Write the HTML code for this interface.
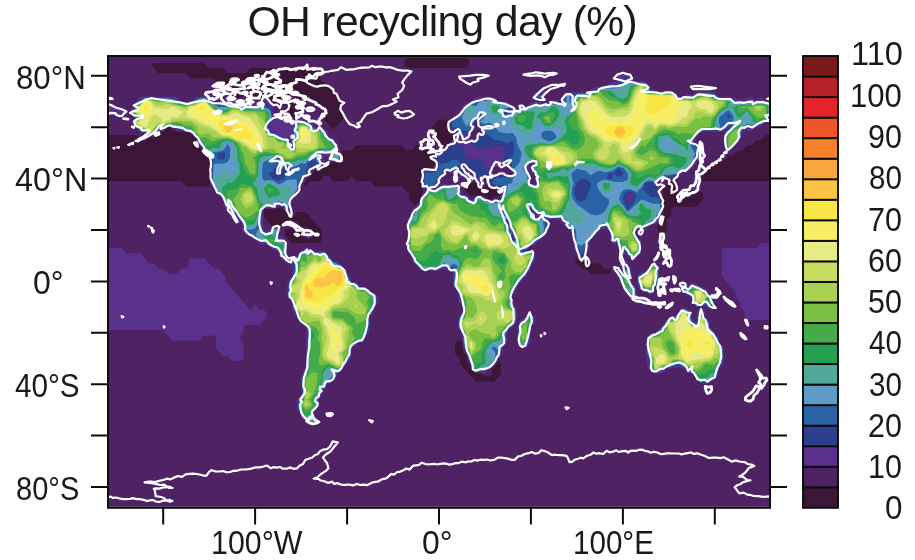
<!DOCTYPE html>
<html lang="en"><head><meta charset="utf-8"><title>OH recycling day (%)</title>
<style>
html,body{margin:0;padding:0;background:#fff;}
body{width:915px;height:560px;position:relative;overflow:hidden;font-family:"Liberation Sans",sans-serif;color:#1a1a1a;}
.title{position:absolute;font-size:42.7px;letter-spacing:-0.68px;line-height:48px;white-space:nowrap;text-align:center;}
.lab{position:absolute;font-size:32.4px;line-height:36px;white-space:nowrap;transform-origin:0 0;}
</style></head><body>
<svg width="915" height="560" viewBox="0 0 915 560" style="position:absolute;left:0;top:0">
<defs><clipPath id="fc"><rect x="109.0" y="57.0" width="660.0" height="449.8"/></clipPath></defs>
<rect x="109.0" y="57.0" width="660.0" height="449.8" fill="#4f2263"/>
<g clip-path="url(#fc)">
<path d="M475.8 381.7L480.4 381.7L485.0 381.7L489.6 381.7L494.2 381.7L496.5 379.1L498.8 376.5L501.1 374.0L501.1 368.8L501.1 363.7L498.8 361.1L497.1 363.7L494.2 366.9L491.9 368.8L491.9 374.0L489.6 376.5L485.0 376.5L482.7 374.0L480.4 373.5L475.8 373.6L471.5 368.8L471.2 367.4L467.8 363.7L466.9 358.5L466.6 356.0L464.3 353.4L462.3 348.3L462.2 343.1L462.0 340.6L457.4 340.6L455.1 343.1L455.1 348.3L455.1 353.4L457.4 356.0L459.7 358.5L459.7 363.7L462.0 366.3L464.3 368.8L466.6 371.4L468.9 374.0L471.2 376.5L473.5 379.1L475.8 381.7ZM590.7 273.7L595.3 273.7L599.9 273.7L604.5 273.7L609.1 273.7L611.4 271.2L609.1 268.6L604.5 268.6L602.2 266.0L599.9 263.5L595.3 263.5L590.7 263.5L586.1 264.8L582.6 260.9L581.5 260.1L576.9 258.3L574.6 260.9L576.9 263.5L579.2 266.0L581.5 268.6L586.1 268.6L588.4 271.2L590.7 273.7ZM291.9 242.9L296.5 242.9L301.1 242.9L305.7 242.9L310.3 242.9L314.9 242.9L319.5 242.9L321.8 240.3L321.8 235.2L321.8 230.0L319.5 227.5L317.2 224.9L314.9 222.3L312.6 219.8L310.3 217.2L308.0 214.6L305.7 212.1L301.1 212.1L296.5 212.1L295.3 214.6L291.9 218.5L288.4 214.6L287.3 214.0L283.2 209.5L282.7 208.8L278.1 208.1L273.5 209.0L268.9 209.0L264.3 209.1L264.0 209.5L263.9 214.6L264.3 217.2L266.6 219.8L268.9 222.3L271.2 224.9L273.5 225.4L278.1 225.5L282.7 227.5L284.1 224.9L287.3 221.3L291.9 220.6L296.5 221.8L299.2 224.9L299.9 230.0L296.5 233.4L293.5 230.0L291.9 229.2L287.3 228.5L285.0 230.0L285.0 235.2L287.3 237.8L289.6 240.3L291.9 242.9ZM302.2 235.2L301.9 230.0L305.7 226.3L309.5 230.0L310.3 230.8L313.8 235.2L310.3 239.2L305.7 239.1L302.2 235.2ZM659.7 232.6L664.3 232.6L666.6 230.0L666.6 224.9L666.6 219.8L668.9 217.2L671.2 214.6L671.2 209.5L673.5 206.9L678.1 206.9L682.7 206.9L687.3 206.9L691.8 206.9L696.4 206.9L698.7 204.3L701.0 201.8L703.3 199.2L703.3 194.1L701.0 191.5L696.4 192.9L694.2 194.1L691.8 196.7L687.3 196.9L682.7 195.8L681.1 194.1L678.1 191.5L675.4 188.9L675.4 183.8L673.5 182.0L668.9 182.2L666.6 183.8L664.3 186.4L663.2 188.9L663.1 194.1L663.7 199.2L663.8 204.3L663.8 209.5L663.3 214.6L663.0 219.8L659.7 223.5L657.4 224.9L657.4 230.0L659.7 232.6ZM416.0 205.1L416.5 204.3L420.6 199.8L420.9 199.2L421.7 194.1L422.9 188.9L421.2 183.8L421.2 178.6L421.2 173.5L425.2 168.5L429.8 169.0L431.8 168.4L434.4 165.6L435.1 163.2L434.4 162.3L430.6 158.1L434.4 153.5L435.4 153.0L434.4 151.1L432.0 147.8L433.0 142.7L429.8 138.5L426.5 142.7L425.2 146.9L420.6 145.5L416.0 145.2L413.7 147.8L411.4 150.4L406.8 150.4L404.5 147.8L402.2 145.2L397.6 145.2L393.0 145.2L388.4 145.2L383.8 145.2L379.2 145.2L374.6 145.2L370.0 145.2L365.4 145.2L360.8 145.2L356.2 145.2L354.0 147.8L351.7 150.4L347.1 150.4L342.5 150.4L341.8 152.9L342.3 158.1L337.9 162.8L333.3 162.8L328.7 160.7L327.6 163.2L324.1 167.2L322.6 168.4L319.5 171.9L314.9 170.9L312.6 173.5L310.3 176.1L308.0 178.6L305.7 181.2L304.3 183.8L305.7 186.4L308.0 183.8L310.3 181.2L314.9 181.2L319.5 181.2L321.8 178.6L324.1 176.1L328.7 176.1L331.0 178.6L333.3 181.2L337.9 181.2L342.5 181.2L347.1 181.2L349.4 178.6L351.7 176.1L354.0 178.6L356.2 181.2L360.8 181.2L365.4 181.2L370.0 181.2L372.3 183.8L374.6 186.4L379.2 186.4L383.8 186.4L388.4 186.4L393.0 186.4L397.6 186.4L402.2 186.4L404.5 188.9L406.8 191.5L409.1 194.1L409.1 199.2L411.4 201.8L413.7 204.3L416.0 205.1ZM489.6 199.6L491.9 199.2L494.2 196.6L498.8 196.6L500.0 194.1L498.8 193.0L494.6 188.9L494.2 188.7L489.6 188.1L485.0 186.4L480.4 187.9L476.7 183.8L475.8 182.6L471.2 182.2L469.8 183.8L466.6 187.4L464.3 188.9L466.6 191.5L468.9 194.1L471.2 196.6L475.8 194.9L480.4 194.4L485.0 195.4L488.4 199.2L489.6 199.6ZM301.1 191.5L303.4 188.9L301.1 187.4L300.6 188.9L301.1 191.5ZM186.2 186.4L190.7 186.4L195.3 186.4L199.9 186.4L204.5 186.4L209.1 186.4L209.6 183.8L209.6 178.6L209.6 173.5L209.6 168.4L209.7 163.2L209.1 159.4L208.0 158.1L204.5 154.5L203.2 152.9L200.3 147.8L199.9 146.7L196.4 142.7L195.6 137.5L195.3 137.2L190.7 134.8L188.6 132.4L186.2 132.1L181.6 132.0L177.0 131.8L172.4 130.3L169.6 127.2L167.8 127.0L167.5 127.2L163.2 132.1L158.6 131.9L158.2 132.4L154.0 137.1L149.4 137.3L148.8 137.5L144.8 142.0L140.2 139.9L138.1 137.5L135.6 135.0L131.0 135.0L126.4 135.0L121.8 135.0L117.2 135.0L112.6 135.0L108.0 135.0L108.0 137.5L108.0 142.7L108.0 147.8L108.0 152.9L108.0 158.1L108.0 163.2L108.0 168.4L108.0 173.5L108.0 178.6L108.0 181.2L112.6 181.2L117.2 181.2L121.8 181.2L126.4 181.2L131.0 181.2L135.6 181.2L140.2 181.2L144.8 181.2L149.4 181.2L154.0 181.2L158.6 181.2L163.2 181.2L167.8 181.2L172.4 181.2L177.0 181.2L181.6 181.2L183.9 183.8L186.2 186.4ZM701.0 181.2L705.6 181.2L710.2 181.2L714.8 181.2L719.4 181.2L724.0 181.2L728.6 181.2L733.2 181.2L737.8 181.2L742.4 181.2L747.0 181.2L751.6 181.2L756.2 181.2L760.8 181.2L765.4 181.2L770.0 181.2L770.0 178.6L770.0 173.5L770.0 168.4L770.0 163.2L770.0 158.1L770.0 152.9L770.0 147.8L770.0 142.7L770.0 137.5L770.0 135.0L765.4 135.0L763.1 137.5L760.8 140.1L756.2 140.1L753.9 142.7L751.6 145.2L747.0 145.2L744.7 147.8L742.4 150.4L737.8 150.4L735.5 152.9L733.2 155.5L728.6 155.5L726.3 158.1L724.0 160.7L719.4 160.7L717.1 163.2L714.8 165.8L710.2 165.8L707.9 168.4L705.6 170.9L704.9 173.5L701.0 177.8L700.2 178.6L701.0 181.2ZM443.6 148.6L444.4 147.8L448.2 143.5L450.0 142.7L452.8 139.5L453.9 137.5L452.8 134.9L450.6 132.4L448.2 129.7L446.0 127.2L448.2 123.8L448.5 122.1L448.2 120.5L443.6 119.5L439.0 119.5L436.7 122.1L434.4 124.7L432.1 127.2L431.3 132.4L434.4 136.8L435.0 137.5L437.1 142.7L439.0 143.3L442.3 147.8L443.6 148.6ZM333.3 129.8L335.6 127.2L337.9 124.7L340.2 122.1L342.5 119.5L344.0 117.0L342.5 114.7L339.9 111.8L340.2 106.7L340.5 101.6L337.9 97.4L337.0 96.4L334.6 91.3L333.3 89.7L328.7 86.1L328.7 86.1L324.1 82.0L321.1 81.0L320.1 75.8L319.5 74.1L319.3 75.8L314.9 79.6L312.5 75.8L314.9 72.6L318.9 70.7L314.9 69.2L310.3 69.1L305.7 69.0L301.1 69.0L296.5 68.9L291.9 68.9L287.3 68.8L282.7 68.8L278.1 69.7L273.5 68.2L268.9 68.1L264.3 68.1L259.7 68.1L255.1 68.1L250.5 68.1L248.2 70.7L245.9 73.3L241.3 73.3L236.7 73.3L232.1 73.3L227.5 73.3L225.2 70.7L222.9 68.1L218.3 68.1L213.7 68.1L209.1 68.1L206.8 65.6L204.5 63.0L199.9 63.0L195.3 63.0L190.7 63.0L186.2 63.0L181.6 63.0L177.0 63.0L172.4 63.0L167.8 63.0L163.2 63.0L158.6 63.0L154.0 63.0L151.7 65.6L154.0 68.1L156.3 70.7L158.6 73.3L163.2 73.3L167.8 73.3L172.4 73.3L177.0 73.3L181.6 73.3L186.2 73.3L188.4 75.8L190.7 78.4L195.3 78.4L199.9 78.4L204.5 78.4L209.1 78.4L213.7 78.4L216.0 81.0L218.3 84.6L222.9 83.8L227.5 85.3L229.0 86.1L232.1 87.7L236.7 88.7L238.0 91.3L236.7 94.3L235.9 96.4L236.7 99.6L240.6 96.4L241.3 96.2L241.9 96.4L245.9 96.7L246.7 96.4L250.5 93.3L254.3 96.4L255.1 97.6L259.7 98.1L264.3 96.9L268.9 98.3L271.3 101.6L273.5 103.3L278.1 105.9L282.7 105.7L287.3 102.2L288.6 106.7L287.3 108.2L284.7 111.8L287.3 114.4L289.6 117.0L291.9 118.2L296.5 117.6L298.1 117.0L301.1 112.3L301.9 111.8L302.7 106.7L301.1 103.3L299.6 101.6L301.1 97.8L305.7 99.1L310.3 99.7L312.1 101.6L314.9 104.5L319.5 104.8L321.2 106.7L324.1 109.6L326.1 111.8L324.1 114.1L322.8 117.0L324.1 119.5L326.4 122.1L328.7 124.7L331.0 127.2L333.3 129.8ZM286.1 96.4L287.3 95.6L291.9 94.7L296.5 95.4L299.9 96.4L296.5 98.1L291.9 98.4L287.3 100.0L286.1 96.4ZM218.3 94.0L219.9 91.3L218.3 89.1L215.7 91.3L218.3 94.0ZM406.8 68.1L411.4 68.1L416.0 68.1L420.6 68.1L425.2 68.1L429.8 68.1L434.4 68.1L439.0 68.1L443.6 68.1L448.2 68.1L452.8 68.1L457.4 68.1L462.0 68.1L466.6 68.1L468.9 65.6L468.9 60.4L466.6 57.9L462.0 57.9L457.4 57.9L452.8 57.9L448.2 57.9L443.6 57.9L439.0 57.9L434.4 57.9L429.8 57.9L425.2 57.9L420.6 57.9L416.0 57.9L411.4 57.9L406.8 57.9L404.5 60.4L404.5 65.6L406.8 68.1Z" fill="#3b1637" fill-rule="evenodd"/>
<path d="M324.1 453.7L328.7 452.8L330.2 451.1L328.7 449.2L324.1 449.0L321.8 451.1L324.1 453.7ZM333.3 448.2L335.3 445.9L333.3 443.6L331.0 445.9L333.3 448.2ZM310.3 424.8L314.9 424.8L318.9 420.2L314.9 415.7L314.4 415.1L314.5 409.9L314.9 409.5L319.1 404.8L319.0 399.7L319.5 398.6L323.1 394.5L323.7 389.4L324.1 388.8L328.1 384.2L328.7 383.6L333.3 381.5L335.4 379.1L337.3 374.0L337.9 373.6L342.1 368.8L342.5 368.6L346.8 363.7L347.1 363.0L351.1 358.5L351.4 353.4L351.4 348.3L351.7 347.9L356.2 345.3L358.2 343.1L360.8 342.8L365.1 338.0L365.4 337.2L369.4 332.8L369.7 327.7L369.7 322.6L369.8 317.4L370.0 316.7L374.0 312.3L374.3 307.1L374.6 306.5L378.7 302.0L378.4 296.9L374.6 292.7L371.4 291.7L370.0 290.3L365.4 286.9L360.8 286.9L360.5 286.6L356.2 281.9L351.7 281.7L351.4 281.4L349.7 276.3L347.1 273.4L346.9 271.2L342.5 266.2L342.0 266.0L337.9 261.4L333.3 261.1L333.0 260.9L328.7 256.0L328.4 255.8L324.1 250.9L319.5 250.9L314.9 250.9L310.3 250.8L309.6 250.6L305.7 246.9L302.3 250.6L301.1 251.0L296.8 255.8L296.5 256.2L291.9 257.2L287.7 255.8L287.3 255.3L286.9 250.6L286.9 245.5L286.0 240.3L282.7 236.6L278.1 235.3L278.0 235.2L278.1 235.1L282.0 230.0L278.1 226.7L273.5 226.2L269.4 230.0L268.9 230.5L264.3 230.5L263.7 230.0L263.1 224.9L263.3 219.8L263.0 214.6L263.5 209.5L264.3 208.2L268.9 208.1L273.5 208.0L278.1 205.4L282.7 207.5L284.3 209.5L287.3 212.8L290.7 214.6L291.9 215.9L293.1 214.6L291.9 210.1L291.8 209.5L291.4 204.3L291.7 199.2L291.9 199.0L296.5 197.0L299.1 194.1L299.7 188.9L301.1 184.4L301.6 183.8L304.9 178.6L305.7 177.7L309.4 173.5L310.3 172.3L313.8 168.4L314.9 167.1L318.8 168.4L319.5 168.7L319.7 168.4L324.1 164.9L325.6 163.2L324.1 160.2L322.9 158.1L324.1 156.8L328.7 156.7L329.1 158.1L333.3 162.0L337.9 162.0L341.5 158.1L340.6 152.9L337.9 148.8L337.5 147.8L337.4 142.7L333.3 138.0L328.7 137.6L328.6 137.5L327.9 132.4L324.1 128.1L319.5 127.4L314.9 127.5L314.5 127.2L314.9 124.8L319.5 124.9L321.2 122.1L320.2 117.0L319.5 115.3L317.7 117.0L314.9 119.3L312.4 122.1L310.3 122.5L305.7 122.2L305.4 122.1L301.1 117.8L296.5 120.2L291.9 120.6L287.3 119.3L282.7 119.3L278.1 119.4L275.5 117.0L273.5 114.7L273.0 111.8L273.3 106.7L268.9 103.0L267.8 101.6L264.3 98.7L260.8 101.6L259.7 102.4L255.1 103.2L250.5 101.6L250.5 101.5L245.9 98.8L241.3 101.0L240.8 101.6L236.7 102.3L234.5 101.6L232.1 97.9L227.5 98.1L222.9 100.5L221.6 101.6L218.3 102.4L213.7 102.0L213.1 101.6L212.1 96.4L209.1 92.2L205.6 96.4L204.5 96.6L199.9 96.7L195.3 97.1L191.3 101.6L190.7 101.8L186.2 101.9L181.6 101.7L181.2 101.6L177.0 97.1L172.4 96.8L167.8 96.7L163.2 96.7L158.6 96.7L154.0 96.7L149.4 96.6L144.8 96.6L140.2 97.6L136.7 101.6L135.6 102.6L131.9 106.7L131.2 111.8L135.6 116.8L135.9 117.0L135.6 117.2L131.2 122.1L135.6 127.0L135.8 127.2L140.2 132.1L144.8 132.2L145.0 132.4L144.8 133.2L141.0 137.5L144.8 140.8L147.7 137.5L149.4 136.8L154.0 136.3L157.5 132.4L158.6 130.8L163.2 131.4L166.9 127.2L167.8 126.6L172.4 127.1L172.7 127.2L177.0 130.7L181.6 131.3L186.2 131.5L190.7 132.0L191.1 132.4L195.3 136.7L196.1 137.5L198.4 142.7L199.9 144.4L201.1 147.8L204.5 152.1L205.4 152.9L209.1 157.1L210.3 158.1L210.7 163.2L210.6 168.4L210.4 173.5L210.4 178.6L210.6 183.8L213.7 188.2L214.2 188.9L218.3 193.7L218.6 194.1L222.9 198.8L223.3 199.2L223.5 204.3L225.3 209.5L227.5 212.0L228.2 214.6L232.1 219.0L233.8 219.8L236.7 223.0L241.3 222.2L241.7 224.9L242.0 230.0L245.9 234.4L247.6 235.2L250.5 238.4L255.1 239.6L256.0 240.3L259.7 244.5L264.3 244.8L268.9 245.1L269.3 245.5L273.5 250.2L278.1 250.2L278.5 250.6L278.7 255.8L282.7 260.2L284.1 260.9L287.3 264.5L291.9 264.6L292.5 266.0L292.4 271.2L292.1 276.3L291.9 276.7L287.6 281.4L287.5 286.6L287.5 291.7L287.5 296.9L291.9 301.7L292.1 302.0L292.1 307.1L292.8 312.3L296.5 316.5L296.7 317.4L301.1 322.3L301.3 322.6L305.7 327.4L306.0 327.7L306.1 332.8L306.1 338.0L306.0 343.1L306.0 348.3L306.0 353.4L306.0 358.5L306.0 363.7L305.7 368.8L305.7 368.9L301.5 374.0L301.4 379.1L301.4 384.2L301.4 389.4L301.3 394.5L301.1 395.1L297.0 399.7L296.8 404.8L296.9 409.9L301.1 414.6L301.4 415.1L305.7 419.8L306.2 420.2L310.3 424.8ZM236.0 214.6L236.7 214.3L237.0 214.6L236.7 216.5L236.0 214.6ZM277.5 158.1L278.1 157.8L278.4 158.1L278.1 158.9L277.5 158.1ZM268.6 127.2L268.9 126.2L271.0 127.2L268.9 127.9L268.6 127.2ZM328.7 418.0L331.2 415.1L328.7 412.2L326.1 415.1L328.7 418.0ZM747.0 399.8L747.8 399.7L747.0 399.5L746.9 399.7L747.0 399.8ZM751.6 396.6L752.1 394.5L751.6 394.1L751.2 394.5L751.6 396.6ZM705.6 392.4L710.2 393.5L713.9 389.4L710.2 385.3L705.6 386.4L702.9 389.4L705.6 392.4ZM756.2 389.4L756.2 389.4L756.2 389.4L756.2 389.4L756.2 389.4ZM701.0 383.8L705.6 383.8L710.2 383.6L714.3 379.1L714.8 378.6L719.0 374.0L719.1 368.8L719.4 368.2L723.5 363.7L723.8 358.5L723.8 353.4L723.8 348.3L719.4 343.4L719.2 343.1L719.1 338.0L714.8 333.2L714.6 332.8L710.2 327.9L710.0 327.7L710.0 322.6L705.6 317.7L705.4 317.4L704.9 312.3L701.0 308.0L697.2 312.3L696.7 317.4L696.7 322.6L696.4 322.8L695.6 322.6L691.8 318.4L691.6 317.4L691.4 312.3L687.3 307.7L682.7 307.4L678.3 312.3L678.1 312.6L673.6 317.4L673.5 317.5L668.9 317.7L664.5 322.6L664.3 323.1L660.1 327.7L659.7 328.1L655.4 332.8L655.1 333.1L650.5 333.1L646.1 338.0L646.1 343.1L646.1 348.3L646.1 353.4L646.5 358.5L647.0 363.7L648.2 368.8L650.5 371.4L655.1 373.7L659.7 373.6L664.3 372.1L667.2 368.8L668.9 368.5L673.5 368.3L678.1 366.9L682.7 368.4L683.4 368.8L687.3 373.2L691.8 373.6L692.2 374.0L696.4 378.7L696.8 379.1L701.0 383.8ZM475.8 372.9L480.4 372.6L485.0 373.1L488.8 368.8L489.6 368.3L494.0 363.7L494.2 363.5L498.2 358.5L498.8 357.4L502.3 353.4L502.8 348.3L503.4 347.4L507.2 343.1L507.5 338.0L507.6 332.8L508.0 332.1L511.9 327.7L512.6 327.2L516.7 322.6L516.9 317.4L516.9 312.3L516.5 307.1L512.6 302.6L512.3 302.0L512.3 296.9L512.6 295.8L516.2 291.7L516.8 286.6L517.2 286.2L521.4 281.4L521.8 281.0L526.0 276.3L526.3 275.6L530.3 271.2L530.7 266.0L530.9 265.5L535.1 260.9L535.3 255.8L530.9 250.7L526.3 250.9L521.8 250.9L521.5 250.6L521.8 250.3L526.3 250.3L530.7 245.5L530.9 245.2L535.5 244.5L539.3 240.3L540.1 239.9L544.4 235.2L544.7 234.4L548.6 230.0L549.1 224.9L548.4 219.8L549.3 219.3L553.9 219.4L558.5 219.4L559.8 219.8L563.1 223.4L563.9 224.9L567.7 229.2L569.3 230.0L572.3 233.8L572.8 235.2L572.9 240.3L573.0 245.5L574.3 250.6L576.9 253.6L577.8 255.8L581.5 258.7L584.8 260.9L586.1 262.3L588.6 260.9L586.1 257.6L585.4 255.8L586.1 254.3L589.0 250.6L589.8 245.5L590.1 240.3L590.7 239.7L594.7 235.2L595.3 234.6L599.3 230.0L599.9 229.4L604.5 229.1L609.1 229.7L609.4 230.0L609.4 235.2L610.1 240.3L613.7 244.4L618.3 245.2L618.5 245.5L619.4 250.6L622.9 254.5L627.5 255.0L627.9 255.8L632.1 260.4L636.7 256.9L637.8 255.8L641.0 250.6L641.1 245.5L640.9 240.3L636.7 235.6L636.4 235.2L636.4 230.0L636.7 229.7L637.8 230.0L641.3 233.9L644.7 230.0L645.9 229.5L650.0 224.9L650.5 224.4L655.1 224.1L659.7 220.6L660.4 219.8L661.3 214.6L663.0 209.5L662.8 204.3L662.5 199.2L660.8 194.1L661.0 188.9L659.7 185.5L659.0 183.8L659.7 183.2L664.3 180.6L668.9 179.1L670.3 178.6L673.5 178.2L678.1 177.8L681.9 173.5L682.7 173.0L687.3 172.9L691.3 168.4L691.8 167.7L695.8 163.2L696.4 160.3L701.0 161.8L704.4 158.1L704.8 152.9L704.6 147.8L701.0 143.8L696.4 143.7L695.4 142.7L696.1 137.5L696.4 137.2L700.7 132.4L701.0 132.1L705.6 132.1L710.2 132.0L714.8 131.9L719.4 131.7L724.0 131.1L724.5 132.4L724.3 137.5L724.3 142.7L724.3 147.8L728.6 152.6L732.9 147.8L733.2 147.5L737.5 142.7L737.8 142.3L742.1 137.5L742.1 132.4L742.4 131.9L747.0 130.6L751.6 131.3L755.2 127.2L756.2 126.9L760.8 126.7L765.4 122.1L765.4 122.1L769.7 117.0L770.0 116.4L770.0 111.8L770.0 106.7L770.0 102.1L765.9 101.6L765.4 101.0L760.8 97.3L756.2 99.8L751.6 97.8L747.0 97.6L742.4 100.1L737.8 99.2L733.2 97.2L728.6 96.8L724.0 96.7L719.4 96.7L718.7 96.4L714.8 92.1L710.2 91.6L705.6 91.6L701.0 91.6L696.4 91.7L691.8 95.6L687.3 93.3L684.5 96.4L682.7 96.6L678.1 96.6L677.9 96.4L673.5 91.5L670.0 91.3L668.9 89.9L667.7 91.3L664.3 91.5L659.7 91.5L656.6 91.3L655.1 89.5L650.5 87.2L650.2 86.1L645.9 81.3L641.3 81.2L636.7 81.3L633.8 81.0L632.1 79.1L630.7 75.8L627.5 72.3L622.9 73.3L618.3 73.6L616.3 75.8L618.3 78.1L619.8 81.0L618.3 81.8L613.7 82.1L609.1 82.7L606.0 86.1L604.5 86.5L599.9 86.5L595.3 87.0L590.7 89.2L588.9 91.3L586.1 91.7L581.5 91.6L576.9 92.1L572.3 92.4L567.7 91.9L563.3 96.4L563.1 96.9L559.5 101.6L558.5 102.0L555.4 101.6L553.9 99.9L552.5 101.6L549.3 102.1L544.7 102.2L540.1 102.1L535.5 102.1L530.9 102.4L527.1 106.7L526.3 107.1L525.5 106.7L521.8 102.5L518.0 106.7L517.2 107.4L514.0 106.7L512.6 105.0L508.0 102.2L503.4 102.1L498.8 102.0L498.3 101.6L494.2 96.9L489.6 96.9L485.0 97.1L480.4 97.1L475.8 97.5L472.2 101.6L471.2 102.0L466.6 102.4L462.7 106.7L462.0 107.8L458.4 111.8L457.4 112.9L453.8 117.0L452.8 117.9L449.8 122.1L449.1 127.2L452.8 131.4L457.4 131.5L458.4 132.4L457.4 134.7L456.1 137.5L453.6 142.7L452.8 143.4L448.2 145.2L445.9 147.8L443.6 150.2L439.7 147.8L439.0 146.8L437.4 147.8L438.8 152.9L434.4 155.6L432.3 158.1L434.4 160.4L436.4 163.2L435.1 168.4L434.4 169.1L429.8 170.3L425.2 169.9L422.3 173.5L422.3 178.6L422.3 183.8L425.2 188.1L426.1 188.9L425.2 191.2L423.8 194.1L421.4 199.2L420.6 200.9L417.5 204.3L416.0 206.5L412.3 209.5L411.4 214.3L411.1 214.6L407.3 219.8L407.1 224.9L407.1 230.0L407.1 235.2L407.1 240.3L406.8 244.1L405.6 245.5L406.8 246.8L407.1 250.6L411.4 255.4L411.7 255.8L411.9 260.9L416.0 265.5L416.5 266.0L420.6 270.7L425.2 270.8L429.8 270.8L434.4 270.7L439.0 270.7L443.6 269.2L448.2 270.5L452.8 271.0L452.9 271.2L453.1 276.3L453.0 281.4L453.0 286.6L457.4 291.4L457.6 291.7L457.8 296.9L458.9 302.0L462.0 305.4L462.3 307.1L462.3 312.3L462.0 312.8L457.9 317.4L457.6 322.6L457.7 327.7L462.0 332.5L462.2 332.8L462.2 338.0L462.7 343.1L463.1 348.3L466.6 352.9L466.8 353.4L467.5 358.5L470.4 363.7L471.2 364.6L472.1 368.8L475.8 372.9ZM512.3 240.3L512.3 235.2L512.6 234.4L512.8 235.2L513.1 240.3L512.6 240.6L512.3 240.3ZM507.7 224.9L507.6 219.8L508.0 219.4L508.3 219.8L508.3 224.9L508.0 225.8L507.7 224.9ZM535.0 214.6L535.5 214.2L540.1 214.5L540.4 214.6L540.1 214.8L535.5 215.2L535.0 214.6ZM530.6 209.5L530.9 208.9L531.4 209.5L530.9 210.1L530.6 209.5ZM470.7 199.2L466.6 194.7L462.0 194.5L461.6 194.1L461.5 188.9L457.4 184.3L452.8 184.3L448.2 184.3L443.6 184.2L439.0 184.6L438.1 183.8L439.0 182.6L442.6 178.6L443.6 177.5L447.1 173.5L448.2 172.6L452.8 172.4L457.4 172.4L458.7 173.5L457.4 178.2L457.0 178.6L457.4 179.1L457.8 178.6L462.0 177.2L466.6 178.3L468.1 178.6L471.2 179.1L475.8 180.2L478.5 183.8L480.4 185.9L483.5 183.8L483.5 178.6L485.0 176.9L486.4 178.6L486.1 183.8L489.6 186.4L494.2 187.2L496.8 188.9L498.8 190.8L502.5 194.1L499.2 199.2L498.8 199.8L494.2 199.8L489.6 200.5L486.1 199.2L485.0 198.0L480.4 195.1L475.8 196.6L472.3 199.2L471.2 199.6L470.7 199.2ZM433.5 188.9L434.4 187.9L435.2 188.9L434.4 189.3L433.5 188.9ZM530.6 183.8L530.4 178.6L530.4 173.5L528.3 168.4L530.5 163.2L530.9 162.8L532.0 163.2L531.3 168.4L531.7 173.5L535.5 177.8L535.9 178.6L535.8 183.8L535.5 184.1L530.9 184.2L530.6 183.8ZM469.6 173.5L471.2 172.3L472.4 173.5L471.2 177.5L469.6 173.5ZM492.7 173.5L492.5 168.4L494.2 166.0L498.8 165.3L503.4 166.9L508.0 164.3L508.7 168.4L512.6 172.7L513.2 173.5L512.6 174.2L508.0 174.3L505.8 173.5L503.4 170.7L498.8 171.8L497.2 173.5L494.2 174.6L492.7 173.5ZM465.7 168.4L466.6 167.2L467.6 168.4L466.6 170.0L465.7 168.4ZM460.9 137.5L462.0 137.1L462.9 137.5L462.0 138.4L460.9 137.5ZM469.3 137.5L470.3 132.4L471.2 131.7L475.1 127.2L475.1 122.1L475.8 121.5L476.4 122.1L478.0 127.2L480.4 129.9L481.3 132.4L480.4 133.7L477.0 137.5L475.8 138.9L471.2 139.1L469.3 137.5ZM727.5 127.2L728.6 126.4L729.4 127.2L728.6 127.7L727.5 127.2ZM232.1 361.1L236.7 361.1L241.3 361.1L243.6 358.5L243.6 353.4L243.6 348.3L243.6 343.1L241.3 340.6L239.0 338.0L241.3 335.4L243.6 332.8L243.6 327.7L245.9 325.1L250.5 325.1L255.1 325.1L259.7 325.1L262.0 322.6L264.3 320.0L266.6 317.4L266.6 312.3L264.3 309.7L259.7 309.7L257.4 307.1L255.1 304.6L252.8 307.1L250.5 309.7L248.2 307.1L245.9 304.6L243.6 302.0L241.3 299.4L239.0 296.9L236.7 294.3L234.4 291.7L232.1 289.2L229.8 286.6L227.5 284.0L225.2 281.4L225.2 276.3L222.9 273.7L220.6 271.2L218.3 268.6L213.7 268.6L211.4 266.0L209.1 263.5L206.8 260.9L204.5 258.3L199.9 258.3L195.3 258.3L190.7 258.3L188.4 260.9L188.4 266.0L186.2 268.6L181.6 268.6L179.3 271.2L177.0 273.7L172.4 273.7L167.8 273.7L165.5 271.2L163.2 268.6L158.6 268.6L156.3 266.0L154.0 263.5L149.4 263.5L147.1 260.9L144.8 258.3L142.5 255.8L140.2 253.2L135.6 253.2L131.0 253.2L126.4 253.2L124.1 250.6L121.8 248.0L117.2 248.0L112.6 248.0L108.0 248.0L108.0 250.6L108.0 255.8L108.0 260.9L108.0 266.0L108.0 271.2L108.0 276.3L108.0 281.4L108.0 286.6L108.0 291.7L108.0 296.9L108.0 302.0L108.0 307.1L108.0 312.3L108.0 317.4L108.0 322.6L108.0 327.7L108.0 330.3L112.6 330.3L117.2 330.3L121.8 330.3L126.4 330.3L131.0 330.3L135.6 330.3L140.2 330.3L144.8 330.3L149.4 330.3L154.0 330.3L158.6 330.3L163.2 330.3L165.5 332.8L167.8 335.4L170.1 338.0L172.4 340.6L177.0 340.6L181.6 340.6L186.2 340.6L190.7 340.6L195.3 340.6L199.9 340.6L202.2 338.0L204.5 335.4L209.1 335.4L213.7 335.4L216.0 338.0L216.0 343.1L216.0 348.3L218.3 350.8L220.6 353.4L222.9 356.0L227.5 356.0L229.8 358.5L232.1 361.1ZM521.8 347.9L526.3 347.4L530.2 343.1L530.7 338.0L530.7 332.8L530.9 327.7L530.9 327.6L535.1 322.6L535.1 317.4L530.9 312.8L526.3 316.2L525.3 317.4L521.8 319.3L518.8 322.6L517.4 327.7L517.4 332.8L517.4 338.0L517.5 343.1L521.8 347.9ZM747.0 320.0L751.6 320.0L756.2 320.0L760.8 320.0L765.4 320.0L770.0 320.0L770.0 317.4L770.0 312.3L770.0 307.1L770.0 302.0L770.0 296.9L770.0 291.7L770.0 286.6L770.0 281.4L770.0 276.3L770.0 271.2L770.0 266.0L770.0 260.9L770.0 255.8L770.0 250.6L770.0 245.5L770.0 242.9L765.4 242.9L760.8 242.9L758.5 245.5L756.2 248.0L751.6 248.0L747.0 248.0L742.4 248.0L737.8 248.0L733.2 248.0L728.6 248.0L724.0 248.0L721.7 250.6L721.7 255.8L721.7 260.9L721.7 266.0L721.7 271.2L721.7 276.3L724.0 278.9L726.3 281.4L728.6 284.0L730.9 286.6L733.2 289.2L735.5 291.7L735.5 296.9L737.8 299.4L740.1 302.0L740.1 307.1L742.4 309.7L744.7 312.3L744.7 317.4L747.0 320.0ZM710.2 310.1L713.3 307.1L714.5 302.0L714.8 300.9L718.5 296.9L714.8 292.8L710.2 293.4L708.9 291.7L705.6 288.1L701.0 286.8L699.7 286.6L696.4 282.9L691.8 282.1L687.8 286.6L687.3 287.1L686.9 286.6L682.7 281.9L678.4 286.6L682.7 291.3L683.1 291.7L687.3 296.4L690.7 296.9L691.8 298.2L692.1 302.0L696.4 306.9L701.0 306.9L705.6 306.6L707.6 307.1L710.2 310.1ZM641.3 303.5L645.9 305.2L648.9 302.0L645.9 298.8L641.3 300.5L639.3 302.0L641.3 303.5ZM728.6 305.2L731.5 302.0L728.6 298.8L725.8 302.0L728.6 305.2ZM632.1 300.4L636.7 300.3L639.1 296.9L636.7 294.2L636.3 291.7L635.8 286.6L632.1 282.4L631.8 281.4L631.6 276.3L631.7 271.2L629.7 266.0L627.5 263.6L626.7 260.9L622.9 256.6L619.1 260.9L619.3 266.0L618.3 266.5L614.1 271.2L618.3 275.8L618.7 276.3L618.6 281.4L622.9 286.3L623.1 286.6L623.5 291.7L627.5 296.2L628.9 296.9L632.1 300.4ZM622.5 271.2L622.9 270.1L623.3 271.2L622.9 271.6L622.5 271.2ZM650.5 296.1L654.3 291.7L654.8 286.6L655.1 286.1L656.3 286.6L656.4 291.7L659.7 295.4L664.3 293.1L665.5 291.7L664.3 289.4L663.6 286.6L661.9 281.4L659.7 279.4L659.4 276.3L659.4 271.2L659.3 266.0L655.1 261.3L650.5 265.8L650.2 266.0L646.1 271.2L645.9 271.4L641.3 271.9L637.3 276.3L636.9 281.4L637.4 286.6L641.3 291.0L645.9 291.5L646.6 291.7L650.5 296.1ZM305.7 236.5L310.3 236.9L311.8 235.2L310.3 233.3L306.7 230.0L305.7 229.1L304.7 230.0L304.5 235.2L305.7 236.5ZM287.3 225.4L291.9 227.6L295.9 224.9L291.9 222.2L287.3 224.4L286.9 224.9L287.3 225.4ZM691.8 191.1L696.4 190.6L699.1 188.9L699.9 183.8L698.4 178.6L701.0 176.2L703.4 173.5L704.8 168.4L701.0 164.2L697.3 168.4L696.4 171.2L694.4 173.5L693.3 178.6L693.0 183.8L691.8 186.9L689.8 188.9L691.8 191.1ZM466.6 184.3L467.0 183.8L466.6 180.3L465.5 183.8L466.6 184.3ZM351.7 123.8L354.2 122.1L351.7 120.1L349.9 122.1L351.7 123.8ZM112.6 115.3L117.2 115.3L121.8 115.5L125.0 111.8L121.8 108.2L117.2 108.3L115.6 106.7L112.6 103.4L108.0 104.3L108.0 106.7L108.0 111.8L108.0 114.2L112.6 115.3ZM535.5 100.2L540.1 100.8L544.1 96.4L544.7 93.9L547.2 91.3L544.7 88.7L540.1 90.1L539.1 91.3L535.5 92.6L532.2 96.4L535.5 100.2ZM553.9 87.0L555.2 86.1L553.9 85.2L552.9 86.1L553.9 87.0Z" fill="#59308c" fill-rule="evenodd"/>
<path d="M310.3 423.7L314.9 423.6L317.9 420.2L314.9 416.9L313.6 415.1L313.8 409.9L314.9 408.7L318.4 404.8L318.2 399.7L319.5 396.4L321.1 394.5L323.0 389.4L324.1 387.6L327.0 384.2L328.7 382.4L332.5 379.1L333.3 378.2L336.2 374.0L337.9 372.9L341.5 368.8L342.5 368.1L346.4 363.7L347.1 361.7L349.8 358.5L350.8 353.4L350.8 348.3L351.7 347.3L355.8 343.1L356.2 342.6L360.8 342.1L364.5 338.0L365.4 335.8L368.0 332.8L369.1 327.7L369.1 322.6L369.2 317.4L370.0 315.4L372.8 312.3L373.7 307.1L374.6 305.3L377.6 302.0L376.6 296.9L374.6 294.6L370.0 292.3L369.5 291.7L365.4 287.6L360.8 287.6L359.7 286.6L356.2 282.7L351.7 282.3L351.0 281.4L347.1 276.5L346.9 276.3L346.5 271.2L342.5 266.6L341.0 266.0L337.9 262.5L333.3 261.6L332.5 260.9L328.7 256.6L327.9 255.8L324.1 251.5L319.5 251.6L314.9 251.5L310.3 251.4L306.7 250.6L305.7 249.7L304.8 250.6L301.1 251.7L297.5 255.8L296.5 257.2L291.9 260.1L287.3 260.1L286.8 260.9L287.3 261.4L291.9 261.7L293.7 266.0L293.5 271.2L292.6 276.3L291.9 277.5L288.3 281.4L288.0 286.6L288.0 291.7L288.0 296.9L291.9 301.2L292.6 302.0L292.5 307.1L294.5 312.3L296.5 314.5L297.2 317.4L301.1 321.7L301.9 322.6L305.7 326.8L306.7 327.7L307.1 332.8L306.9 338.0L306.7 343.1L306.7 348.3L306.7 353.4L306.7 358.5L306.7 363.7L306.4 368.8L305.7 369.9L302.3 374.0L302.0 379.1L302.0 384.2L301.9 389.4L301.8 394.5L301.1 396.2L298.0 399.7L297.5 404.8L297.8 409.9L301.1 413.6L302.2 415.1L305.7 419.0L307.2 420.2L310.3 423.7ZM710.2 391.5L712.1 389.4L710.2 387.3L706.6 389.4L710.2 391.5ZM701.0 383.0L705.6 382.9L710.2 382.4L713.2 379.1L714.8 377.6L718.0 374.0L718.4 368.8L719.4 366.9L722.3 363.7L723.2 358.5L723.3 353.4L723.3 348.3L719.4 343.9L718.8 343.1L718.5 338.0L714.8 333.9L714.2 332.8L710.2 328.4L709.6 327.7L709.5 322.6L705.6 318.3L705.0 317.4L703.3 312.3L701.0 309.7L698.7 312.3L697.1 317.4L697.1 322.6L696.4 323.3L693.9 322.6L691.8 320.3L691.2 317.4L690.4 312.3L687.3 308.7L682.7 307.9L678.7 312.3L678.1 313.2L674.1 317.4L673.5 318.0L668.9 318.2L665.0 322.6L664.3 324.1L661.1 327.7L659.7 329.0L656.2 332.8L655.1 333.7L650.5 333.7L646.6 338.0L646.6 343.1L646.6 348.3L646.7 353.4L647.9 358.5L649.3 363.7L650.5 366.3L650.7 368.8L655.1 373.2L659.7 372.9L664.2 368.8L664.3 368.8L668.9 368.0L673.5 367.3L677.9 363.7L678.1 363.6L678.2 363.7L682.7 367.5L684.8 368.8L687.3 371.5L691.8 372.9L692.9 374.0L696.4 378.0L697.6 379.1L701.0 383.0ZM475.8 372.2L480.4 371.7L485.0 371.4L487.2 368.8L489.6 367.4L493.1 363.7L494.2 362.2L497.1 358.5L498.8 355.1L500.3 353.4L501.7 348.3L503.4 345.7L505.6 343.1L506.6 338.0L506.8 332.8L508.0 330.6L510.6 327.7L512.6 326.2L515.8 322.6L516.5 317.4L516.4 312.3L515.1 307.1L512.6 304.3L511.5 302.0L511.7 296.9L512.6 293.5L514.2 291.7L516.2 286.6L517.2 285.3L520.6 281.4L521.8 280.2L525.2 276.3L526.3 274.3L529.1 271.2L530.2 266.0L530.9 264.5L534.2 260.9L534.8 255.8L530.9 251.3L526.3 251.5L521.8 251.4L521.0 250.6L521.8 249.8L526.3 249.8L530.2 245.5L530.9 244.7L535.5 242.6L537.6 240.3L540.1 239.1L543.6 235.2L544.7 232.8L547.2 230.0L547.5 224.9L546.6 219.8L549.3 218.5L553.9 218.6L558.5 218.6L562.5 219.8L563.1 220.5L565.3 224.9L567.7 227.6L572.3 230.0L572.4 230.0L574.0 235.2L574.1 240.3L574.3 245.5L576.9 249.9L577.5 250.6L579.7 255.8L581.5 257.2L583.4 255.8L585.8 250.6L586.1 250.0L587.9 245.5L588.9 240.3L590.7 238.4L593.5 235.2L595.3 233.3L598.2 230.0L599.9 228.2L604.5 227.3L609.1 229.1L609.9 230.0L609.9 235.2L612.1 240.3L613.7 242.1L618.3 244.2L619.2 245.5L621.6 250.6L622.9 252.1L627.5 253.4L628.7 255.8L632.1 259.5L635.9 255.8L636.7 255.3L640.6 250.6L640.6 245.5L640.3 240.3L636.7 236.3L635.9 235.2L635.8 230.0L636.7 229.1L640.1 230.0L641.3 231.4L642.5 230.0L645.9 228.3L648.9 224.9L650.5 223.5L655.1 222.4L658.3 219.8L659.5 214.6L659.7 214.4L662.1 209.5L661.8 204.3L661.3 199.2L659.7 195.4L657.2 194.1L656.9 188.9L656.8 183.8L659.7 181.4L662.8 178.6L664.3 177.7L668.9 177.5L673.5 176.9L678.1 176.1L680.3 173.5L682.7 172.0L687.3 171.8L690.3 168.4L691.8 166.3L694.6 163.2L695.7 158.1L696.4 156.6L699.5 158.1L701.0 159.0L701.8 158.1L703.0 152.9L702.6 147.8L701.0 146.1L696.4 145.7L693.2 142.7L695.4 137.5L696.4 136.5L700.1 132.4L701.0 131.4L705.6 131.4L710.2 131.4L714.8 131.0L719.4 130.4L724.0 128.5L725.3 132.4L724.9 137.5L724.9 142.7L724.9 147.8L728.6 151.9L732.3 147.8L733.2 146.8L736.9 142.7L737.8 141.6L741.5 137.5L741.6 132.4L742.4 130.8L747.0 127.2L747.0 127.2L747.3 127.2L751.6 129.1L753.2 127.2L756.2 126.1L760.8 125.7L764.3 122.1L765.4 121.4L769.1 117.0L770.0 115.2L770.0 111.8L770.0 106.7L770.0 103.3L765.4 102.2L763.6 101.6L760.8 99.0L757.7 101.6L756.2 102.0L753.1 101.6L751.6 100.6L747.0 100.0L744.9 101.6L742.4 102.1L737.8 102.1L736.7 101.6L733.2 98.7L728.6 97.7L724.0 97.3L719.4 97.3L717.2 96.4L714.8 93.7L710.2 92.4L705.6 92.2L701.0 92.3L696.4 92.5L692.6 96.4L691.8 96.9L687.3 96.5L682.7 97.1L678.1 97.1L677.5 96.4L673.5 91.9L668.9 91.6L664.3 91.9L659.7 91.9L655.1 91.6L653.1 91.3L650.5 89.2L649.5 86.1L645.9 82.0L641.3 81.7L636.7 81.9L632.1 81.7L630.4 81.0L627.9 75.8L627.5 75.3L626.3 75.8L622.9 80.7L622.8 81.0L618.3 83.6L613.7 84.4L609.1 86.1L609.1 86.1L604.5 87.3L599.9 87.2L595.3 88.8L592.2 91.3L590.7 91.7L586.1 92.5L581.5 92.4L576.9 93.7L572.3 94.5L567.7 93.0L564.5 96.4L563.1 99.5L561.6 101.6L558.5 103.0L553.9 102.3L549.3 103.1L544.7 103.4L540.1 103.2L535.5 103.1L530.9 104.0L528.6 106.7L526.3 108.0L523.8 106.7L521.8 104.4L519.7 106.7L517.2 108.9L512.6 109.4L511.5 106.7L508.0 103.5L503.4 103.2L498.8 102.9L497.4 101.6L494.2 98.0L489.6 98.0L485.0 98.4L480.4 98.5L475.8 99.7L474.1 101.6L471.2 103.0L466.6 104.1L464.2 106.7L462.0 110.1L460.5 111.8L457.4 115.1L455.7 117.0L452.8 119.6L451.0 122.1L450.9 127.2L452.8 129.4L457.4 129.8L460.4 132.4L462.0 134.5L466.6 136.2L468.1 132.4L471.2 130.2L473.8 127.2L473.7 122.1L475.8 120.4L477.6 122.1L480.4 126.4L481.5 127.2L483.1 132.4L480.4 136.4L479.4 137.5L475.8 141.6L471.2 142.3L470.2 142.7L471.2 143.8L475.8 147.5L476.7 147.8L480.4 149.3L482.1 147.8L485.0 146.3L488.7 147.8L489.6 148.2L490.1 147.8L494.2 146.1L498.8 145.6L503.4 146.3L505.5 147.8L505.1 152.9L503.4 156.4L502.2 158.1L501.9 163.2L503.4 164.1L504.5 163.2L508.0 160.3L509.8 163.2L510.0 168.4L512.6 171.2L514.3 173.5L512.6 175.7L508.0 175.9L503.4 174.7L498.8 175.2L494.2 176.7L489.6 173.5L489.6 173.0L486.3 168.4L485.0 166.7L483.0 163.2L480.4 158.2L475.8 159.0L471.2 159.3L466.6 158.7L465.9 158.1L462.8 152.9L466.6 148.2L466.8 147.8L466.6 147.6L462.0 147.1L458.3 142.7L457.4 142.3L457.3 142.7L452.8 146.9L448.2 146.9L447.4 147.8L443.6 151.9L441.7 152.9L439.0 155.7L434.4 157.6L434.0 158.1L434.4 158.5L437.7 163.2L436.9 168.4L434.4 170.9L429.8 171.6L425.2 171.4L423.5 173.5L423.4 178.6L423.4 183.8L425.2 186.5L427.9 188.9L425.5 194.1L425.2 194.4L422.0 199.2L420.6 202.0L418.5 204.3L416.0 207.9L414.1 209.5L412.5 214.6L411.4 215.8L408.3 219.8L407.8 224.9L407.5 230.0L407.5 235.2L407.6 240.3L407.3 245.5L407.7 250.6L411.4 254.7L412.4 255.8L412.7 260.9L416.0 264.5L417.4 266.0L420.6 269.7L425.2 270.0L429.8 270.0L434.4 269.9L439.0 269.8L443.4 266.0L443.6 265.8L443.9 266.0L448.2 269.2L452.8 269.0L453.7 271.2L453.7 276.3L453.5 281.4L453.6 286.6L457.4 290.9L458.1 291.7L458.5 296.9L462.0 302.0L462.0 302.0L462.9 307.1L462.8 312.3L462.0 313.9L458.8 317.4L458.1 322.6L458.2 327.7L462.0 331.9L462.8 332.8L462.7 338.0L463.1 343.1L463.8 348.3L466.6 352.0L467.4 353.4L468.1 358.5L471.2 363.1L471.7 363.7L472.7 368.8L475.8 372.2ZM511.9 240.3L511.8 235.2L512.6 232.7L513.3 235.2L514.1 240.3L512.6 241.1L511.9 240.3ZM507.1 224.9L506.9 219.8L508.0 218.7L508.9 219.8L508.8 224.9L508.0 227.7L507.1 224.9ZM502.4 214.6L503.4 212.9L504.0 214.6L503.4 215.4L502.4 214.6ZM533.8 214.6L535.5 213.2L540.1 213.6L542.4 214.6L540.1 216.0L535.5 216.4L533.8 214.6ZM529.9 209.5L530.9 207.8L532.2 209.5L530.9 211.4L529.9 209.5ZM469.6 199.2L466.6 195.8L462.0 195.3L460.8 194.1L460.6 188.9L457.4 185.4L452.8 185.4L448.2 185.4L443.6 185.1L439.0 186.4L436.7 188.9L434.4 190.0L431.7 188.9L434.4 185.8L436.2 183.8L439.0 180.4L440.5 178.6L443.6 175.1L445.1 173.5L448.2 170.6L452.8 170.3L457.4 170.3L461.2 173.5L462.0 174.4L465.9 173.5L463.5 168.4L466.6 164.6L469.9 168.4L471.2 169.7L475.0 173.5L475.8 175.9L479.7 178.6L480.3 183.8L480.4 183.9L480.5 183.8L480.6 178.6L485.0 173.5L489.2 178.6L488.4 183.8L489.6 184.7L494.2 185.8L498.8 188.6L503.4 187.5L504.3 188.9L504.1 194.1L503.4 194.8L500.0 199.2L498.8 200.8L494.2 200.9L489.6 201.3L485.0 199.7L484.5 199.2L480.4 195.8L475.8 198.3L474.6 199.2L471.2 200.3L469.6 199.2ZM626.1 199.2L626.6 194.1L627.5 193.4L632.1 193.5L633.0 194.1L633.0 199.2L632.1 200.7L627.5 202.4L626.1 199.2ZM578.8 188.9L581.5 187.7L583.5 188.9L581.5 190.5L578.8 188.9ZM529.8 183.8L529.5 178.6L529.3 173.5L526.3 169.3L525.4 168.4L526.3 167.5L529.5 163.2L530.9 161.9L534.1 163.2L532.1 168.4L533.3 173.5L535.5 176.0L536.5 178.6L536.4 183.8L535.5 184.8L530.9 185.0L529.8 183.8ZM725.2 127.2L728.6 124.7L730.9 127.2L728.6 128.7L725.2 127.2ZM479.4 117.0L480.4 115.7L481.5 117.0L480.4 118.3L479.4 117.0ZM502.9 111.8L503.4 111.2L508.0 111.7L508.3 111.8L508.0 111.9L503.4 112.5L502.9 111.8ZM521.8 347.1L526.3 345.7L528.6 343.1L530.1 338.0L530.1 332.8L530.2 327.7L530.9 326.6L534.3 322.6L534.3 317.4L530.9 313.7L527.1 317.4L526.3 318.0L521.9 322.6L521.8 322.7L518.0 327.7L518.0 332.8L518.0 338.0L518.2 343.1L521.8 347.1ZM696.4 306.4L701.0 306.4L705.6 305.4L710.2 306.9L714.0 302.0L714.8 298.7L716.5 296.9L714.8 295.0L710.2 296.7L706.1 291.7L705.6 291.2L701.0 287.3L697.1 286.6L696.4 285.9L691.8 283.3L688.9 286.6L687.3 288.1L686.2 286.6L682.7 282.7L679.1 286.6L682.7 290.5L684.0 291.7L687.3 295.4L691.8 296.2L692.2 296.9L692.5 302.0L696.4 306.4ZM632.1 297.2L633.0 296.9L635.4 291.7L634.0 286.6L632.1 284.4L631.2 281.4L630.7 276.3L630.9 271.2L627.5 266.6L625.6 266.0L625.2 260.9L622.9 258.3L620.6 260.9L621.3 266.0L618.3 267.4L614.9 271.2L618.3 274.9L619.5 276.3L619.3 281.4L622.9 285.6L623.8 286.6L624.6 291.7L627.5 294.9L631.8 296.9L632.1 297.2ZM621.6 271.2L622.9 267.8L624.1 271.2L622.9 272.5L621.6 271.2ZM650.5 294.4L652.9 291.7L654.3 286.6L655.1 285.1L658.9 286.6L659.0 291.7L659.7 292.5L660.8 291.7L660.6 286.6L659.7 284.9L658.9 281.4L658.8 276.3L658.9 271.2L658.6 266.0L655.1 262.1L651.2 266.0L650.5 266.6L646.6 271.2L645.9 271.9L641.3 273.4L638.7 276.3L637.4 281.4L638.7 286.6L641.3 289.4L645.9 290.9L648.1 291.7L650.5 294.4ZM282.7 258.8L285.9 255.8L286.1 250.6L286.2 245.5L283.5 240.3L282.7 239.4L278.1 236.9L277.1 235.2L278.1 233.3L280.6 230.0L278.1 227.9L273.5 227.1L270.4 230.0L268.9 231.3L264.3 231.3L262.5 230.0L260.8 224.9L261.4 219.8L262.1 214.6L262.9 209.5L264.3 207.4L268.9 207.2L273.5 207.0L277.3 204.3L278.1 203.5L279.5 204.3L282.7 206.2L285.4 209.5L287.3 211.6L290.1 209.5L290.4 204.3L290.6 199.2L291.9 197.8L296.0 194.1L296.5 193.5L298.9 188.9L299.9 183.8L301.1 182.1L303.5 178.6L305.7 175.8L307.7 173.5L310.3 170.0L311.7 168.4L314.9 164.5L319.5 166.5L323.4 163.2L320.6 158.1L319.5 154.2L319.3 152.9L319.5 152.8L320.5 152.9L324.1 154.3L328.7 154.1L330.0 158.1L333.3 161.1L337.9 161.1L340.7 158.1L339.4 152.9L337.9 150.6L336.8 147.8L336.6 142.7L333.3 138.9L328.7 138.4L327.9 137.5L326.3 132.4L324.1 129.8L319.5 128.1L314.9 128.1L313.8 127.2L310.3 123.3L305.7 122.7L303.7 122.1L301.1 119.4L297.1 122.1L296.5 122.4L292.3 127.2L292.3 132.4L292.6 137.5L292.1 142.7L291.9 145.2L291.5 142.7L287.3 137.9L282.7 137.8L282.1 137.5L278.1 133.0L273.5 132.7L272.8 132.4L268.9 129.3L268.1 127.2L268.9 124.1L272.1 122.1L273.0 117.0L272.1 111.8L269.6 106.7L268.9 106.1L265.5 101.6L264.3 100.6L263.1 101.6L259.7 104.0L255.1 106.5L250.5 103.7L247.2 101.6L245.9 100.8L244.5 101.6L243.1 106.7L241.3 107.3L240.6 106.7L236.7 103.0L232.1 101.6L232.0 101.6L227.5 100.4L225.8 101.6L222.9 103.2L218.3 104.0L213.7 102.9L211.7 101.6L210.2 96.4L209.1 94.9L207.8 96.4L204.5 97.1L199.9 97.3L195.3 98.4L192.5 101.6L190.7 102.2L186.2 102.5L181.6 102.3L179.8 101.6L177.0 98.6L172.4 97.6L167.8 97.3L163.2 97.3L158.6 97.4L154.0 97.3L149.4 97.1L144.8 97.0L140.2 100.1L138.9 101.6L135.6 104.7L133.8 106.7L131.6 111.8L135.6 116.3L136.7 117.0L135.6 117.7L131.7 122.1L135.6 126.5L136.3 127.2L140.2 131.5L144.8 131.7L145.5 132.4L144.8 134.9L142.5 137.5L144.8 139.5L146.5 137.5L149.4 136.4L154.0 135.5L156.8 132.4L158.6 129.8L163.2 130.8L166.4 127.2L167.8 126.1L172.4 126.5L174.1 127.2L177.0 129.5L181.6 130.5L186.2 130.8L190.7 131.3L191.7 132.4L195.3 136.1L196.6 137.5L199.9 142.5L200.1 142.7L201.9 147.8L204.5 151.1L206.5 152.9L209.1 155.8L211.6 158.1L211.7 163.2L211.6 168.4L211.3 173.5L211.2 178.6L211.6 183.8L213.7 186.8L215.1 188.9L218.3 192.6L219.4 194.1L222.9 197.9L223.9 199.2L224.5 204.3L227.5 208.7L229.1 209.5L229.6 214.6L232.1 217.4L234.6 214.6L236.7 213.7L237.6 214.6L241.3 219.4L241.7 219.8L242.5 224.9L243.5 230.0L245.9 232.8L250.5 234.8L250.8 235.2L255.1 238.0L257.8 240.3L259.7 242.5L264.3 243.5L268.9 244.3L270.0 245.5L273.5 249.3L278.1 249.4L279.3 250.6L280.0 255.8L282.7 258.8ZM276.8 168.4L278.1 167.4L279.3 168.4L278.1 170.9L276.8 168.4ZM286.7 168.4L287.3 168.0L287.9 168.4L287.3 169.1L286.7 168.4ZM276.2 158.1L278.1 157.2L279.0 158.1L278.1 160.4L276.2 158.1ZM291.9 226.0L293.6 224.9L291.9 223.8L289.8 224.9L291.9 226.0ZM696.4 186.8L697.5 183.8L696.7 178.6L696.4 177.8L696.1 178.6L695.4 183.8L696.4 186.8ZM701.0 174.5L701.9 173.5L703.1 168.4L701.0 166.1L699.0 168.4L698.7 173.5L701.0 174.5ZM112.6 112.0L117.2 111.8L121.8 112.4L122.3 111.8L121.8 111.2L117.2 111.8L112.6 110.3L112.2 111.8L112.6 112.0ZM535.5 97.5L540.1 99.4L542.8 96.4L540.1 92.8L535.5 95.4L534.6 96.4L535.5 97.5Z" fill="#2b3f8e" fill-rule="evenodd"/>
<path d="M310.3 422.6L314.9 422.4L316.8 420.2L314.9 418.1L312.7 415.1L313.2 409.9L314.9 407.9L317.6 404.8L317.4 399.7L319.3 394.5L319.5 394.3L322.3 389.4L324.1 386.3L325.9 384.2L328.7 381.2L331.0 379.1L333.3 376.6L335.1 374.0L337.9 372.2L340.9 368.8L342.5 367.6L345.9 363.7L347.1 360.3L348.6 358.5L350.2 353.4L350.3 348.3L351.7 346.6L355.2 343.1L356.2 341.8L360.8 341.3L363.8 338.0L365.4 334.3L366.7 332.8L368.4 327.7L368.4 322.6L368.6 317.4L370.0 314.0L371.6 312.3L373.0 307.1L374.6 304.1L376.5 302.0L374.9 296.9L374.6 296.6L370.0 293.1L368.9 291.7L365.4 288.2L360.8 288.2L359.0 286.6L356.2 283.5L351.7 282.8L350.6 281.4L347.1 277.0L346.6 276.3L346.2 271.2L342.5 267.0L340.1 266.0L337.9 263.5L333.3 262.0L332.0 260.9L328.7 257.1L327.4 255.8L324.1 252.0L319.5 252.2L314.9 252.2L310.3 252.1L305.7 251.2L301.1 252.4L298.1 255.8L296.5 258.1L292.8 260.9L295.0 266.0L294.5 271.2L293.1 276.3L291.9 278.3L289.1 281.4L288.5 286.6L288.5 291.7L288.5 296.9L291.9 300.6L293.0 302.0L292.9 307.1L296.2 312.3L296.5 312.6L297.7 317.4L301.1 321.2L302.4 322.6L305.7 326.3L307.3 327.7L308.0 332.8L307.7 338.0L307.3 343.1L307.3 348.3L307.3 353.4L307.4 358.5L307.4 363.7L307.2 368.8L305.7 370.8L303.1 374.0L302.6 379.1L302.5 384.2L302.5 389.4L302.4 394.5L301.1 397.4L299.0 399.7L298.1 404.8L298.6 409.9L301.1 412.7L302.9 415.1L305.7 418.2L308.2 420.2L310.3 422.6ZM710.2 389.4L710.3 389.4L710.2 389.3L710.2 389.4L710.2 389.4ZM701.0 382.2L705.6 382.0L710.2 381.1L712.0 379.1L714.8 376.5L717.1 374.0L717.7 368.8L719.4 365.6L721.2 363.7L722.7 358.5L722.8 353.4L722.8 348.3L719.4 344.5L718.4 343.1L717.9 338.0L714.8 334.5L713.8 332.8L710.2 328.9L709.1 327.7L708.9 322.6L705.6 318.9L704.5 317.4L701.8 312.3L701.0 311.4L700.3 312.3L697.6 317.4L697.5 322.6L696.4 323.7L692.2 322.6L691.8 322.2L690.8 317.4L689.5 312.3L687.3 309.8L682.7 308.3L679.1 312.3L678.1 313.8L674.7 317.4L673.5 318.6L668.9 318.8L665.5 322.6L664.3 325.2L662.0 327.7L659.7 329.8L657.0 332.8L655.1 334.3L650.5 334.3L647.2 338.0L647.1 343.1L647.1 348.3L647.2 353.4L649.2 358.6L650.5 362.0L650.7 363.7L651.3 368.8L655.1 372.7L659.7 372.2L663.4 368.8L664.3 368.2L668.9 367.4L673.5 366.3L676.6 363.7L678.1 363.0L679.2 363.7L682.7 366.7L686.3 368.8L687.3 369.9L691.8 372.2L693.5 374.0L696.4 377.2L698.3 379.1L701.0 382.2ZM475.8 371.6L480.4 370.8L485.0 369.6L485.7 368.8L489.6 366.4L492.2 363.7L494.2 360.8L496.0 358.6L498.1 353.4L498.8 352.7L500.6 348.3L503.4 343.9L504.1 343.1L505.7 338.0L506.0 332.8L508.0 329.1L509.2 327.7L512.6 325.3L515.0 322.6L516.0 317.4L516.0 312.3L513.7 307.1L512.6 305.9L510.7 302.0L511.1 296.9L512.4 291.7L512.6 291.5L515.6 286.6L517.2 284.4L519.8 281.4L521.8 279.3L524.5 276.3L526.3 272.9L527.9 271.2L529.7 266.0L530.9 263.5L533.3 260.9L534.3 255.8L530.9 251.9L526.3 252.0L521.8 252.0L520.5 250.6L521.8 249.2L526.3 249.2L529.7 245.5L530.9 244.3L535.5 240.7L535.9 240.3L540.1 238.3L542.9 235.2L544.7 231.2L545.8 230.0L545.8 224.9L544.7 219.8L549.3 217.6L553.9 217.9L558.5 217.8L563.1 218.6L564.3 219.8L566.8 224.9L567.7 225.9L572.3 228.1L574.2 230.0L575.2 235.2L575.3 240.3L575.7 245.5L576.9 247.6L579.6 250.6L581.5 255.6L583.6 250.6L586.0 245.5L586.1 245.4L587.7 240.3L590.7 237.0L592.4 235.2L595.3 232.0L597.1 230.0L599.9 227.0L604.5 225.5L609.1 228.4L610.4 230.0L610.4 235.2L613.7 240.2L614.0 240.3L618.3 243.2L619.8 245.5L622.9 250.2L624.4 250.6L627.5 251.9L629.6 255.8L632.1 258.6L635.0 255.8L636.7 254.7L640.1 250.6L640.1 245.5L639.6 240.3L636.7 237.0L635.3 235.2L635.2 230.0L636.7 228.4L641.3 229.5L645.9 227.2L647.9 224.9L650.5 222.5L655.1 220.8L656.3 219.8L658.1 214.6L659.7 212.7L661.3 209.5L660.8 204.3L660.1 199.2L659.7 198.2L655.1 197.1L650.5 197.2L647.5 194.1L645.9 192.3L642.8 188.9L644.8 183.8L645.9 182.8L650.5 182.1L655.1 183.4L659.7 179.5L660.6 178.6L664.3 176.3L668.9 176.2L673.5 175.6L678.1 174.3L678.8 173.5L682.7 171.1L687.3 170.6L689.3 168.4L691.8 165.0L693.4 163.2L694.6 158.1L696.4 154.2L701.0 153.7L701.3 152.9L701.0 151.3L697.2 147.8L696.4 147.7L691.8 144.3L691.5 142.7L691.8 142.3L694.8 137.5L696.4 135.8L699.5 132.4L701.0 130.8L705.6 130.8L710.2 130.7L714.8 130.1L719.4 129.0L722.8 127.2L724.0 124.5L728.6 123.1L732.4 127.2L728.6 129.6L726.1 132.4L725.5 137.5L725.5 142.7L725.5 147.8L728.6 151.3L731.7 147.8L733.2 146.2L736.4 142.7L737.8 141.0L740.9 137.5L741.0 132.4L742.4 129.7L745.6 127.2L747.0 125.3L751.6 126.9L756.2 125.3L760.8 124.6L763.3 122.1L765.4 120.7L768.5 117.0L770.0 114.0L770.0 111.8L770.0 106.7L770.0 104.5L765.4 102.9L761.8 101.6L760.8 100.7L759.8 101.6L756.2 102.6L751.6 102.1L747.0 101.9L742.4 102.9L737.8 103.0L734.8 101.6L733.2 100.3L728.6 98.5L724.0 97.9L719.4 97.8L715.8 96.4L714.8 95.4L710.2 93.1L705.6 92.8L701.0 92.9L696.4 93.3L693.4 96.4L691.8 97.5L687.3 97.1L682.7 97.5L678.1 97.5L677.1 96.4L673.5 92.3L668.9 92.1L664.3 92.3L659.7 92.3L655.1 92.0L650.5 91.3L650.4 91.3L648.9 86.1L645.9 82.7L641.3 82.2L636.7 82.6L632.1 82.7L628.1 81.0L627.5 79.7L626.5 81.0L622.9 82.6L618.3 85.3L615.2 86.1L613.7 86.6L609.1 87.4L604.5 88.0L599.9 87.9L595.3 90.6L594.5 91.3L590.7 92.2L586.1 93.4L581.5 93.1L576.9 95.3L573.1 96.4L572.3 97.7L572.0 96.4L567.7 94.2L565.6 96.4L563.9 101.6L563.1 102.5L558.5 104.0L553.9 103.3L549.3 104.2L544.7 104.6L540.1 104.3L535.5 104.1L530.9 105.7L530.1 106.7L526.3 108.8L522.0 106.7L521.8 106.4L521.5 106.7L517.2 110.4L513.8 111.8L512.6 112.5L508.0 114.1L503.4 114.0L501.9 111.8L503.4 109.8L508.0 109.7L510.1 106.7L508.0 104.7L503.4 104.3L498.8 103.8L496.5 101.6L494.2 99.0L489.6 99.0L485.0 99.6L480.4 100.0L476.3 101.6L475.8 102.2L471.2 104.0L466.6 105.8L465.8 106.7L462.5 111.8L462.0 112.8L458.0 117.0L457.4 118.4L452.8 121.4L452.3 122.1L452.6 127.3L452.8 127.4L457.4 128.0L462.0 131.1L466.6 131.2L471.2 128.7L472.4 127.2L472.3 122.1L475.8 119.2L478.2 117.0L480.4 114.0L482.9 117.0L480.4 120.0L478.9 122.1L480.4 124.5L483.8 127.2L484.9 132.4L485.0 132.8L489.6 136.4L491.1 137.5L494.2 139.9L498.8 140.4L503.4 141.8L505.6 142.7L508.0 143.4L508.9 142.7L512.6 140.2L513.6 142.7L514.2 147.8L513.9 152.9L512.6 155.4L510.3 158.1L511.9 163.2L511.4 168.4L512.6 169.6L515.5 173.5L512.6 177.2L508.0 177.4L503.4 177.5L498.8 177.6L494.9 178.6L494.2 179.5L491.9 183.8L494.2 184.4L498.8 185.9L503.4 185.2L505.7 188.9L505.2 194.1L503.4 195.9L500.9 199.2L498.8 201.9L494.2 202.1L489.6 202.1L485.0 200.7L483.6 199.2L480.4 196.5L476.3 199.2L475.8 199.7L471.2 201.1L468.5 199.2L466.6 197.0L462.0 196.0L459.9 194.1L459.6 188.9L457.4 186.4L452.8 186.5L448.2 186.5L443.6 185.9L439.0 188.1L438.2 188.9L434.4 190.8L429.9 188.9L434.4 183.8L434.4 183.8L436.9 178.6L439.0 176.1L441.1 173.5L443.6 169.0L448.2 168.7L451.2 168.4L452.8 167.3L457.4 167.0L460.7 163.2L457.4 159.7L452.8 159.8L448.2 162.3L444.5 163.2L443.6 163.8L439.0 163.4L438.7 168.4L434.4 172.8L429.8 173.0L425.2 172.8L424.7 173.5L424.5 178.6L424.5 183.8L425.2 184.8L429.7 188.9L426.2 194.1L425.2 195.2L422.5 199.2L420.6 203.1L419.5 204.3L416.0 209.4L415.8 209.5L413.5 214.6L411.4 217.0L409.2 219.8L408.5 224.9L408.0 230.0L408.0 235.2L408.1 240.3L407.9 245.5L408.4 250.6L411.4 254.0L413.1 255.8L413.6 260.9L416.0 263.6L418.3 266.0L420.6 268.7L425.2 269.2L429.8 269.1L434.4 269.0L439.0 268.9L442.4 266.0L443.6 264.3L445.7 266.0L448.2 267.9L452.8 267.0L454.6 271.2L454.3 276.3L454.0 281.4L454.1 286.6L457.4 290.3L458.6 291.7L459.3 296.9L462.0 300.9L462.7 302.0L463.4 307.1L463.4 312.3L462.0 314.9L459.7 317.4L458.6 322.6L458.8 327.7L462.0 331.3L463.3 332.8L463.2 338.0L463.6 343.1L464.5 348.3L466.6 351.1L467.9 353.4L468.8 358.5L471.2 362.1L472.5 363.7L473.3 368.8L475.8 371.6ZM511.4 240.3L511.3 235.2L512.6 231.0L513.8 235.2L515.1 240.3L512.6 241.7L511.4 240.3ZM506.5 224.9L506.2 219.8L508.0 218.0L509.6 219.8L509.4 224.9L508.0 229.5L506.5 224.9ZM501.2 214.6L503.4 210.9L504.7 214.6L503.4 216.3L501.2 214.6ZM532.7 214.6L530.9 212.7L529.2 209.5L530.9 206.7L533.1 209.5L535.5 212.3L540.1 212.7L544.4 214.6L540.1 217.2L535.5 217.6L532.7 214.6ZM627.0 209.5L624.8 204.3L622.9 199.8L622.6 199.2L622.9 198.4L624.0 194.1L627.5 191.2L632.1 191.7L636.0 194.1L635.6 199.2L632.8 204.3L632.1 204.9L628.4 209.5L627.5 210.1L627.0 209.5ZM576.2 199.2L574.8 194.1L574.3 188.9L576.3 183.8L576.9 181.7L581.5 178.7L586.1 178.9L590.7 182.9L591.2 183.8L590.7 185.2L589.7 188.9L587.5 194.1L586.3 199.2L586.1 199.3L581.5 201.8L576.9 200.3L576.2 199.2ZM529.0 183.8L528.5 178.6L528.2 173.5L526.3 170.9L524.0 168.4L526.3 166.3L528.6 163.2L530.9 161.0L535.5 162.9L535.8 163.2L535.5 163.6L532.8 168.4L534.9 173.5L535.5 174.2L537.2 178.6L537.0 183.8L535.5 185.5L530.9 185.8L529.0 183.8ZM607.2 178.6L608.3 173.5L609.1 173.3L613.7 173.3L617.9 168.4L618.3 168.1L619.7 168.4L622.9 171.9L623.6 173.5L622.9 175.1L618.3 176.8L613.7 174.5L611.9 178.6L609.1 179.2L607.2 178.6ZM488.2 127.2L489.6 126.4L490.4 127.2L489.6 128.5L488.2 127.2ZM726.9 117.0L728.6 114.0L729.9 117.0L728.6 118.5L726.9 117.0ZM521.8 346.3L526.3 343.9L527.1 343.1L529.6 338.0L529.6 332.8L529.6 327.7L530.9 325.6L533.5 322.6L533.5 317.4L530.9 314.6L528.1 317.4L526.3 318.8L522.6 322.6L521.8 323.5L518.6 327.7L518.5 332.8L518.6 338.0L518.9 343.1L521.8 346.3ZM696.4 305.9L701.0 305.9L705.6 304.3L710.2 306.1L713.4 302.0L710.2 297.6L709.7 296.9L705.6 292.2L705.2 291.7L701.0 287.8L696.4 287.0L695.0 286.6L691.8 284.5L690.0 286.6L687.3 289.0L685.5 286.6L682.7 283.5L679.9 286.6L682.7 289.7L684.8 291.7L687.3 294.4L691.8 295.5L692.6 296.9L693.0 302.0L696.4 305.9ZM627.5 293.6L632.1 295.7L634.6 291.7L632.3 286.6L632.1 286.4L630.6 281.4L629.8 276.3L630.1 271.2L627.5 267.7L624.9 271.2L622.9 273.4L620.8 271.2L618.3 268.4L615.8 271.2L618.3 274.0L620.3 276.3L619.9 281.4L622.9 284.9L624.5 286.6L625.8 291.7L627.5 293.6ZM650.5 292.8L651.4 291.7L653.8 286.6L655.1 284.0L657.8 281.4L658.3 276.3L658.4 271.2L657.9 266.0L655.1 262.9L652.0 266.0L650.5 267.2L647.1 271.2L645.9 272.4L641.3 274.9L640.0 276.3L637.8 281.4L640.1 286.6L641.3 287.9L645.9 290.4L649.5 291.7L650.5 292.8ZM622.9 264.5L623.6 260.9L622.9 260.0L622.1 260.9L622.9 264.5ZM282.7 257.4L284.5 255.8L285.3 250.6L285.5 245.5L282.7 241.1L281.0 240.3L278.1 238.5L276.1 235.2L278.1 231.5L279.2 230.0L278.1 229.1L273.5 228.0L271.3 230.0L268.9 232.2L264.3 232.2L261.3 230.0L259.7 226.3L258.8 224.9L259.5 219.8L259.7 219.4L261.3 214.6L262.4 209.5L264.3 206.5L268.9 206.3L273.5 206.0L275.9 204.3L278.1 202.2L281.7 204.3L282.7 204.9L286.5 209.5L287.3 210.4L288.5 209.5L289.3 204.3L289.5 199.2L291.9 196.6L294.7 194.1L296.5 191.8L298.0 188.9L298.4 183.8L301.1 180.0L302.0 178.6L305.7 173.9L306.0 173.5L307.2 168.4L308.8 163.2L310.3 160.5L314.9 160.6L317.1 163.2L319.5 164.4L320.9 163.2L319.5 160.6L317.2 158.1L318.3 152.9L319.5 152.0L324.1 152.5L328.7 152.4L329.5 152.9L330.9 158.1L333.3 160.3L337.9 160.3L340.0 158.1L338.1 152.9L337.9 152.5L336.2 147.8L335.7 142.7L333.3 139.9L328.7 139.1L327.2 137.5L324.8 132.4L324.1 131.6L319.5 128.7L314.9 128.7L313.0 127.2L310.3 124.1L305.7 123.2L302.1 122.1L301.1 121.1L299.6 122.1L296.5 123.5L293.3 127.2L293.2 132.4L294.5 137.5L292.6 142.7L292.3 147.8L291.9 148.2L291.5 147.8L290.6 142.7L287.3 139.0L282.7 138.4L280.7 137.5L278.1 134.6L273.5 133.3L271.0 132.4L268.9 130.7L267.6 127.2L268.8 122.1L268.9 122.0L272.2 117.0L271.2 111.8L268.9 107.9L264.3 106.8L263.4 106.7L259.7 105.7L257.9 106.7L255.1 107.4L251.8 106.7L250.5 105.9L245.9 104.2L244.9 106.7L241.3 107.9L239.7 106.7L236.7 103.8L232.1 102.6L227.5 103.4L222.9 105.3L218.3 105.7L213.7 103.8L210.4 101.6L209.1 98.0L204.5 97.6L199.9 97.8L195.3 99.8L193.7 101.6L190.7 102.7L186.2 103.1L181.6 102.9L178.4 101.6L177.0 100.0L172.4 98.5L167.8 97.9L163.2 98.0L158.6 98.0L154.0 97.9L149.4 97.5L144.8 97.5L140.4 101.6L140.2 101.8L135.6 106.7L135.6 106.7L132.0 111.8L135.6 115.8L137.4 117.0L135.6 118.3L132.1 122.1L135.6 126.0L136.9 127.2L140.2 131.0L144.8 131.2L145.9 132.4L144.8 136.6L144.0 137.5L144.8 138.2L145.4 137.5L149.4 135.9L154.0 134.7L156.1 132.4L158.6 128.7L163.2 130.2L165.8 127.2L167.8 125.7L172.4 125.9L175.6 127.2L177.0 128.4L181.6 129.8L186.2 130.2L190.7 130.5L192.3 132.4L195.3 135.5L197.1 137.5L199.9 141.7L200.9 142.7L202.7 147.8L204.5 150.1L207.6 152.9L209.1 154.6L213.0 158.1L212.8 163.2L212.5 168.4L212.2 173.5L212.1 178.6L212.6 183.8L213.7 185.4L216.0 188.9L218.3 191.6L220.2 194.1L222.9 197.1L224.6 199.2L225.6 204.3L227.5 207.1L232.0 209.5L231.0 214.6L232.1 215.9L233.3 214.6L236.7 213.0L238.2 214.6L241.3 218.6L242.5 219.8L243.3 224.9L244.9 230.0L245.9 231.2L250.5 232.2L253.1 235.2L255.1 236.5L259.6 240.3L259.7 240.5L264.3 242.1L268.9 243.6L270.8 245.5L273.5 248.5L278.1 248.6L280.1 250.6L281.2 255.8L282.7 257.4ZM272.3 178.6L268.9 173.5L273.5 170.2L273.7 168.4L278.1 165.2L282.2 168.4L282.7 170.2L283.3 168.4L287.3 165.4L291.4 168.4L291.9 169.8L294.7 173.5L291.9 175.2L287.3 173.6L283.8 178.6L282.7 179.5L278.1 181.0L273.5 178.8L272.3 178.6ZM217.3 158.1L217.5 152.9L218.3 152.8L222.9 152.8L224.9 152.9L225.2 158.1L222.9 159.5L218.3 158.8L217.3 158.1ZM274.9 158.1L278.1 156.6L279.5 158.1L278.1 161.9L274.9 158.1ZM701.0 170.1L701.4 168.4L701.0 168.0L700.7 168.4L701.0 170.1ZM540.1 97.9L541.5 96.4L540.1 94.6L537.3 96.4L540.1 97.9Z" fill="#2a63a5" fill-rule="evenodd"/>
<path d="M310.3 421.5L314.9 421.2L315.7 420.2L314.9 419.3L311.8 415.1L312.5 409.9L314.9 407.1L316.9 404.8L316.5 399.7L318.2 394.5L319.5 393.1L321.7 389.4L324.1 385.1L324.8 384.2L328.7 379.9L329.6 379.1L333.3 375.0L334.0 374.0L337.9 371.5L340.2 368.8L342.5 367.1L345.5 363.7L347.1 359.0L347.4 358.5L349.6 353.4L349.7 348.3L351.7 346.0L354.5 343.1L356.2 341.0L360.8 340.6L363.2 338.0L365.4 332.8L365.4 332.8L367.8 327.7L367.8 322.6L368.0 317.4L370.0 312.7L370.4 312.3L372.4 307.1L374.6 302.8L375.4 302.0L374.6 299.7L373.8 296.9L370.0 293.9L368.2 291.7L365.4 288.9L360.8 288.9L358.2 286.6L356.2 284.4L351.7 283.3L350.2 281.4L347.1 277.5L346.2 276.3L345.9 271.2L342.5 267.4L339.2 266.0L337.9 264.6L333.3 262.5L331.6 260.9L328.7 257.7L326.9 255.8L324.1 252.6L319.5 252.9L314.9 252.8L310.3 252.8L305.7 252.1L301.1 253.1L298.8 255.8L296.5 259.1L294.1 260.9L296.2 266.0L295.6 271.2L293.5 276.3L291.9 279.1L289.8 281.4L289.0 286.6L289.0 291.7L289.0 296.9L291.9 300.1L293.5 302.0L293.3 307.1L296.5 311.8L297.0 312.3L298.2 317.4L301.1 320.7L302.9 322.6L305.7 325.7L308.0 327.7L308.9 332.8L308.5 338.0L308.0 343.1L308.0 348.3L308.0 353.4L308.1 358.5L308.1 363.7L307.9 368.8L305.7 371.8L303.9 374.0L303.2 379.1L303.1 384.2L303.0 389.4L302.9 394.5L301.1 398.5L300.0 399.7L298.8 404.8L299.5 409.9L301.1 411.7L303.6 415.1L305.7 417.4L309.1 420.2L310.3 421.5ZM701.0 381.3L705.6 381.1L710.2 379.9L710.9 379.1L714.8 375.5L716.2 374.0L717.0 368.8L719.4 364.3L720.0 363.7L722.2 358.5L722.3 353.4L722.3 348.3L719.4 345.0L718.0 343.1L717.3 338.0L714.8 335.2L713.4 332.8L710.2 329.3L708.7 327.7L708.4 322.6L705.6 319.5L704.1 317.4L701.0 312.6L698.0 317.4L698.0 322.6L696.4 324.2L691.8 323.0L691.4 322.6L690.4 317.4L688.5 312.3L687.3 310.9L682.7 308.8L679.6 312.3L678.1 314.4L675.3 317.4L673.5 319.1L668.9 319.3L665.9 322.6L664.3 326.2L662.9 327.7L659.7 330.7L657.7 332.8L655.1 334.8L650.5 334.9L647.7 338.0L647.6 343.1L647.6 348.3L647.7 353.4L650.5 358.5L650.5 358.5L651.3 363.7L651.8 368.8L655.1 372.2L659.7 371.4L662.6 368.8L664.3 367.6L668.9 366.9L673.5 365.3L675.4 363.7L678.1 362.4L680.2 363.7L682.7 365.8L687.3 368.6L687.6 368.8L691.8 371.5L694.2 374.0L696.4 376.5L699.1 379.1L701.0 381.3ZM475.8 370.9L480.4 369.9L483.5 368.8L485.0 367.8L489.6 365.5L491.3 363.7L494.2 359.5L495.0 358.5L495.5 353.4L494.2 351.0L491.5 348.3L494.2 346.2L496.4 348.3L498.8 349.9L499.4 348.3L501.7 343.1L503.4 341.8L504.8 338.0L505.2 332.8L507.9 327.7L508.0 327.7L512.6 324.3L514.1 322.6L515.6 317.4L515.5 312.3L512.6 307.3L512.3 307.1L510.0 302.0L510.5 296.9L511.6 291.7L512.6 290.5L514.9 286.6L517.2 283.5L519.0 281.4L521.8 278.5L523.7 276.3L526.3 271.5L526.7 271.2L529.2 266.0L530.9 262.5L532.3 260.9L533.8 255.8L530.9 252.4L526.3 252.6L521.8 252.5L520.1 250.6L521.8 248.7L526.3 248.7L529.2 245.5L530.9 243.8L535.1 240.3L535.5 239.7L540.1 237.5L542.2 235.2L544.0 230.0L543.5 224.9L542.5 219.8L540.1 218.5L535.5 218.8L531.5 214.6L530.9 214.0L528.4 209.5L530.9 205.6L533.9 209.5L535.5 211.3L540.1 211.8L544.7 213.7L545.9 214.6L549.3 216.8L553.9 217.1L558.5 217.0L563.1 217.0L565.9 219.8L567.7 223.6L569.4 224.9L572.3 226.2L575.9 230.0L576.4 235.2L576.6 240.3L576.9 244.3L581.1 245.5L581.5 246.3L581.5 245.5L586.1 241.6L586.5 240.3L590.7 235.7L591.2 235.2L595.3 230.7L595.9 230.0L599.9 225.7L602.2 224.9L604.5 222.6L605.1 224.9L609.1 227.7L610.9 230.0L610.9 235.2L613.7 239.4L615.4 240.3L618.3 242.3L620.5 245.5L622.9 249.2L627.5 250.4L627.6 250.6L630.4 255.8L632.1 257.7L634.0 255.8L636.7 254.2L639.6 250.6L639.7 245.5L639.0 240.3L636.7 237.8L634.8 235.2L634.7 230.0L636.7 227.7L641.3 228.5L645.9 226.0L646.9 224.9L650.5 221.5L654.3 219.8L655.1 218.6L656.7 214.6L659.7 210.9L660.4 209.5L659.8 204.3L659.7 203.5L655.1 204.0L650.5 203.0L645.9 200.8L641.3 199.4L636.7 203.8L636.4 204.3L632.1 207.9L630.8 209.5L627.5 211.6L625.9 209.5L622.9 205.1L622.1 204.3L618.9 199.2L620.4 194.1L622.9 190.5L627.5 189.0L632.1 189.9L636.7 191.9L639.6 188.9L641.3 187.4L643.4 183.8L645.9 181.4L650.5 180.3L655.1 181.9L658.7 178.6L659.7 177.9L664.3 175.0L668.9 174.8L673.5 174.3L676.0 173.5L678.1 172.5L682.7 170.1L687.3 169.5L688.2 168.4L691.8 163.6L692.2 163.2L693.5 158.1L695.1 152.9L691.8 148.8L691.4 147.8L690.4 142.7L691.8 141.2L694.1 137.5L696.4 135.1L698.9 132.4L701.0 130.1L705.6 130.1L710.2 130.0L714.8 129.2L719.4 127.7L720.3 127.2L719.4 124.4L718.9 122.1L719.3 117.0L719.4 116.8L724.0 113.8L725.5 111.8L728.6 110.2L730.4 111.8L733.2 116.0L733.8 117.0L733.2 121.3L732.6 122.1L733.2 122.7L733.7 127.2L733.2 127.7L728.6 130.6L727.0 132.4L726.1 137.5L726.1 142.7L726.1 147.8L728.6 150.6L731.1 147.8L733.2 145.5L735.8 142.7L737.8 140.3L740.3 137.5L740.5 132.4L742.4 128.7L744.2 127.2L747.0 123.5L751.6 125.0L756.2 124.5L760.8 123.5L762.2 122.1L765.4 120.0L768.0 117.0L770.0 112.8L770.0 111.8L770.0 106.7L770.0 105.7L765.4 103.5L760.8 101.9L756.2 103.2L751.6 103.0L747.0 102.8L742.4 103.6L737.8 103.9L733.2 102.0L732.9 101.6L728.6 99.3L724.0 98.5L719.4 98.4L714.8 96.7L714.4 96.4L710.2 93.8L705.6 93.4L701.0 93.6L696.4 94.2L694.2 96.4L691.8 98.0L687.3 97.6L682.7 98.0L678.1 98.0L676.7 96.4L673.5 92.7L668.9 92.5L664.3 92.7L659.7 92.7L655.1 92.4L650.5 91.8L649.4 91.3L648.3 86.1L645.9 83.4L641.3 82.7L636.7 83.2L632.1 83.7L627.5 82.8L622.9 84.3L619.7 86.1L618.3 87.7L613.7 88.4L609.1 88.6L604.5 88.8L599.9 88.6L595.9 91.3L595.3 91.8L590.7 92.8L586.1 94.2L581.5 93.8L577.3 96.4L576.9 96.8L572.9 101.6L572.3 104.0L569.4 101.6L569.7 96.4L567.7 95.4L566.8 96.4L566.8 101.6L563.1 106.1L558.5 105.0L553.9 104.3L549.3 105.3L544.7 105.9L540.1 105.4L535.5 105.2L531.9 106.7L530.9 107.5L526.3 109.7L521.8 108.0L517.3 111.8L517.2 112.0L512.6 114.5L508.0 116.3L503.4 115.5L500.9 111.8L503.4 108.4L508.0 107.7L508.7 106.7L508.0 106.0L503.4 105.3L498.8 104.6L495.5 101.6L494.2 100.0L489.6 100.1L485.0 100.9L480.4 101.4L479.9 101.6L475.8 106.2L471.2 104.9L467.5 106.7L466.6 108.0L464.3 111.8L462.0 116.7L461.8 117.0L462.0 117.7L464.0 122.1L466.6 126.5L469.8 122.1L471.2 121.1L475.8 118.0L476.9 117.0L480.4 112.3L484.4 117.0L480.4 121.7L480.1 122.1L480.4 122.5L485.0 123.7L489.6 122.4L494.2 125.8L495.2 127.2L498.8 131.4L500.5 132.4L503.4 132.7L508.0 133.5L512.6 133.1L516.3 137.5L516.9 142.7L517.2 143.6L518.9 147.8L521.7 153.0L520.6 158.1L519.1 163.2L517.2 165.2L513.9 168.4L516.7 173.5L512.9 178.6L512.6 181.8L511.0 183.8L508.0 183.9L507.2 188.9L506.3 194.1L503.4 197.0L501.7 199.2L498.8 203.0L494.2 203.3L489.6 202.9L485.0 201.7L482.8 199.2L480.4 197.2L477.4 199.2L475.8 200.8L471.2 201.8L467.5 199.2L466.6 198.2L462.0 196.8L459.1 194.1L458.7 188.9L457.4 187.5L452.8 187.6L448.2 187.6L443.6 186.8L439.8 188.9L439.0 189.6L434.4 191.5L429.8 189.9L426.9 194.1L425.2 196.0L423.1 199.2L420.6 204.2L420.5 204.3L417.0 209.5L416.0 211.6L414.6 214.6L411.4 218.2L410.2 219.8L409.1 224.9L408.5 230.0L408.4 235.2L408.6 240.3L408.5 245.5L409.0 250.6L411.4 253.4L413.7 255.8L414.5 260.9L416.0 262.6L419.2 266.0L420.6 267.6L425.2 268.4L429.8 268.3L434.4 268.2L439.0 268.0L441.3 266.0L443.6 262.8L447.4 266.0L448.2 266.6L450.4 266.0L452.8 263.4L457.4 265.2L457.6 266.0L457.4 266.5L455.5 271.2L454.9 276.3L454.5 281.4L454.6 286.6L457.4 289.7L459.1 291.7L460.0 296.9L462.0 299.8L463.4 302.0L464.0 307.1L464.0 312.3L462.0 316.0L460.7 317.4L459.1 322.6L459.4 327.7L462.0 330.6L463.8 332.8L463.7 338.0L464.0 343.1L465.2 348.3L466.6 350.1L468.4 353.4L469.4 358.5L471.2 361.2L473.4 363.7L474.0 368.8L475.8 370.9ZM511.0 240.3L510.8 235.2L508.0 230.6L507.4 230.0L505.9 224.9L505.5 219.8L508.0 217.3L510.2 219.8L510.0 224.9L512.6 229.6L512.9 230.0L514.3 235.2L516.1 240.3L512.6 242.2L511.0 240.3ZM500.1 214.6L502.0 209.5L503.4 209.0L503.7 209.5L505.4 214.6L503.4 217.1L500.1 214.6ZM592.0 214.6L590.7 214.4L586.1 211.1L584.2 209.5L581.5 207.4L576.9 204.5L576.8 204.3L573.3 199.2L572.3 197.1L571.7 194.1L571.9 188.9L572.3 187.1L573.9 183.8L572.3 179.3L572.2 178.6L571.5 173.5L572.3 172.6L576.9 168.7L581.5 169.7L586.1 170.8L588.8 173.5L590.7 175.4L593.2 173.5L595.3 172.2L599.9 170.5L604.5 172.3L609.1 171.5L613.7 170.1L615.2 168.4L618.3 166.7L622.9 167.8L624.0 168.4L627.5 173.3L627.7 173.5L628.1 178.6L627.5 180.0L622.9 182.0L618.3 182.1L613.7 181.8L609.1 180.6L604.5 179.4L599.9 181.2L596.6 183.8L598.2 188.9L599.9 191.4L601.8 194.1L604.5 196.7L608.9 199.2L608.9 204.3L605.9 209.5L604.5 211.8L599.9 214.6L599.6 214.6L595.3 215.4L592.0 214.6ZM528.3 183.8L527.5 178.6L527.2 173.5L526.3 172.4L522.6 168.4L526.3 165.0L527.7 163.2L530.9 160.1L535.5 162.0L536.6 163.2L535.5 164.9L533.6 168.4L535.5 172.6L536.3 173.5L537.8 178.6L537.6 183.8L535.5 186.2L530.9 186.6L528.3 183.8ZM541.5 137.5L541.5 132.4L544.7 131.1L549.3 130.5L553.9 132.1L554.3 132.4L556.5 137.5L553.9 139.4L549.3 141.6L544.7 139.8L541.5 137.5ZM521.8 345.5L525.7 343.1L526.3 342.6L529.0 338.0L529.0 332.8L529.0 327.7L530.9 324.6L532.7 322.6L532.6 317.4L530.9 315.5L529.0 317.4L526.3 319.5L523.3 322.6L521.8 324.2L519.2 327.7L519.1 332.8L519.1 338.0L519.6 343.1L521.8 345.5ZM696.4 305.4L701.0 305.3L705.6 303.1L710.2 305.4L712.8 302.0L710.2 298.5L709.2 296.9L705.6 292.9L704.7 291.7L701.0 288.3L696.4 287.5L693.1 286.6L691.8 285.8L691.1 286.6L687.3 290.0L685.7 291.7L687.3 293.5L691.8 294.7L693.1 296.9L693.4 302.0L696.4 305.4ZM627.5 292.3L632.1 294.4L633.8 291.7L632.1 288.2L631.1 286.6L630.0 281.4L628.9 276.3L629.3 271.2L627.5 268.8L625.7 271.2L622.9 274.3L621.1 276.3L620.5 281.4L622.9 284.1L625.2 286.6L627.0 291.7L627.5 292.3ZM645.9 289.8L650.5 291.4L653.3 286.6L655.1 283.0L656.8 281.4L657.8 276.3L657.8 271.2L657.2 266.0L655.1 263.7L652.8 266.0L650.5 267.8L647.6 271.2L645.9 272.9L641.3 276.3L641.3 276.3L638.3 281.4L641.3 286.5L641.4 286.6L645.9 289.8ZM682.7 288.9L684.7 286.6L682.7 284.3L680.6 286.6L682.7 288.9ZM618.3 273.1L620.0 271.2L618.3 269.3L616.6 271.2L618.3 273.1ZM282.7 256.1L283.0 255.8L284.5 250.6L284.8 245.5L282.7 242.2L278.4 240.3L278.1 240.1L275.1 235.2L277.5 230.0L273.5 228.9L272.3 230.0L268.9 233.0L264.3 233.0L260.1 230.0L259.7 229.0L257.9 230.0L255.5 235.2L259.7 238.4L263.0 240.3L264.3 240.8L268.9 242.8L271.6 245.5L273.5 247.6L278.1 247.8L280.9 250.6L282.4 255.8L282.7 256.1ZM245.9 229.5L250.5 229.7L255.1 228.4L257.1 224.9L258.4 219.8L259.7 216.8L260.4 214.6L261.8 209.5L264.3 205.7L268.9 205.4L273.5 205.0L274.5 204.3L278.1 200.8L282.7 202.7L284.4 204.3L287.3 208.4L288.3 204.3L288.4 199.2L291.9 195.4L293.4 194.1L296.5 190.1L297.1 188.9L296.9 183.8L296.5 179.6L291.9 179.6L287.3 179.9L282.7 183.0L280.6 183.8L278.1 184.4L277.2 183.8L273.5 181.0L268.9 180.1L264.3 180.7L262.4 178.6L262.1 173.5L262.4 168.4L262.7 163.2L264.3 161.8L268.9 159.4L273.5 158.7L273.6 158.1L278.1 156.0L280.1 158.1L278.5 163.2L282.7 166.5L286.8 163.2L287.3 163.0L287.8 163.2L291.9 166.4L296.5 165.8L301.1 163.3L305.7 163.7L305.9 163.2L309.5 158.1L310.3 157.4L314.9 157.2L317.2 152.9L319.5 151.2L324.1 151.6L328.7 151.4L330.9 152.9L331.8 158.1L333.3 159.4L337.9 159.5L339.2 158.1L337.9 154.6L336.4 152.9L335.5 147.8L334.9 142.7L333.3 140.8L328.7 139.9L326.4 137.5L324.1 133.1L323.6 132.4L319.5 129.4L314.9 129.2L312.3 127.2L310.3 125.0L305.7 123.7L301.1 122.3L296.5 124.7L294.2 127.2L294.1 132.4L296.4 137.5L293.1 142.7L292.9 147.8L291.9 148.9L290.8 147.8L289.7 142.7L287.3 140.0L282.7 139.1L279.3 137.5L278.1 136.1L273.5 134.0L269.3 132.4L268.9 132.1L267.1 127.2L268.1 122.1L268.9 120.7L271.3 117.0L270.3 111.8L268.9 109.4L264.3 107.8L259.7 107.2L255.1 108.1L250.5 107.3L245.9 107.1L241.3 108.5L238.9 106.7L236.7 104.6L232.1 103.7L227.6 106.7L227.5 106.7L222.9 107.2L218.3 107.1L217.6 106.7L213.7 104.8L209.1 101.6L209.1 101.6L204.5 98.0L199.9 98.4L195.3 101.1L194.9 101.6L190.7 103.2L186.2 103.7L181.6 103.4L177.1 101.6L177.0 101.4L172.4 99.3L167.8 98.5L163.2 98.6L158.6 98.7L154.0 98.4L149.4 98.0L144.8 97.9L140.8 101.6L140.2 102.3L136.1 106.7L135.6 107.3L132.4 111.8L135.6 115.4L138.2 117.0L135.6 118.8L132.6 122.1L135.6 125.4L137.4 127.2L140.2 130.4L144.8 130.7L146.4 132.4L149.4 135.4L154.0 133.9L155.4 132.4L158.6 127.7L163.2 129.6L165.2 127.2L167.8 125.2L172.4 125.2L177.0 127.2L177.0 127.2L181.6 129.0L186.2 129.6L190.7 129.8L192.8 132.4L195.3 134.9L197.6 137.5L199.9 141.0L201.7 142.7L203.5 147.8L204.5 149.1L208.7 152.9L209.1 153.4L211.0 152.9L213.7 151.9L218.3 151.4L222.9 150.2L225.4 147.8L227.5 143.8L230.2 147.8L229.9 152.9L230.0 158.1L227.5 162.1L224.7 163.2L222.9 163.7L218.3 163.4L213.7 164.2L213.5 168.4L213.0 173.5L212.9 178.6L213.5 183.8L213.7 184.1L217.0 188.9L218.3 190.5L220.9 194.1L222.9 196.3L225.2 199.2L226.7 204.3L227.5 205.6L232.1 208.0L232.9 209.5L236.7 212.4L238.7 214.6L241.3 217.9L243.2 219.8L244.1 224.9L245.9 229.5ZM540.1 96.4L540.2 96.4L540.1 96.4L540.1 96.4L540.1 96.4Z" fill="#5e9bc8" fill-rule="evenodd"/>
<path d="M310.3 420.4L312.3 420.2L311.0 415.1L311.8 409.9L314.9 406.3L316.2 404.8L315.7 399.7L317.1 394.5L319.5 392.0L321.0 389.4L323.6 384.2L324.1 381.1L325.8 379.1L326.1 374.0L328.7 370.2L333.3 371.8L337.9 370.8L339.6 368.8L342.5 366.5L345.0 363.7L346.5 358.5L347.1 357.7L349.1 353.4L349.1 348.3L351.7 345.3L353.9 343.1L356.2 340.2L360.8 339.9L362.6 338.0L364.1 332.8L365.4 331.3L367.1 327.7L367.1 322.6L367.4 317.4L369.4 312.3L370.0 311.2L371.7 307.1L374.1 302.0L372.9 296.9L370.0 294.6L367.6 291.7L365.4 289.5L360.8 289.5L357.5 286.6L356.2 285.2L351.7 283.9L349.8 281.4L347.1 278.0L345.8 276.3L345.5 271.2L342.5 267.8L338.2 266.0L337.9 265.6L333.3 263.0L331.1 260.9L328.7 258.2L326.4 255.8L324.1 253.1L319.5 253.5L314.9 253.4L310.3 253.5L305.7 253.1L301.1 253.9L299.4 255.8L296.5 260.0L295.3 260.9L296.5 263.7L297.3 266.0L296.6 271.2L296.5 271.3L294.0 276.3L291.9 279.9L290.5 281.4L289.5 286.6L289.5 291.7L289.5 296.9L291.9 299.5L293.9 302.0L293.8 307.1L296.5 311.2L297.6 312.3L298.7 317.4L301.1 320.1L303.4 322.6L305.7 325.1L308.6 327.7L309.8 332.8L309.4 338.0L308.7 343.1L308.6 348.3L308.6 353.4L308.8 358.5L308.8 363.7L308.6 368.8L305.7 372.8L304.7 374.0L303.8 379.1L303.7 384.2L303.6 389.4L303.4 394.5L301.1 399.6L301.0 399.7L299.5 404.8L300.4 409.9L301.1 410.7L304.3 415.1L305.7 416.6L310.1 420.2L310.3 420.4ZM701.0 380.5L705.6 380.2L709.1 379.1L710.2 377.7L714.8 374.5L715.3 374.0L716.3 368.8L718.8 363.7L719.4 363.1L721.6 358.5L721.8 353.4L721.8 348.3L719.4 345.6L717.6 343.1L716.7 338.0L714.8 335.9L713.0 332.8L710.2 329.8L708.3 327.7L707.9 322.6L705.6 320.0L703.6 317.4L701.0 313.3L698.5 317.4L698.4 322.6L696.4 324.6L691.8 323.6L690.9 322.6L690.0 317.4L687.6 312.3L687.3 311.9L682.7 309.3L680.0 312.3L678.1 315.0L675.8 317.4L673.5 319.6L668.9 319.8L666.4 322.6L664.3 327.2L663.8 327.7L659.7 331.5L658.5 332.8L655.1 335.4L650.5 335.4L648.2 338.0L648.1 343.1L648.0 348.3L648.2 353.4L650.5 357.6L651.2 358.5L651.8 363.7L652.3 368.8L655.1 371.6L659.7 370.7L661.8 368.8L664.3 367.0L668.9 366.3L673.5 364.3L674.2 363.7L678.1 361.7L681.2 363.7L682.7 364.9L687.3 367.9L688.8 368.8L691.8 370.8L694.9 374.0L696.4 375.7L699.8 379.1L701.0 380.5ZM475.8 370.2L480.4 369.0L480.9 368.8L485.0 365.8L489.6 364.5L490.3 363.7L492.4 358.5L489.6 355.7L488.5 353.4L488.5 348.3L489.6 347.0L493.8 343.1L494.2 342.9L498.4 343.1L498.8 343.3L498.8 343.1L503.4 339.3L503.9 338.0L504.4 332.8L506.9 327.7L508.0 326.9L512.6 323.3L513.2 322.6L515.1 317.4L515.0 312.3L512.6 308.1L511.1 307.1L509.2 302.0L510.0 296.9L510.9 291.7L512.6 289.4L514.3 286.6L517.2 282.6L518.2 281.4L521.8 277.6L522.9 276.3L525.7 271.2L526.3 270.5L528.7 266.0L530.9 261.4L531.4 260.9L533.3 255.8L530.9 253.0L526.3 253.1L521.8 253.0L519.6 250.6L521.8 248.1L526.3 248.1L528.7 245.5L530.9 243.3L534.5 240.3L535.5 238.9L540.1 236.6L541.4 235.2L541.2 230.0L540.1 224.9L540.2 219.8L540.1 219.7L539.3 219.8L535.5 220.0L535.1 219.8L530.9 215.9L529.9 214.6L527.7 209.5L530.9 204.5L534.8 209.5L535.5 210.4L540.1 210.9L544.7 212.6L547.3 214.6L549.3 215.9L553.9 216.4L558.5 216.2L563.1 215.5L567.4 219.8L567.7 220.4L572.3 222.8L576.9 223.2L581.5 221.7L586.0 219.8L583.4 214.6L581.5 213.4L577.5 209.5L576.9 209.2L572.5 204.4L572.3 204.0L571.2 199.2L570.5 194.1L570.7 188.9L571.6 183.8L570.4 178.6L569.0 173.5L572.3 169.7L573.8 168.4L576.9 166.7L581.5 166.6L586.1 166.7L590.7 168.2L595.3 168.2L599.9 167.8L602.0 168.4L604.5 169.7L609.1 169.6L611.9 168.4L613.7 167.9L618.3 165.4L622.9 166.8L625.9 168.4L627.5 170.6L629.7 173.5L629.5 178.6L627.5 183.2L626.5 183.8L627.5 184.6L632.1 187.8L636.0 188.9L636.7 189.1L636.9 188.9L641.3 185.0L642.0 183.8L645.9 180.1L650.1 178.6L650.5 178.4L650.9 178.6L655.1 180.4L657.0 178.6L659.7 176.5L664.3 173.6L667.0 173.5L668.9 172.8L673.5 171.0L678.1 170.5L682.7 169.1L686.9 168.4L687.3 168.0L689.6 163.2L691.8 160.2L692.4 158.1L692.0 152.9L691.8 152.7L689.8 147.8L689.4 142.7L691.8 140.1L693.4 137.5L696.4 134.4L698.3 132.4L701.0 129.5L705.6 129.4L710.2 129.3L714.8 128.3L717.7 127.2L717.0 122.1L718.0 117.0L719.4 115.1L722.9 111.8L724.0 111.0L728.6 108.2L732.5 111.8L733.2 112.9L735.6 117.0L736.3 122.1L734.8 127.2L733.2 128.6L728.6 131.5L727.8 132.4L726.6 137.5L726.7 142.7L726.7 147.8L728.6 149.9L730.5 147.8L733.2 144.9L735.2 142.7L737.8 139.6L739.7 137.5L739.9 132.4L742.4 127.6L742.9 127.2L745.6 122.1L744.0 117.0L747.0 113.9L749.6 117.0L748.4 122.1L751.6 123.2L756.2 123.7L760.8 122.5L761.2 122.1L765.4 119.3L767.4 117.0L769.8 111.8L769.9 106.7L765.4 104.2L760.8 102.7L756.2 103.8L751.6 103.8L747.0 103.8L742.4 104.3L737.8 104.8L733.2 104.3L731.3 101.6L728.6 100.1L724.0 99.1L719.4 98.9L714.8 97.5L713.2 96.4L710.2 94.6L705.6 94.0L701.0 94.3L696.4 95.0L695.0 96.4L691.8 98.6L687.3 98.1L682.7 98.4L678.1 98.4L676.4 96.4L673.5 93.2L668.9 92.9L664.3 93.1L659.7 93.1L655.1 92.9L650.5 92.3L648.3 91.3L647.7 86.1L645.9 84.1L641.3 83.2L636.7 83.9L632.1 84.7L627.5 85.4L622.9 86.0L622.7 86.1L618.3 91.0L613.7 90.2L609.1 89.8L604.5 89.6L599.9 89.3L597.0 91.3L595.3 92.5L590.7 93.4L586.1 95.1L581.5 94.5L578.5 96.4L576.9 98.0L573.9 101.6L572.8 106.7L572.3 109.4L571.0 111.8L567.7 113.9L563.1 115.1L561.7 111.8L560.5 106.7L558.5 106.0L553.9 105.3L549.3 106.3L547.1 106.7L544.7 108.7L541.3 106.7L540.1 106.6L535.5 106.2L534.4 106.7L530.9 109.3L526.3 110.5L521.8 109.6L519.1 111.8L517.2 113.6L512.6 116.5L511.4 117.0L510.9 122.1L512.6 124.1L515.2 127.2L517.2 130.0L521.3 132.4L521.8 132.6L526.3 136.3L530.9 134.2L532.4 132.4L535.4 127.2L535.5 126.0L536.7 122.1L540.1 121.3L540.6 122.1L542.1 127.2L544.7 128.4L549.3 128.1L553.9 127.3L558.5 127.2L558.5 127.2L558.5 127.2L561.4 132.4L559.5 137.5L558.5 138.1L553.9 141.7L552.3 142.7L549.3 143.2L544.7 142.7L543.9 142.7L540.1 140.9L537.5 142.7L535.5 143.1L534.0 142.7L530.9 139.6L526.3 140.5L525.8 142.7L522.7 147.8L523.9 152.9L525.2 158.1L524.6 163.2L526.3 163.7L526.7 163.2L530.9 159.2L535.5 161.0L537.4 163.2L535.5 166.2L534.3 168.4L535.5 171.0L537.6 173.5L538.4 178.6L538.2 183.8L535.5 186.9L530.9 187.4L527.5 183.8L526.5 178.7L526.3 177.0L525.2 178.6L521.8 180.9L520.2 183.8L517.2 187.7L515.9 188.9L512.6 190.2L508.0 191.5L507.4 194.1L503.4 198.1L502.5 199.2L498.8 204.1L495.3 204.3L498.8 206.5L503.4 207.5L504.7 209.5L506.1 214.6L508.0 216.6L510.9 219.8L510.6 224.9L512.6 228.5L513.6 230.0L514.8 235.2L517.1 240.3L512.6 242.8L510.5 240.3L510.3 235.2L508.0 231.4L506.5 230.0L505.3 224.9L504.8 219.8L503.4 218.0L499.0 214.6L498.8 212.6L494.2 212.2L492.7 209.5L493.8 204.3L489.6 203.8L485.0 202.6L481.9 199.2L480.4 197.9L478.4 199.2L475.8 201.9L471.2 202.5L466.6 199.5L466.3 199.2L462.0 197.6L458.3 194.1L457.7 188.9L457.4 188.5L452.8 188.7L448.2 188.7L443.6 187.6L441.3 188.9L439.0 190.9L434.4 192.2L429.8 191.0L427.6 194.1L425.2 196.9L423.6 199.2L421.8 204.3L420.6 205.7L418.0 209.5L416.0 213.9L415.7 214.6L411.4 219.4L411.1 219.8L409.8 224.9L408.9 230.0L408.9 235.2L409.1 240.3L409.1 245.5L409.6 250.6L411.4 252.7L414.4 255.8L415.4 260.9L416.0 261.6L420.1 266.0L420.6 266.6L425.2 267.6L429.8 267.5L434.4 267.3L439.0 267.1L440.2 266.0L443.6 261.3L448.2 260.9L448.2 260.9L452.8 259.7L455.8 260.9L457.4 261.8L458.7 266.0L457.4 268.7L456.4 271.2L455.5 276.3L454.9 281.4L455.1 286.6L457.4 289.2L459.6 291.7L460.7 296.9L462.0 298.7L464.2 302.0L464.6 307.1L464.6 312.3L462.0 317.0L461.6 317.4L459.6 322.6L460.0 327.7L462.0 330.0L464.3 332.8L464.2 338.0L464.5 343.1L465.9 348.3L466.6 349.2L468.9 353.4L470.0 358.5L471.2 360.3L474.2 363.7L474.6 368.8L475.8 370.2ZM517.1 245.5L517.2 240.7L517.2 245.5L517.2 245.5L517.1 245.5ZM447.6 194.1L448.2 190.7L452.8 191.9L453.3 194.1L452.8 194.5L448.2 195.7L447.6 194.1ZM661.7 147.8L661.8 142.7L664.3 137.7L665.0 137.5L668.9 137.4L669.0 137.5L673.4 142.7L673.5 142.8L678.1 147.1L681.7 147.8L678.1 149.7L673.5 149.2L668.9 150.0L664.3 149.9L661.7 147.8ZM521.8 344.7L524.4 343.1L526.3 341.7L528.5 338.0L528.5 332.8L528.4 327.7L530.9 323.6L531.8 322.6L531.8 317.4L530.9 316.5L530.0 317.4L526.3 320.2L524.0 322.6L521.8 325.0L519.8 327.7L519.6 332.8L519.7 338.0L520.3 343.1L521.8 344.7ZM696.4 304.9L701.0 304.8L705.6 302.0L705.6 302.0L705.7 302.0L710.2 304.6L712.2 302.0L710.2 299.3L708.6 296.9L705.6 293.5L704.2 291.7L701.0 288.8L696.4 288.1L691.8 287.2L687.3 291.0L686.6 291.7L687.3 292.5L691.8 293.9L693.5 296.9L693.9 302.0L696.4 304.9ZM632.1 293.1L632.9 291.7L632.1 289.9L630.0 286.6L629.4 281.4L628.0 276.3L628.4 271.2L627.5 269.9L626.5 271.2L622.9 275.2L621.9 276.3L621.2 281.4L622.9 283.4L625.9 286.6L627.5 290.7L629.2 291.7L632.1 293.1ZM645.9 289.3L650.5 290.6L652.8 286.6L655.1 282.0L655.7 281.4L657.2 276.3L657.3 271.2L656.5 266.0L655.1 264.5L653.6 266.0L650.5 268.3L648.1 271.2L645.9 273.4L641.9 276.3L641.3 277.1L638.8 281.4L641.3 285.7L642.1 286.6L645.9 289.3ZM682.7 288.1L684.0 286.6L682.7 285.1L681.3 286.6L682.7 288.1ZM618.3 272.1L619.2 271.2L618.3 270.2L617.4 271.2L618.3 272.1ZM632.1 256.7L633.1 255.8L636.7 253.6L639.2 250.6L639.2 245.5L638.3 240.3L636.7 238.5L634.2 235.2L634.1 230.0L636.7 227.1L641.3 227.4L645.9 224.9L645.9 224.9L650.5 220.6L652.2 219.8L655.1 215.3L655.3 214.6L655.1 209.5L655.1 209.5L650.5 206.4L645.9 206.0L644.7 204.3L641.3 201.2L638.3 204.3L636.7 208.1L634.7 209.5L632.1 213.5L627.5 213.2L624.7 209.5L622.9 206.9L620.2 204.3L618.3 201.5L613.7 203.6L613.0 204.3L609.1 208.4L608.4 209.5L605.4 214.6L604.9 219.8L606.1 224.9L609.1 227.1L611.4 230.0L611.4 235.2L613.7 238.7L616.8 240.3L618.3 241.3L621.2 245.5L622.9 248.1L627.5 249.1L628.4 250.6L631.2 255.8L632.1 256.7ZM282.7 253.8L283.7 250.6L284.1 245.5L282.7 243.3L278.1 241.9L276.9 240.3L274.1 235.2L274.3 230.0L273.5 229.8L273.3 230.0L268.9 233.8L264.3 233.8L259.7 232.8L258.2 235.2L259.7 236.3L264.3 238.9L265.3 240.3L268.9 242.0L272.3 245.5L273.5 246.8L278.1 247.0L281.7 250.6L282.7 253.8ZM245.9 227.5L250.5 227.3L255.1 225.5L255.5 224.9L257.3 219.8L259.4 214.6L259.7 214.3L261.3 209.5L264.3 204.8L268.9 204.5L270.2 204.3L272.3 199.2L273.5 198.7L275.9 199.2L278.1 199.5L282.7 199.8L287.3 204.4L287.3 204.4L287.3 204.3L287.3 199.2L291.9 194.2L292.0 194.1L291.9 190.9L290.8 188.9L287.3 186.2L282.7 187.2L278.1 186.6L274.2 183.8L273.5 183.2L268.9 181.8L265.7 183.8L264.3 185.3L259.7 187.2L256.8 183.8L258.5 178.6L259.7 173.5L259.5 168.4L259.7 164.2L259.8 163.2L264.3 159.1L265.8 158.1L268.9 156.9L273.5 156.9L278.1 155.4L280.7 158.1L281.5 163.2L282.7 164.2L283.9 163.2L287.3 162.0L290.8 163.2L291.9 164.1L294.4 163.2L296.5 162.6L301.1 161.5L305.7 161.3L308.0 158.1L310.3 156.1L314.9 155.3L316.2 152.9L319.5 150.4L324.1 150.7L328.7 150.5L332.3 152.9L332.7 158.1L333.3 158.6L337.9 158.6L338.4 158.1L337.9 156.7L334.6 152.9L334.8 147.8L334.1 142.7L333.3 141.8L328.7 140.7L325.7 137.5L324.1 134.5L322.7 132.4L319.5 130.0L314.9 129.8L311.6 127.2L310.3 125.8L305.7 124.1L301.1 123.0L296.5 125.8L295.2 127.2L295.0 132.4L296.5 135.6L297.0 137.5L296.5 138.3L293.6 142.7L293.5 147.8L291.9 149.6L290.1 147.8L288.7 142.7L287.3 141.1L282.7 139.8L278.1 137.7L278.0 137.5L273.5 134.7L268.9 133.1L268.3 132.4L266.6 127.2L267.4 122.1L268.9 119.4L270.5 117.0L269.4 111.8L268.9 110.9L264.3 108.8L259.7 108.3L255.1 108.9L250.5 108.3L245.9 108.1L241.3 109.1L238.1 106.7L236.7 105.3L232.1 104.8L229.2 106.7L227.5 108.1L222.9 108.9L218.3 108.2L215.8 106.7L213.7 105.7L209.1 102.3L208.5 101.6L204.5 98.5L199.9 99.0L195.9 101.6L195.3 102.0L190.7 103.6L186.2 104.4L181.6 104.0L177.0 102.3L175.4 101.6L172.4 100.1L167.8 99.0L163.2 99.2L158.6 99.3L154.0 99.0L149.4 98.4L144.8 98.3L141.3 101.6L140.2 102.8L136.6 106.7L135.6 107.9L132.8 111.8L135.6 114.9L138.9 117.0L135.6 119.3L133.1 122.1L135.6 124.9L137.9 127.2L140.2 129.8L144.8 130.2L146.9 132.4L149.4 135.0L154.0 133.1L154.6 132.4L158.1 127.2L158.6 126.8L159.4 127.2L163.2 128.9L164.7 127.2L167.8 124.7L172.4 124.6L177.0 126.1L178.9 127.2L181.6 128.3L186.2 129.0L190.7 129.1L193.4 132.4L195.3 134.3L198.2 137.5L199.9 140.2L202.5 142.7L204.3 147.8L204.5 148.1L209.1 151.6L213.7 149.8L218.3 150.0L222.8 147.8L222.9 147.2L224.6 142.7L227.5 141.8L232.1 142.7L232.1 142.7L233.5 147.8L233.2 152.9L233.7 158.1L236.7 162.1L237.3 163.2L236.8 168.4L236.7 169.0L235.2 173.5L232.1 175.4L228.5 173.5L227.5 171.9L222.9 171.5L221.7 173.5L218.3 175.2L214.0 178.6L217.8 183.8L217.9 188.9L218.3 189.5L221.7 194.1L222.9 195.4L225.9 199.2L227.5 204.0L228.1 204.3L232.1 206.6L233.8 209.5L236.7 211.7L239.3 214.6L241.3 217.2L244.0 219.8L244.9 224.9L245.9 227.5ZM604.5 192.6L609.1 192.0L612.5 188.9L612.3 183.8L609.1 182.0L604.5 181.0L600.6 183.8L601.4 188.9L604.5 192.6ZM498.8 117.3L502.9 117.0L499.9 111.8L503.4 107.0L505.0 106.7L503.4 106.4L498.8 105.5L494.6 101.6L494.2 101.0L489.6 101.1L487.6 101.6L486.9 106.7L487.8 111.8L489.6 113.0L494.2 115.0L498.6 117.0L498.8 117.3ZM466.6 113.8L471.2 116.1L475.7 111.8L473.4 106.7L471.2 105.9L469.5 106.7L466.6 111.1L466.1 111.8L466.6 113.8Z" fill="#4fa898" fill-rule="evenodd"/>
<path d="M305.7 415.8L309.4 415.1L310.3 414.3L311.1 409.9L314.9 405.5L315.4 404.8L314.9 400.1L314.7 399.7L314.9 399.3L316.0 394.5L319.5 390.8L320.3 389.4L322.0 384.2L322.6 379.1L322.7 374.0L324.1 371.5L326.3 368.8L328.7 367.1L333.3 368.2L334.3 368.8L337.9 370.1L339.0 368.8L342.5 366.0L344.6 363.7L345.7 358.5L347.1 356.5L348.5 353.4L348.6 348.3L351.7 344.7L353.2 343.1L356.2 339.4L360.8 339.2L361.9 338.0L362.9 332.8L365.4 329.9L366.5 327.7L366.5 322.6L366.9 317.4L368.5 312.3L370.0 309.6L371.1 307.1L372.5 302.0L371.9 296.9L370.0 295.4L366.9 291.7L365.4 290.2L360.8 290.2L356.8 286.6L356.2 286.0L351.7 284.4L349.4 281.4L347.1 278.5L345.5 276.3L345.2 271.2L342.5 268.1L337.9 266.4L337.4 266.0L333.3 263.4L330.6 260.9L328.7 258.8L325.9 255.8L324.1 253.7L319.5 254.2L314.9 254.0L310.3 254.2L305.7 254.0L301.1 254.6L300.0 255.8L296.6 260.9L298.3 266.0L297.6 271.2L296.5 272.3L294.5 276.3L291.9 280.6L291.2 281.4L290.0 286.6L290.0 291.7L290.0 296.9L291.9 299.0L294.4 302.0L294.2 307.1L296.5 310.5L298.3 312.3L299.2 317.4L301.1 319.6L303.9 322.6L305.7 324.5L309.3 327.7L310.3 331.6L311.8 332.8L310.3 336.9L310.2 338.0L309.3 343.1L309.3 348.3L309.3 353.4L309.5 358.5L309.5 363.7L309.3 368.8L305.7 373.7L305.5 374.0L304.4 379.1L304.3 384.2L304.1 389.4L303.9 394.5L302.1 399.7L301.1 401.7L300.1 404.8L301.1 409.4L301.5 409.9L305.1 415.1L305.7 415.8ZM701.0 379.6L705.6 379.3L706.1 379.1L710.2 374.1L710.5 374.0L714.8 372.4L715.6 368.8L717.6 363.7L719.4 362.0L721.1 358.5L721.3 353.4L721.3 348.3L719.4 346.1L717.2 343.1L716.1 338.0L714.8 336.6L712.6 332.8L710.2 330.2L707.8 327.7L707.4 322.6L705.6 320.6L703.2 317.4L701.0 314.1L698.9 317.4L698.8 322.6L696.4 325.1L691.8 324.2L690.4 322.6L689.6 317.4L687.3 312.8L686.7 312.3L682.7 309.8L680.4 312.3L678.1 315.6L676.4 317.4L673.5 320.1L668.9 320.4L666.9 322.6L664.8 327.7L664.3 328.6L659.7 332.4L659.2 332.8L655.1 336.0L650.5 336.0L648.7 338.0L648.6 343.1L648.5 348.3L648.8 353.4L650.5 356.6L651.8 358.5L652.4 363.7L652.8 368.8L655.1 371.1L659.7 370.0L660.9 368.8L664.3 366.5L668.9 365.7L673.0 363.7L673.5 363.2L678.1 361.1L682.2 363.7L682.7 364.1L687.3 367.1L689.9 368.8L691.8 370.1L695.6 374.0L696.4 374.9L700.6 379.1L701.0 379.6ZM475.8 369.5L478.3 368.8L480.4 366.3L485.0 363.8L486.1 363.7L485.3 358.5L485.4 353.4L486.8 348.3L489.6 344.8L491.4 343.1L494.2 341.7L498.8 340.7L502.0 338.0L503.4 335.0L503.6 332.8L505.9 327.7L508.0 326.0L512.3 322.6L512.6 322.3L514.7 317.4L514.6 312.3L512.6 308.9L509.9 307.1L508.5 302.0L509.4 296.9L510.1 291.7L512.6 288.4L513.7 286.6L517.2 281.8L517.4 281.4L521.8 276.8L522.2 276.3L524.9 271.2L526.3 269.5L528.2 266.0L530.5 260.9L530.9 260.3L532.8 255.8L530.9 253.6L526.3 253.7L521.8 253.6L519.1 250.6L521.8 247.6L526.3 247.6L528.2 245.5L530.9 242.8L533.9 240.3L535.5 238.1L540.1 235.8L540.7 235.2L540.1 232.4L539.4 230.0L539.1 224.9L535.5 221.1L532.6 219.8L530.9 218.2L528.0 214.6L527.0 209.5L528.9 204.3L530.9 199.6L533.7 204.3L535.5 208.9L536.1 209.5L540.1 209.9L544.7 211.5L548.7 214.6L549.3 215.0L553.9 215.6L558.5 215.4L561.7 214.6L563.1 212.3L565.1 209.5L566.3 204.3L567.7 201.8L569.4 199.2L569.4 194.1L569.6 188.9L569.7 183.8L568.6 178.6L567.7 176.0L563.1 176.4L558.5 175.7L553.9 176.3L551.5 178.6L549.3 179.1L548.0 178.6L545.9 173.5L549.3 172.2L553.9 172.7L558.5 171.3L562.4 168.4L563.1 168.2L564.1 168.4L567.7 171.3L570.3 168.4L572.3 167.7L576.9 164.9L581.5 164.1L586.1 163.5L590.7 163.5L595.3 163.4L599.9 166.2L604.5 167.6L609.1 167.9L613.7 166.8L618.3 164.0L622.9 165.8L627.5 168.2L627.7 168.4L631.8 173.5L630.9 178.6L630.2 183.8L632.1 185.3L636.7 186.4L639.8 183.8L641.3 181.9L645.9 178.7L646.2 178.6L650.5 176.2L654.7 178.6L655.1 178.8L655.3 178.6L659.7 175.1L662.1 173.5L664.3 169.6L665.5 168.4L668.9 166.9L673.5 166.3L677.5 168.4L678.1 168.5L679.3 168.4L682.7 166.5L685.5 163.2L687.2 158.1L682.7 156.7L678.1 155.0L673.5 154.1L668.9 153.3L664.8 152.9L664.3 152.9L659.7 149.2L658.3 147.8L657.9 142.7L657.7 137.5L659.7 136.0L664.3 135.4L668.9 134.7L671.1 137.5L673.5 140.2L677.1 142.7L678.1 143.6L682.7 145.7L685.6 147.8L687.3 152.0L688.1 147.8L688.3 142.7L691.8 139.0L692.7 137.5L696.4 133.8L697.7 132.4L701.0 128.8L705.6 128.8L710.2 128.6L714.8 127.4L715.1 127.2L715.0 122.1L716.7 117.0L719.4 113.5L721.2 111.8L724.0 109.7L728.2 106.7L728.6 105.5L729.7 101.6L728.6 101.0L724.0 99.7L719.4 99.5L714.8 98.3L712.0 96.4L710.2 95.3L705.6 94.6L701.0 94.9L696.4 95.8L695.8 96.4L691.8 99.2L687.3 98.6L682.7 98.9L678.1 98.9L676.0 96.4L673.5 93.6L668.9 93.4L664.3 93.5L659.7 93.5L655.1 93.3L650.5 92.8L647.2 91.3L647.0 86.1L645.9 84.8L641.3 83.7L636.7 84.5L632.1 85.7L630.4 86.1L628.6 91.3L627.7 96.4L627.5 96.8L622.9 99.1L618.3 97.8L616.1 96.4L613.7 93.0L610.6 91.3L609.1 91.0L604.5 90.3L599.9 89.9L598.0 91.3L595.3 93.3L590.7 94.0L586.1 95.9L581.5 95.3L579.7 96.4L576.9 99.2L574.9 101.6L573.9 106.7L573.2 111.8L572.3 113.5L567.7 116.3L566.4 117.0L565.0 122.1L566.4 127.2L566.6 132.4L563.1 136.1L562.2 137.5L558.5 139.7L555.0 142.7L553.9 143.2L549.3 143.9L544.7 143.7L540.1 143.3L535.5 144.5L530.9 144.4L526.3 145.5L524.8 147.8L526.0 152.9L526.3 153.9L529.6 158.1L530.9 158.3L535.5 160.0L538.2 163.2L535.5 167.6L535.1 168.4L535.5 169.4L538.8 173.5L539.1 178.6L538.8 183.8L535.5 187.5L530.9 188.2L526.7 183.8L526.3 181.9L524.0 183.8L521.8 185.7L519.3 188.9L517.2 190.3L512.6 192.1L509.4 194.1L508.0 195.2L503.4 199.2L503.4 199.2L500.7 204.3L503.4 206.0L505.7 209.5L506.8 214.6L508.0 215.9L511.5 219.8L511.2 224.9L512.6 227.4L514.3 230.0L515.3 235.2L517.2 239.3L518.1 240.3L518.1 245.5L517.2 246.5L516.2 245.5L512.6 243.3L510.0 240.3L509.8 235.2L508.0 232.2L505.6 230.0L504.7 224.9L504.1 219.8L503.4 218.8L498.8 216.5L494.2 216.2L491.9 214.6L489.6 210.7L488.7 209.5L488.3 204.3L485.0 203.6L481.1 199.2L480.4 198.6L479.5 199.2L475.8 202.9L471.2 203.3L466.6 201.8L464.2 199.2L462.0 198.4L457.5 194.1L457.4 193.4L457.0 194.1L452.8 198.4L450.3 199.2L448.2 199.5L447.7 199.2L445.9 194.1L445.5 188.9L443.6 188.5L442.8 188.9L439.0 192.2L434.4 193.0L429.8 192.0L428.4 194.1L425.2 197.7L424.2 199.2L423.1 204.3L420.6 207.2L419.0 209.5L417.3 214.6L417.0 219.8L416.0 221.2L411.4 221.5L410.4 224.9L409.4 230.0L409.4 235.2L409.6 240.3L409.7 245.5L410.2 250.6L411.4 252.0L415.0 255.8L416.0 260.0L416.9 260.9L420.6 264.8L421.9 266.0L425.2 266.8L429.8 266.7L434.4 266.5L439.0 266.2L439.2 266.0L440.9 260.9L443.0 255.8L443.6 255.5L448.2 254.5L450.3 255.8L452.8 257.4L457.4 258.7L458.9 260.9L459.8 266.0L457.4 270.9L457.3 271.2L456.1 276.3L455.4 281.4L455.6 286.6L457.4 288.6L460.1 291.7L461.5 296.9L462.0 297.6L464.9 302.0L465.2 307.1L465.1 312.3L462.7 317.4L462.0 318.1L460.1 322.6L460.5 327.7L462.0 329.3L464.9 332.8L464.7 338.0L464.9 343.1L466.6 348.2L466.6 348.3L469.4 353.4L470.7 358.5L471.2 359.3L475.0 363.7L475.2 368.8L475.8 369.5ZM521.8 344.0L523.1 343.1L526.3 340.7L527.9 338.0L527.9 332.8L527.8 327.7L530.9 322.6L531.0 322.6L531.0 317.4L530.9 317.4L530.9 317.4L526.3 320.9L524.7 322.6L521.8 325.8L520.3 327.7L520.2 332.8L520.3 338.0L521.0 343.1L521.8 344.0ZM696.4 304.4L701.0 304.3L704.8 302.0L705.6 301.0L707.1 302.0L710.2 303.8L711.6 302.0L710.2 300.1L708.1 296.9L705.6 294.1L703.7 291.7L701.0 289.3L696.4 288.6L691.8 288.8L687.8 291.7L691.8 293.2L694.0 296.9L694.3 302.0L696.4 304.4ZM632.1 291.7L632.1 291.7L632.1 291.7L632.1 291.7L632.1 291.7ZM627.5 288.9L628.9 286.6L628.9 281.4L627.5 277.2L624.2 276.3L622.9 276.1L622.7 276.3L621.8 281.4L622.9 282.7L626.6 286.6L627.5 288.9ZM645.9 288.7L650.5 289.7L652.3 286.6L654.7 281.4L655.1 280.7L656.7 276.3L656.8 271.2L655.7 266.0L655.1 265.3L654.3 266.0L650.5 268.9L648.6 271.2L645.9 273.8L642.6 276.3L641.3 278.0L639.3 281.4L641.3 284.9L642.9 286.6L645.9 288.7ZM682.7 287.3L683.3 286.6L682.7 285.9L682.0 286.6L682.7 287.3ZM618.3 271.2L618.3 271.2L618.3 271.1L618.3 271.2L618.3 271.2ZM627.5 272.6L627.6 271.2L627.5 271.0L627.3 271.2L627.5 272.6ZM632.1 255.8L632.2 255.8L636.7 253.0L638.7 250.6L638.8 245.5L637.6 240.3L636.7 239.3L633.7 235.2L633.5 230.0L636.7 226.4L641.3 226.4L644.0 224.9L645.9 220.8L648.7 219.8L650.5 216.8L651.0 214.6L651.2 209.5L650.5 209.0L645.9 208.6L642.6 204.3L641.3 203.1L640.1 204.4L639.1 209.5L641.3 214.6L636.7 216.1L632.1 216.3L627.5 214.8L627.3 214.6L623.5 209.5L622.9 208.6L618.3 204.3L618.3 204.3L618.2 204.3L613.7 206.1L610.5 209.5L609.1 213.9L608.7 214.6L608.0 219.8L607.0 224.9L609.1 226.4L611.9 230.0L611.9 235.2L613.7 237.9L618.2 240.3L618.3 240.4L621.8 245.5L622.9 247.1L627.5 247.8L629.1 250.6L632.0 255.8L632.1 255.8ZM282.7 251.4L282.9 250.6L283.4 245.5L282.7 244.4L278.1 243.7L275.6 240.3L273.5 236.1L271.8 235.2L268.9 234.7L264.3 234.7L261.7 235.2L264.3 236.6L267.0 240.3L268.9 241.3L273.1 245.5L273.5 245.9L278.1 246.2L282.4 250.6L282.7 251.4ZM245.9 225.5L250.5 225.0L250.8 224.9L255.1 222.6L256.2 219.8L257.8 214.6L259.7 212.6L260.7 209.5L263.2 204.3L259.7 200.9L258.8 199.2L258.0 194.1L257.3 188.9L255.1 186.3L252.1 183.8L255.1 180.9L256.2 178.6L258.3 173.5L258.1 168.4L258.4 163.2L259.7 158.1L259.7 158.1L264.3 156.3L268.9 155.4L273.5 155.6L278.1 154.8L281.3 158.1L282.7 162.2L287.3 161.0L291.9 162.3L296.5 160.6L301.1 159.8L305.7 159.2L306.5 158.1L310.3 154.8L314.9 153.5L315.2 152.9L319.5 149.6L324.1 149.9L328.7 149.5L333.3 152.0L334.2 147.8L333.3 142.9L333.1 142.7L328.7 141.5L325.0 137.5L324.1 135.8L321.8 132.4L319.5 130.7L314.9 130.3L310.8 127.2L310.3 126.6L305.7 124.6L301.1 123.6L296.5 126.9L296.2 127.2L295.9 132.4L296.5 133.7L297.6 137.5L296.5 139.0L294.1 142.7L294.1 147.8L291.9 150.4L289.4 147.8L287.8 142.7L287.3 142.1L282.7 140.4L278.1 138.9L276.9 137.5L273.5 135.4L268.9 134.1L267.6 132.4L266.1 127.2L266.7 122.1L268.9 118.1L269.6 117.0L268.9 113.4L268.2 111.8L264.3 109.7L259.7 109.5L255.1 109.6L250.5 109.2L245.9 109.1L241.3 109.7L237.3 106.7L236.7 106.1L232.1 105.8L230.8 106.7L227.5 109.4L222.9 110.6L218.3 109.2L213.9 106.7L213.7 106.6L209.1 102.9L207.9 101.6L204.5 98.9L199.9 99.5L196.8 101.6L195.3 102.7L190.7 104.1L186.2 105.0L181.6 104.6L177.0 103.1L173.6 101.6L172.4 100.9L167.8 99.6L163.2 99.8L158.6 100.0L154.0 99.6L149.4 98.9L144.8 98.7L141.7 101.6L140.2 103.3L137.0 106.7L135.6 108.5L133.2 111.8L135.6 114.5L139.7 117.0L135.6 119.8L133.5 122.1L135.6 124.4L138.4 127.2L140.2 129.3L144.8 129.8L147.3 132.4L149.4 134.5L153.9 132.4L154.0 132.3L157.4 127.2L158.6 125.9L160.8 127.2L163.2 128.3L164.1 127.2L167.8 124.3L172.4 124.0L177.0 124.9L180.8 127.2L181.6 127.5L186.2 128.3L190.7 128.4L194.0 132.4L195.3 133.7L198.7 137.5L199.9 139.4L203.3 142.7L204.5 146.1L206.7 147.8L209.1 149.6L213.4 147.8L213.7 147.6L214.2 147.8L218.3 148.6L219.9 147.8L220.9 142.7L222.9 141.9L227.5 140.7L232.1 141.7L233.8 142.7L236.5 147.8L236.7 148.3L237.8 152.9L237.0 158.1L239.6 163.2L239.6 168.4L240.0 173.5L236.7 178.4L236.4 178.6L232.1 183.3L227.5 182.8L226.9 183.8L222.9 187.2L221.5 188.9L222.5 194.1L222.9 194.6L226.5 199.2L227.5 202.1L230.8 204.3L232.1 205.1L234.6 209.5L236.7 211.1L239.9 214.6L241.3 216.5L244.8 219.8L245.7 224.9L245.9 225.5ZM576.9 220.2L577.6 219.8L576.9 218.5L576.0 219.8L576.9 220.2ZM268.9 197.4L273.5 196.4L278.1 196.0L280.2 194.1L278.4 188.9L278.1 188.8L273.5 186.0L269.6 183.8L268.9 183.5L268.5 183.8L264.3 188.5L263.6 188.9L264.3 190.0L266.1 194.1L268.9 197.4ZM604.5 189.9L609.0 188.9L609.1 188.8L609.7 183.8L609.1 183.4L604.5 182.7L602.9 183.8L603.7 188.9L604.5 189.9ZM728.6 149.3L729.9 147.8L733.2 144.2L734.6 142.7L737.8 138.9L739.1 137.5L739.4 132.4L741.2 127.2L737.8 123.3L735.9 127.3L733.2 129.6L728.7 132.4L728.6 132.5L727.2 137.5L727.3 142.7L727.3 147.8L728.6 149.3ZM526.3 128.9L530.9 128.9L532.2 127.2L532.6 122.1L533.9 117.0L534.6 111.8L530.9 111.2L526.3 111.4L521.8 111.2L521.0 111.8L517.2 115.3L514.6 117.0L514.8 122.1L517.2 124.8L521.8 125.1L525.2 127.2L526.3 128.9ZM544.7 125.7L549.3 126.1L553.9 123.0L554.8 122.1L558.5 117.1L558.7 117.0L559.4 111.8L558.5 109.2L556.5 106.7L553.9 106.2L552.1 106.7L549.3 108.9L546.4 111.8L544.7 112.7L540.1 112.6L536.9 117.0L540.1 118.5L542.3 122.1L544.7 125.7ZM756.2 122.9L759.0 122.1L760.8 121.0L765.4 118.6L766.8 117.0L768.5 111.8L768.6 106.7L765.4 104.9L760.8 103.5L756.2 104.4L751.6 104.7L747.0 104.7L742.4 105.0L737.8 105.7L733.3 106.7L734.8 111.8L737.4 117.0L737.8 118.7L739.4 117.0L742.4 115.7L746.1 111.8L747.0 111.1L747.7 111.8L751.6 116.4L752.2 117.0L753.0 122.1L756.2 122.9ZM494.2 112.8L498.8 112.3L498.9 111.8L500.1 106.7L498.8 106.4L494.2 104.2L491.2 106.7L492.5 111.8L494.2 112.8Z" fill="#259f52" fill-rule="evenodd"/>
<path d="M305.7 414.4L310.3 410.6L310.4 409.9L314.4 404.8L312.1 399.7L314.9 394.8L314.9 394.5L319.5 389.6L319.6 389.4L320.4 384.2L320.9 379.1L320.9 374.0L323.0 368.8L324.1 368.3L328.7 365.2L333.3 366.9L336.3 368.8L337.9 369.4L338.3 368.8L342.5 365.5L344.1 363.7L344.9 358.5L347.1 355.2L347.9 353.4L348.0 348.3L351.7 344.0L352.6 343.1L356.2 338.6L360.8 338.5L361.3 338.0L361.6 332.8L365.4 328.5L365.8 327.7L365.8 322.6L366.3 317.4L367.6 312.3L370.0 308.1L370.4 307.1L370.9 302.0L370.9 296.9L370.0 296.1L366.3 291.7L365.4 290.9L360.8 290.8L356.2 287.2L355.8 286.6L351.7 284.9L349.0 281.4L347.1 279.0L345.1 276.3L344.8 271.2L342.5 268.5L337.9 266.9L336.7 266.0L333.3 263.9L330.1 260.9L328.7 259.3L325.4 255.8L324.1 254.3L319.5 254.8L314.9 254.6L310.3 254.8L305.7 254.9L301.1 255.3L300.7 255.8L298.8 260.9L299.3 266.0L298.5 271.2L296.5 273.2L295.0 276.3L291.9 281.4L291.9 281.4L290.4 286.6L290.4 291.7L290.5 296.9L291.9 298.4L294.8 302.0L294.6 307.1L296.5 309.9L298.9 312.3L299.7 317.4L301.1 319.0L304.4 322.6L305.7 324.0L310.0 327.7L310.3 329.0L314.8 332.8L313.7 338.0L310.3 341.5L310.0 343.1L310.0 348.3L310.0 353.4L310.2 358.5L310.2 363.7L310.0 368.8L307.5 374.0L305.7 375.9L305.0 379.1L304.9 384.2L304.7 389.4L304.4 394.5L303.1 399.7L301.1 403.8L300.8 404.8L301.1 406.3L303.9 409.9L305.7 414.4ZM696.4 374.2L701.0 374.0L701.5 374.0L705.6 373.6L710.2 369.3L714.8 369.2L714.9 368.8L716.4 363.7L719.4 360.9L720.5 358.5L720.8 353.4L720.9 348.3L719.4 346.7L716.7 343.1L715.5 338.0L714.8 337.3L712.2 332.8L710.2 330.7L707.4 327.7L706.9 322.6L705.6 321.2L702.7 317.4L701.0 314.8L699.4 317.4L699.3 322.6L696.4 325.5L691.8 324.8L689.9 322.6L689.2 317.4L687.3 313.6L686.0 312.3L682.7 310.3L680.8 312.3L678.1 316.2L677.0 317.4L673.5 320.6L668.9 320.9L667.4 322.6L665.8 327.7L664.3 330.4L660.7 332.8L659.7 333.7L655.1 336.5L650.5 336.6L649.2 338.0L649.1 343.1L649.0 348.3L649.3 353.4L650.5 355.6L652.5 358.5L652.9 363.7L653.3 368.8L655.1 370.6L659.7 369.3L660.1 368.8L664.3 365.9L668.9 365.2L671.9 363.7L673.5 361.9L678.1 360.5L682.7 363.0L683.3 363.7L687.3 366.4L691.0 368.8L691.8 369.3L696.3 374.0L696.4 374.2ZM475.8 363.7L475.8 363.7L480.4 362.5L481.8 358.5L482.0 353.4L485.0 348.3L485.0 348.3L488.2 343.1L489.6 342.3L494.2 340.5L498.8 338.1L498.9 338.0L502.0 332.8L503.4 331.2L504.8 327.7L508.0 325.2L511.3 322.6L512.6 321.3L514.2 317.4L514.1 312.3L512.6 309.7L508.7 307.1L508.0 303.7L507.2 302.0L508.0 301.1L508.8 296.9L509.4 291.7L512.6 287.4L513.0 286.6L514.4 281.4L517.2 278.0L519.1 276.3L521.8 275.6L524.0 271.2L526.3 268.6L527.7 266.0L529.4 260.9L530.9 259.1L532.3 255.8L530.9 254.2L526.3 254.3L521.8 254.1L518.6 250.6L517.2 247.6L515.3 245.5L512.6 243.9L509.6 240.3L509.4 235.2L508.0 233.0L504.7 230.0L504.1 224.9L503.4 219.8L503.4 219.7L498.8 218.8L494.2 218.6L489.6 216.3L486.3 214.6L485.0 210.7L480.7 209.5L480.4 208.8L480.1 204.3L475.8 204.0L471.2 204.0L466.6 204.1L462.0 199.2L462.0 199.2L457.4 198.6L456.7 199.2L452.8 201.2L448.2 200.9L445.2 199.2L444.3 194.1L443.6 191.5L439.0 193.5L434.4 193.7L429.8 193.0L429.1 194.1L425.2 198.5L424.8 199.2L424.4 204.3L420.6 208.7L420.1 209.5L419.1 214.6L418.2 219.8L416.0 222.9L411.4 223.8L411.1 224.9L409.9 230.0L409.8 235.2L410.1 240.3L410.3 245.5L410.8 250.6L411.4 251.3L415.7 255.8L416.0 257.2L419.9 260.9L420.6 261.6L425.2 261.1L425.3 260.9L429.8 256.0L429.9 255.8L434.4 250.7L439.0 252.7L443.6 253.1L448.2 252.4L452.8 254.9L457.4 255.7L457.5 255.8L461.0 260.9L460.9 266.0L458.3 271.2L457.4 273.5L456.8 276.3L455.9 281.4L456.1 286.6L457.4 288.0L460.6 291.7L462.0 296.3L462.8 296.9L465.6 302.0L465.7 307.1L465.7 312.3L463.9 317.4L462.0 319.3L460.6 322.6L461.1 327.7L462.0 328.7L465.4 332.8L465.2 338.0L465.4 343.1L466.6 346.9L467.5 348.3L470.0 353.4L471.2 358.2L472.5 358.5L475.8 363.7L475.8 363.7ZM497.4 260.9L498.8 258.6L500.9 255.8L503.4 254.9L504.1 255.8L505.6 260.9L503.4 265.1L498.8 262.2L497.4 260.9ZM473.0 250.6L475.8 249.1L477.5 250.6L475.8 253.6L473.0 250.6ZM521.8 343.2L521.8 343.1L526.3 339.8L527.4 338.0L527.4 332.8L527.2 327.7L529.1 322.6L526.3 321.6L525.4 322.6L521.8 326.6L520.9 327.7L520.7 332.8L520.8 338.0L521.7 343.1L521.8 343.2ZM696.4 303.9L701.0 303.8L703.9 302.0L705.6 300.1L707.5 296.9L705.6 294.7L703.1 291.7L701.0 289.8L696.4 289.1L691.8 290.4L690.0 291.7L691.8 292.4L694.4 296.9L694.8 302.0L696.4 303.9ZM710.2 303.1L711.0 302.0L710.2 300.9L708.4 302.0L710.2 303.1ZM627.5 287.1L627.8 286.6L628.3 281.4L627.5 279.0L622.9 279.2L622.5 281.4L622.9 281.9L627.3 286.6L627.5 287.1ZM645.9 288.2L650.5 288.9L651.8 286.6L654.0 281.4L655.1 279.2L656.1 276.3L656.3 271.2L655.1 266.1L650.5 269.5L649.1 271.2L645.9 274.3L643.2 276.3L641.3 278.8L639.7 281.4L641.3 284.1L643.6 286.6L645.9 288.2ZM632.1 254.5L636.7 252.5L638.2 250.6L638.3 245.5L637.0 240.3L636.7 240.0L633.1 235.2L633.0 230.0L636.7 225.7L641.3 225.3L642.1 224.9L641.3 222.9L638.1 219.8L636.7 218.9L632.1 218.2L627.5 216.4L625.0 214.6L622.9 211.3L620.7 209.5L618.3 207.6L613.7 208.2L612.5 209.5L610.2 214.6L609.9 219.8L609.1 221.5L607.9 224.9L609.1 225.8L612.4 230.0L612.4 235.2L613.7 237.2L618.3 238.9L620.6 240.3L622.5 245.5L622.9 246.1L627.5 246.5L629.9 250.6L632.1 254.5ZM521.8 247.0L526.3 247.0L527.7 245.5L530.9 242.3L533.3 240.3L535.5 237.3L539.8 235.2L538.3 230.0L538.0 224.9L535.5 222.3L530.9 220.4L530.4 219.8L526.3 214.9L525.2 214.6L522.0 209.5L526.3 206.2L526.5 204.3L526.3 203.4L525.8 199.2L524.4 194.1L521.8 191.8L517.2 192.2L512.6 193.9L512.3 194.1L508.0 197.5L506.0 199.2L503.4 203.8L503.1 204.3L503.4 204.5L506.7 209.5L507.5 214.6L508.0 215.1L512.2 219.8L511.8 224.9L512.6 226.3L515.0 230.0L515.8 235.2L517.2 238.2L519.1 240.3L519.1 245.5L521.8 247.0ZM268.9 240.5L273.5 243.1L274.2 240.3L273.5 238.9L268.9 238.7L268.6 240.3L268.9 240.5ZM245.9 222.0L250.5 219.9L251.9 219.8L255.1 219.5L256.2 214.6L259.7 210.9L260.2 209.5L260.7 204.3L259.7 203.4L257.5 199.2L256.1 194.1L255.1 190.8L254.5 188.9L250.5 185.1L245.9 184.5L242.1 183.8L241.3 181.5L241.1 183.8L236.7 188.3L233.7 188.9L232.1 189.5L227.5 189.9L226.1 194.1L227.1 199.2L227.5 200.3L232.1 202.2L233.3 204.3L235.5 209.5L236.7 210.4L240.4 214.6L241.3 215.7L245.5 219.8L245.9 222.0ZM553.9 214.9L558.5 214.6L558.5 214.6L561.8 209.5L563.1 207.9L564.7 204.3L567.6 199.2L567.7 198.8L568.2 194.1L568.4 188.9L567.7 183.8L567.7 183.8L563.1 182.1L558.5 178.9L553.9 179.7L549.3 180.6L544.7 179.5L543.1 178.6L540.3 173.5L544.7 171.1L549.3 169.8L553.9 170.6L558.2 168.4L558.5 168.3L563.1 167.4L567.7 167.9L572.3 166.3L576.8 163.2L576.9 163.1L581.5 161.3L586.1 161.1L590.7 160.9L595.3 161.7L597.6 163.2L599.9 164.7L604.5 166.0L609.1 166.5L613.7 165.8L617.5 163.2L618.3 162.4L619.3 163.2L622.9 164.8L627.5 167.0L629.6 168.4L632.1 171.5L635.6 173.5L636.7 177.8L641.3 177.0L645.9 174.1L650.5 174.0L655.1 175.4L659.7 173.7L659.9 173.5L661.2 168.4L664.3 166.5L668.9 165.0L673.1 163.2L673.3 158.1L668.9 155.6L664.3 155.2L660.2 152.9L659.7 152.6L655.1 148.0L654.5 147.8L654.8 142.7L655.1 141.3L655.2 137.5L659.7 134.0L664.3 133.3L667.9 132.4L668.9 132.2L669.5 132.4L673.3 137.5L673.5 137.7L678.1 140.0L681.3 142.7L682.7 143.4L687.3 143.1L687.3 142.7L691.8 137.9L692.0 137.5L696.4 133.1L697.1 132.4L701.0 128.1L705.6 128.1L710.2 128.0L712.7 127.2L712.9 122.1L714.8 118.6L715.4 117.0L719.4 111.8L719.4 111.8L724.0 108.3L726.3 106.7L728.0 101.6L724.0 100.3L719.4 100.1L714.8 99.1L710.8 96.4L710.2 96.0L705.6 95.2L701.0 95.6L697.3 96.4L696.4 96.7L691.8 99.7L687.3 99.1L682.7 99.3L678.1 99.3L675.6 96.4L673.5 94.0L668.9 93.8L664.3 93.9L659.7 93.9L655.1 93.7L650.5 93.3L646.2 91.3L646.4 86.1L645.9 85.5L641.3 84.2L636.7 85.1L633.4 86.1L632.1 88.4L630.6 91.3L629.2 96.4L627.5 100.1L624.2 101.6L622.9 102.0L622.2 101.6L618.3 99.7L613.7 97.2L612.2 96.4L609.1 94.6L605.6 91.3L604.5 91.1L599.9 90.6L599.0 91.3L595.3 94.1L590.7 94.6L586.6 96.4L586.1 96.8L584.3 96.4L581.5 96.0L580.8 96.4L576.9 100.3L575.9 101.6L575.0 106.7L574.6 111.8L572.3 116.1L570.8 117.0L567.7 122.0L567.7 122.1L567.7 122.3L571.4 127.2L572.3 128.9L576.9 130.5L578.7 132.4L580.1 137.5L578.4 142.7L576.9 144.2L572.3 144.5L569.4 142.7L567.7 140.6L563.1 139.1L558.5 141.2L556.9 142.7L553.9 144.1L549.3 144.6L544.7 144.6L540.1 144.4L535.5 145.9L531.2 147.8L530.9 151.2L530.8 152.9L530.9 153.2L532.9 158.1L535.5 159.0L539.0 163.2L536.8 168.4L540.1 173.5L539.7 178.6L539.4 183.8L535.5 188.2L531.5 188.9L535.5 193.8L535.7 194.1L537.1 199.2L536.9 204.3L540.1 207.9L541.8 209.5L544.7 210.4L549.3 213.4L552.1 214.6L553.9 214.9ZM268.9 192.7L273.5 191.2L273.6 188.9L273.5 188.9L268.9 187.0L267.2 188.9L268.9 192.7ZM250.5 176.6L255.1 177.1L256.9 173.5L256.8 168.4L257.0 163.2L256.5 158.1L259.7 154.7L264.3 153.5L268.9 153.9L273.5 154.3L278.1 154.2L281.8 158.1L282.7 160.6L287.3 160.0L291.9 160.8L296.5 158.6L301.0 158.1L301.1 158.1L305.7 157.0L310.3 153.5L311.9 152.9L314.9 152.0L319.5 148.7L324.1 149.0L328.7 148.5L333.3 148.8L333.5 147.8L333.3 146.6L330.2 142.7L328.7 142.3L324.3 137.5L324.1 137.2L321.0 132.4L319.5 131.3L314.9 130.9L310.3 127.5L310.0 127.2L305.7 125.1L301.1 124.2L297.1 127.2L296.7 132.4L298.1 137.5L296.5 139.7L294.5 142.7L294.7 147.8L291.9 151.1L288.7 147.8L287.3 143.6L286.6 142.7L282.7 141.1L278.1 140.1L275.9 137.5L273.5 136.0L268.9 135.1L266.9 132.4L265.6 127.2L265.9 122.1L268.5 117.0L266.4 111.8L264.3 110.7L259.7 110.6L255.1 110.3L250.5 110.2L245.9 110.1L241.3 110.3L236.7 107.0L232.1 107.0L227.5 110.7L223.9 111.8L222.9 112.0L222.3 111.8L218.3 110.3L213.7 107.6L213.0 106.7L209.1 103.6L207.3 101.6L204.5 99.4L199.9 100.1L197.7 101.6L195.3 103.3L190.7 104.6L186.2 105.6L181.6 105.2L177.0 103.9L172.4 101.9L171.9 101.6L167.8 100.2L163.2 100.4L158.6 100.7L154.0 100.2L149.4 99.3L144.8 99.2L142.2 101.6L140.2 103.8L137.5 106.7L135.6 109.1L133.7 111.8L135.6 114.0L140.2 116.7L140.4 117.0L140.2 117.3L135.6 120.3L134.0 122.1L135.6 123.9L138.9 127.2L140.2 128.7L144.8 129.3L147.8 132.4L149.4 134.0L152.9 132.4L154.0 131.2L156.6 127.2L158.6 125.0L162.2 127.2L163.2 127.7L163.6 127.2L167.8 123.8L172.4 123.4L177.0 123.7L181.6 125.9L183.7 127.2L186.2 127.7L190.7 127.7L194.6 132.4L195.3 133.1L199.2 137.5L199.9 138.7L204.1 142.7L204.5 143.9L209.1 146.8L213.7 144.5L216.7 142.7L218.3 141.9L222.9 140.5L227.5 139.6L232.1 140.8L235.5 142.7L236.7 144.9L238.6 147.8L239.7 152.9L239.8 158.1L241.3 161.6L242.0 163.2L243.5 168.4L245.9 172.6L246.3 173.5L250.5 176.6ZM728.6 148.6L729.3 147.8L733.2 143.6L734.0 142.7L737.8 138.2L738.5 137.5L738.8 132.4L739.3 127.2L737.8 125.6L737.0 127.2L733.2 130.5L730.2 132.4L728.6 134.6L727.8 137.5L727.8 142.7L727.9 147.8L728.6 148.6ZM521.8 122.7L523.6 122.1L526.1 117.0L521.8 114.6L517.3 117.0L519.3 122.1L521.8 122.7ZM544.7 123.1L549.3 124.3L552.1 122.1L553.9 118.1L554.8 117.0L553.9 111.8L553.9 111.8L553.9 111.8L549.3 112.4L544.7 114.6L541.3 117.0L544.1 122.1L544.7 123.1ZM756.2 122.1L756.3 122.1L760.8 119.3L765.4 117.9L766.2 117.0L767.2 111.8L767.4 106.7L765.4 105.6L760.8 104.3L756.2 105.0L751.6 105.5L747.0 105.7L742.4 105.8L737.8 106.6L737.5 106.7L737.2 111.8L737.8 113.1L742.4 113.0L743.6 111.8L747.0 109.0L749.5 111.8L751.6 114.4L754.3 117.0L756.1 122.1L756.2 122.1Z" fill="#45ab48" fill-rule="evenodd"/>
<path d="M305.7 409.5L310.3 407.6L312.4 404.8L310.3 400.8L309.6 399.7L310.3 398.8L313.0 394.5L314.9 390.3L315.8 389.4L316.5 384.2L317.6 379.1L317.6 374.0L314.9 372.3L310.3 373.4L310.1 374.0L305.7 378.6L305.6 379.1L305.5 384.2L305.3 389.4L304.9 394.5L304.1 399.7L302.0 404.8L305.7 409.5ZM655.1 370.1L659.0 368.8L659.7 368.3L664.3 365.3L668.9 364.6L670.8 363.7L673.5 360.6L678.1 359.9L682.7 361.9L684.3 363.7L687.3 365.7L691.8 368.3L692.8 368.8L696.4 371.8L701.0 368.9L701.1 368.8L705.6 363.7L705.6 363.6L706.2 363.7L710.2 364.5L714.8 365.1L715.2 363.7L719.4 359.8L720.0 358.6L720.3 353.4L720.4 348.3L719.4 347.2L716.3 343.1L714.9 338.0L714.8 337.9L711.7 332.8L710.2 331.2L707.0 327.7L706.3 322.6L705.6 321.8L702.3 317.4L701.0 315.5L699.8 317.4L699.7 322.6L696.4 326.0L691.8 325.4L689.3 322.6L688.8 317.4L687.3 314.4L685.2 312.3L682.7 310.7L681.3 312.3L678.1 316.8L677.5 317.4L673.5 321.1L668.9 321.4L667.8 322.6L666.9 327.7L664.3 332.2L663.3 332.8L659.7 335.6L655.1 337.1L650.5 337.1L649.7 338.0L649.6 343.1L649.5 348.3L649.8 353.4L650.5 354.7L653.2 358.5L653.5 363.7L653.8 368.8L655.1 370.1ZM670.8 353.4L668.9 351.0L667.4 348.3L665.5 343.1L668.9 339.8L673.5 342.5L673.8 343.1L675.0 348.3L674.7 353.4L673.5 354.5L670.8 353.4ZM319.5 365.1L324.1 364.8L327.0 363.7L328.7 363.4L329.1 363.7L333.3 365.7L337.9 368.5L342.5 365.0L343.7 363.7L344.2 358.5L347.1 354.0L347.3 353.4L347.5 348.3L351.7 343.4L351.9 343.1L355.3 338.0L351.8 332.9L353.1 327.7L351.7 326.3L347.1 323.2L346.4 322.6L342.5 317.9L337.9 317.9L333.3 317.7L333.0 317.4L332.7 312.3L333.3 311.6L337.9 311.2L342.5 312.0L347.1 311.8L347.8 312.3L351.7 314.9L354.7 317.4L355.4 322.6L356.2 323.7L359.6 322.6L360.8 322.1L365.4 320.1L365.7 317.4L366.7 312.3L368.8 307.1L366.3 302.0L369.4 296.9L365.7 291.7L365.4 291.5L360.8 291.4L356.2 289.3L354.5 286.6L351.7 285.5L348.6 281.4L347.1 279.5L344.8 276.3L344.5 271.2L342.5 268.9L337.9 267.5L335.9 266.0L333.3 264.3L329.6 260.9L328.7 259.9L324.9 255.8L324.1 254.8L319.5 255.5L314.9 255.3L310.3 255.5L306.3 255.8L307.5 260.9L305.7 262.5L301.8 260.9L301.1 260.4L301.0 260.9L300.4 266.0L299.4 271.2L296.5 274.2L295.4 276.3L294.1 281.4L291.9 283.2L290.9 286.6L290.9 291.7L291.0 296.9L291.9 297.9L295.2 302.0L295.0 307.1L296.5 309.3L299.5 312.3L300.2 317.4L301.1 318.5L304.9 322.6L305.7 323.4L310.3 325.9L314.9 326.6L316.3 327.7L319.5 332.8L317.5 338.0L319.5 342.1L319.8 343.1L320.2 348.3L320.1 353.4L319.5 357.3L318.8 358.5L318.8 363.7L319.5 365.1ZM471.2 356.2L475.3 353.4L475.8 352.6L480.4 350.1L481.4 348.3L482.2 343.1L484.9 338.0L485.0 338.0L485.0 338.0L489.6 338.8L494.2 339.2L496.5 338.0L498.8 334.7L499.9 332.8L503.4 328.8L503.8 327.7L508.0 324.4L510.2 322.6L512.6 320.2L513.8 317.4L513.6 312.3L512.6 310.5L508.0 307.7L506.6 307.1L504.7 302.0L508.0 298.3L508.2 296.9L508.6 291.7L510.5 286.6L509.6 281.4L508.8 276.3L512.6 274.2L517.2 274.5L521.8 273.9L523.2 271.2L526.3 267.7L527.2 266.0L528.4 260.9L530.9 257.9L531.8 255.8L530.9 254.8L526.3 254.8L521.8 254.6L518.1 250.6L517.2 248.6L514.3 245.5L512.6 244.4L509.1 240.3L508.9 235.2L508.0 233.7L503.8 230.0L503.5 224.9L503.4 223.8L498.8 223.1L496.2 224.9L494.2 225.9L492.0 224.9L489.6 222.7L488.0 219.8L485.0 217.4L480.4 217.7L475.8 216.3L471.2 216.6L467.1 214.6L466.6 214.3L462.0 211.4L459.1 209.5L457.6 204.4L457.4 204.1L452.8 203.7L448.2 202.3L443.6 199.8L439.0 199.6L437.1 199.2L434.4 197.4L429.8 194.2L426.8 199.2L428.1 204.3L426.8 209.5L425.2 210.7L421.1 214.6L420.6 215.3L419.4 219.8L416.0 224.6L414.7 224.9L411.4 225.9L410.3 230.0L410.3 235.2L410.6 240.3L410.9 245.5L411.4 250.6L411.4 250.6L416.0 251.1L420.6 251.0L421.0 250.6L424.2 245.5L425.2 244.6L429.8 242.8L433.5 240.3L434.1 235.2L434.4 235.1L439.0 232.5L440.5 235.2L441.3 240.3L441.0 245.5L443.3 250.6L443.6 250.7L444.7 250.6L448.2 249.3L449.9 250.6L452.8 251.5L454.7 250.6L457.4 248.9L462.0 247.4L466.6 246.8L471.2 246.9L475.4 245.5L475.8 245.4L475.9 245.5L480.4 249.6L482.7 250.6L480.4 255.0L480.0 255.8L475.8 259.3L471.2 258.1L466.6 257.7L463.9 260.9L462.0 265.9L462.0 266.0L459.4 271.2L457.4 276.2L457.4 276.3L456.4 281.4L456.6 286.6L457.4 287.5L461.1 291.7L462.0 294.7L465.1 296.9L466.3 302.0L466.3 307.1L466.3 312.3L465.1 317.4L462.0 320.4L461.1 322.6L461.7 327.7L462.0 328.1L465.9 332.8L465.7 338.0L465.8 343.1L466.6 345.5L468.3 348.3L470.5 353.4L471.2 356.2ZM498.6 281.4L497.9 276.3L498.8 273.4L502.0 271.2L498.8 267.1L498.2 266.0L494.2 262.3L493.5 260.9L491.9 255.8L494.2 250.8L498.8 252.8L503.4 253.2L505.7 255.8L508.0 260.8L508.0 260.9L508.0 261.0L505.7 266.0L504.6 271.2L506.1 276.3L503.4 280.5L501.0 281.4L498.8 281.8L498.6 281.4ZM465.9 240.3L466.6 239.6L466.8 240.3L466.6 242.6L465.9 240.3ZM521.8 340.0L526.3 338.8L526.8 338.0L526.8 332.8L526.6 327.7L527.0 322.6L526.3 322.3L526.1 322.6L521.8 327.4L521.5 327.7L521.3 332.8L521.4 338.0L521.8 340.0ZM696.4 303.4L701.0 303.3L703.1 302.0L705.6 299.1L707.0 296.9L705.6 295.4L702.6 291.7L701.0 290.2L696.4 289.7L692.0 291.7L694.8 296.9L695.2 302.0L696.4 303.4ZM710.2 302.3L710.5 302.0L710.2 301.7L709.7 302.0L710.2 302.3ZM645.9 287.7L650.5 288.0L651.3 286.6L653.3 281.4L655.1 277.7L655.6 276.3L655.7 271.2L655.1 268.3L650.5 270.1L649.6 271.2L645.9 274.8L643.9 276.3L641.3 279.6L640.2 281.4L641.3 283.3L644.4 286.6L645.9 287.7ZM627.5 283.1L627.7 281.4L627.5 280.8L625.3 281.4L627.5 283.1ZM632.1 253.2L636.7 251.9L637.8 250.6L637.9 245.5L636.7 241.3L635.0 240.3L632.6 235.2L632.4 230.0L636.7 225.1L638.0 224.9L636.7 223.6L632.1 221.5L631.4 219.8L627.5 218.1L622.9 214.8L622.4 214.6L618.3 211.6L613.7 210.4L611.3 214.6L611.1 219.8L609.1 224.2L608.8 224.9L609.1 225.1L612.9 230.0L612.9 235.2L613.7 236.4L618.3 237.5L622.9 240.2L627.5 239.7L628.1 240.3L627.8 245.5L630.6 250.6L632.1 253.2ZM521.8 246.5L526.3 246.4L527.2 245.5L530.9 241.8L532.8 240.3L535.5 236.5L538.1 235.2L537.1 230.0L536.9 224.9L535.5 223.4L530.9 222.1L528.8 219.8L526.3 216.9L521.8 216.0L517.7 219.8L517.2 220.4L512.6 222.9L512.4 224.9L512.6 225.2L515.7 230.0L516.3 235.2L517.2 237.1L520.1 240.3L520.0 245.5L521.8 246.5ZM241.3 215.0L245.9 217.8L250.5 216.0L252.8 214.6L255.1 212.4L258.6 209.5L257.8 204.3L256.3 199.2L255.1 195.8L254.5 194.1L252.5 188.9L250.5 187.0L245.9 187.7L241.3 187.6L240.1 188.9L237.5 194.1L236.7 194.9L233.3 199.2L235.7 204.3L236.3 209.5L236.7 209.8L241.0 214.6L241.3 215.0ZM508.0 211.9L512.6 211.5L514.4 209.5L517.2 208.6L520.9 204.3L521.8 202.0L523.0 199.2L521.8 197.4L517.2 194.1L512.6 195.9L508.6 199.2L508.0 201.5L506.7 204.3L507.7 209.5L508.0 211.9ZM549.3 211.0L553.9 212.8L558.5 210.5L559.2 209.5L563.1 204.5L563.2 204.3L564.4 199.2L566.9 194.1L566.6 188.9L563.1 185.7L561.5 183.8L558.5 180.8L553.9 181.3L549.3 182.2L544.7 181.9L540.1 181.5L540.0 183.8L535.5 188.9L535.5 188.9L535.5 189.0L538.8 194.1L539.7 199.2L539.9 204.3L540.1 204.7L544.7 208.8L545.5 209.5L549.3 211.0ZM250.5 173.8L255.1 174.2L255.4 173.5L255.5 168.4L255.5 163.2L255.1 161.4L252.8 158.1L255.1 156.5L258.5 152.9L259.7 152.4L264.3 151.8L268.9 151.9L273.2 152.9L273.5 153.0L278.1 153.6L282.4 158.1L282.7 158.9L287.3 159.0L291.9 159.3L294.3 158.1L296.5 155.9L301.1 155.5L305.7 154.6L308.1 152.9L310.3 152.1L314.9 150.7L319.5 147.9L324.1 148.1L326.5 147.8L324.1 145.4L322.7 142.7L320.0 137.5L320.1 132.4L319.5 131.9L314.9 131.5L310.3 128.7L309.0 127.2L305.7 125.6L301.1 124.8L297.9 127.2L297.5 132.4L298.7 137.5L296.5 140.5L295.0 142.7L295.3 147.8L291.9 151.8L288.1 147.8L287.3 145.6L285.0 142.7L282.7 141.7L278.1 141.4L274.8 137.5L273.5 136.7L268.9 136.0L266.2 132.4L265.1 127.2L265.2 122.1L265.4 117.0L264.7 111.8L264.3 111.6L259.7 111.8L255.1 111.1L250.5 111.1L245.9 111.1L241.3 110.9L236.7 108.2L232.1 108.3L227.8 111.8L227.5 112.1L222.9 113.0L219.5 111.8L218.3 111.4L213.7 108.6L212.2 106.7L209.1 104.3L206.7 101.6L204.5 99.9L199.9 100.7L198.6 101.6L195.3 104.0L190.7 105.0L186.2 106.2L181.6 105.7L177.0 104.7L172.4 103.0L170.1 101.6L167.8 100.8L163.2 101.1L158.6 101.3L154.0 100.7L149.4 99.8L144.8 99.6L142.7 101.6L140.2 104.3L138.0 106.7L135.6 109.7L134.1 111.8L135.6 113.5L140.2 115.7L141.3 117.0L140.2 118.3L135.6 120.9L134.5 122.1L135.6 123.4L139.4 127.2L140.2 128.1L144.8 128.8L148.2 132.4L149.4 133.5L151.9 132.4L154.0 130.1L155.9 127.2L158.6 124.2L163.2 126.8L167.8 123.4L172.4 122.8L177.0 122.6L181.6 123.6L186.2 125.9L190.7 125.4L192.8 127.2L195.2 132.4L195.3 132.5L199.7 137.5L199.9 137.9L203.1 137.5L204.5 136.9L206.3 137.5L209.1 140.1L213.7 141.3L218.3 139.5L222.9 139.1L227.5 138.5L232.1 139.8L236.7 142.4L237.4 142.7L240.7 147.8L241.3 151.2L243.2 152.9L244.2 158.1L244.9 163.2L245.9 165.2L248.1 168.4L250.0 173.5L250.5 173.8ZM553.9 168.5L554.2 168.4L558.5 167.4L563.1 166.6L567.7 166.4L572.3 165.0L574.9 163.2L576.9 160.7L581.5 158.3L586.1 158.8L590.7 158.4L595.3 160.1L599.9 163.2L600.1 163.2L604.5 164.4L609.1 165.1L613.7 164.7L615.9 163.2L618.3 160.6L621.5 163.2L622.9 163.9L627.5 165.7L631.4 168.4L632.1 169.2L636.7 171.9L641.3 171.8L645.9 169.6L648.6 168.4L650.5 167.4L655.1 166.0L659.3 163.2L659.7 162.2L660.5 163.2L664.3 163.8L668.3 163.2L668.9 161.2L669.1 158.1L668.9 158.0L664.3 157.6L659.7 157.2L656.8 152.9L655.1 151.3L650.5 149.8L645.9 152.9L645.9 153.0L641.3 155.8L636.7 153.3L636.5 152.9L636.7 151.9L639.1 147.8L641.3 146.0L645.9 146.6L647.5 142.7L650.5 140.7L652.9 137.5L655.1 135.1L659.0 132.4L659.7 131.5L664.3 129.4L668.9 130.2L673.5 131.0L676.1 132.4L678.1 134.5L682.7 132.9L687.3 133.2L691.8 134.0L696.4 132.4L696.5 132.4L701.0 127.5L705.6 127.5L710.2 127.3L710.4 127.2L710.9 122.1L713.2 117.0L714.8 116.0L718.1 111.8L719.4 109.8L724.0 107.0L724.5 106.7L726.1 101.6L724.0 100.9L719.4 100.6L714.8 99.9L710.2 97.1L708.7 96.4L705.6 95.8L701.0 96.3L700.4 96.4L696.4 98.0L691.8 100.3L687.3 99.6L682.7 99.8L678.1 99.7L675.2 96.4L673.5 94.4L668.9 94.2L664.3 94.3L659.7 94.3L655.1 94.1L650.5 93.8L645.9 91.9L645.1 91.3L645.7 86.1L641.3 84.7L636.7 85.8L635.5 86.1L632.5 91.3L632.1 92.3L630.7 96.4L628.4 101.6L627.5 103.3L622.9 104.6L618.3 101.7L618.0 101.6L613.7 100.7L609.1 100.1L604.5 96.8L604.2 96.4L599.9 91.8L595.3 94.9L590.7 95.2L587.9 96.4L586.1 97.9L581.5 97.1L576.9 101.5L576.9 101.6L576.2 106.7L575.9 111.8L576.9 116.4L577.1 117.0L578.2 122.1L578.5 127.2L581.5 130.4L583.0 132.4L584.8 137.5L584.7 142.7L581.5 147.3L581.0 147.8L576.9 149.5L572.3 148.5L571.3 147.8L567.7 145.0L564.9 142.7L563.1 141.5L559.3 142.7L558.5 143.0L553.9 145.0L549.3 145.2L544.7 145.6L540.1 145.4L535.5 147.3L534.3 147.8L532.4 152.9L535.5 158.0L535.6 158.1L539.8 163.2L540.1 168.1L544.7 167.8L549.3 167.7L553.1 168.4L553.9 168.5ZM728.6 147.9L728.7 147.8L733.2 142.9L733.4 142.7L737.8 137.6L737.8 137.5L738.3 132.4L737.8 128.4L733.2 131.4L731.7 132.4L728.6 136.7L728.4 137.5L728.4 142.7L728.5 147.8L728.6 147.9ZM549.3 122.4L549.7 122.1L550.1 117.0L549.3 116.3L544.7 116.5L544.1 117.0L544.7 118.4L548.3 122.1L549.3 122.4ZM760.8 117.7L765.4 117.2L765.6 117.0L765.8 111.8L766.2 106.7L765.4 106.2L760.8 105.1L756.2 105.6L751.6 106.4L747.0 106.6L742.4 106.5L741.4 106.7L742.4 108.3L747.0 106.9L751.2 111.8L751.6 112.3L756.2 116.3L757.2 117.0L760.8 117.7Z" fill="#7bc043" fill-rule="evenodd"/>
<path d="M305.7 407.3L310.3 404.8L310.3 404.8L310.3 404.8L307.0 399.7L310.3 395.7L311.0 394.5L310.3 392.4L305.7 391.0L305.4 394.5L305.2 399.7L303.7 404.8L305.7 407.3ZM655.1 369.6L657.4 368.8L659.7 367.0L664.3 364.7L668.9 364.1L669.6 363.7L673.5 359.3L678.1 359.3L682.7 360.7L685.4 363.7L687.3 364.9L691.8 366.2L696.4 368.7L701.0 364.7L701.9 363.7L705.6 361.9L710.2 362.0L714.6 358.5L714.8 358.2L717.5 358.5L719.4 358.6L719.5 358.5L719.8 353.4L719.9 348.3L719.4 347.8L715.9 343.1L714.8 339.3L713.9 338.0L711.3 332.8L710.2 331.6L706.5 327.7L705.8 322.6L705.6 322.4L701.8 317.4L701.0 316.2L700.3 317.4L700.1 322.6L696.4 326.4L691.8 326.0L688.8 322.6L688.4 317.4L687.3 315.1L684.4 312.3L682.7 311.2L681.7 312.3L678.1 317.4L678.1 317.5L673.5 321.6L668.9 322.0L668.3 322.6L667.9 327.7L668.9 331.5L669.6 332.8L672.4 338.0L673.5 338.8L675.5 343.1L678.1 347.6L678.4 348.3L678.1 351.5L677.7 353.4L673.5 357.1L668.9 355.7L667.6 353.4L664.3 348.9L663.2 348.3L661.6 343.1L661.0 338.0L659.7 337.5L655.1 337.7L650.5 337.7L650.2 338.0L650.1 343.1L650.0 348.3L650.3 353.4L650.5 353.7L653.9 358.5L654.0 363.7L654.4 368.8L655.1 369.6ZM333.3 364.5L337.9 367.0L342.5 364.5L343.2 363.7L343.4 358.5L342.5 354.8L341.6 353.4L342.5 352.6L346.6 348.3L346.6 343.1L347.1 339.9L348.7 338.0L348.1 332.8L349.7 327.7L347.1 325.3L344.4 322.6L342.5 320.2L337.9 320.1L333.3 319.5L331.4 317.4L330.4 312.3L333.3 309.0L337.9 308.3L342.5 307.8L347.1 307.8L351.7 310.7L354.3 312.3L356.2 313.6L360.8 314.5L365.4 314.3L365.8 312.3L365.5 307.1L365.4 307.0L360.8 302.9L360.3 302.0L356.4 296.9L357.4 291.7L356.2 291.3L353.1 286.6L351.7 286.0L348.2 281.4L347.1 280.0L344.4 276.3L344.1 271.2L342.5 269.3L337.9 268.0L335.2 266.0L333.3 264.8L329.1 260.9L328.7 260.4L324.4 255.8L324.1 255.4L321.7 255.8L320.4 260.9L319.5 261.6L318.1 260.9L314.9 256.7L312.0 260.9L310.3 262.2L306.6 266.0L305.7 267.2L301.1 267.3L300.3 271.2L296.5 275.1L295.9 276.3L296.4 281.4L291.9 284.9L291.4 286.6L291.4 291.7L291.5 296.9L291.9 297.3L295.7 302.0L295.4 307.1L296.5 308.7L300.1 312.3L300.7 317.4L301.1 317.9L305.5 322.6L305.7 322.8L310.2 322.6L310.3 322.5L314.9 320.8L319.5 321.1L320.2 322.6L321.4 327.7L322.4 332.8L321.5 338.0L322.4 343.1L322.3 348.3L321.9 353.4L322.8 358.5L324.1 360.2L328.7 361.8L331.7 363.7L333.3 364.5ZM471.2 354.1L472.2 353.4L475.5 348.3L475.6 343.1L471.2 338.5L470.0 338.0L468.1 332.8L471.2 330.8L475.8 329.2L480.4 331.9L482.2 332.8L485.0 333.4L489.6 334.3L494.1 338.0L494.2 338.0L494.2 338.0L496.7 332.8L495.1 327.7L498.8 325.8L503.4 325.4L508.0 323.5L509.2 322.6L512.6 319.2L513.3 317.4L513.1 312.3L512.6 311.3L508.0 309.3L503.4 307.6L502.4 307.1L501.7 302.0L503.4 298.0L504.3 296.9L505.1 291.7L503.4 290.7L498.8 287.8L498.2 286.6L495.7 281.4L495.6 276.3L494.2 273.4L493.1 271.2L492.3 266.0L490.4 260.9L489.6 259.1L485.0 258.3L481.7 260.9L480.4 263.9L479.2 266.0L475.8 266.9L472.0 266.0L471.2 265.0L466.6 264.2L466.0 266.0L462.0 268.2L460.5 271.2L458.6 276.3L457.4 278.7L456.9 281.4L457.1 286.6L457.4 286.9L461.6 291.7L462.0 293.1L466.6 295.9L470.0 296.9L471.2 297.8L475.1 302.0L475.8 304.9L476.9 307.1L476.8 312.3L475.8 313.7L472.4 317.4L471.2 318.5L468.9 317.4L466.6 315.5L466.2 317.4L462.0 321.6L461.6 322.6L462.0 325.9L463.4 327.7L466.4 332.8L466.2 338.0L466.3 343.1L466.6 344.1L469.1 348.3L471.0 353.4L471.2 354.1ZM696.4 302.9L701.0 302.8L702.3 302.0L705.6 298.2L706.4 296.9L705.6 296.0L702.1 291.7L701.0 290.7L696.4 290.2L693.2 291.7L695.3 296.9L695.7 302.0L696.4 302.9ZM645.9 287.1L650.5 287.2L650.8 286.6L652.5 281.4L654.9 276.3L655.1 275.1L655.2 271.2L655.1 270.5L650.5 270.7L650.1 271.2L645.9 275.3L644.5 276.3L641.3 280.4L640.7 281.4L641.3 282.5L645.1 286.6L645.9 287.1ZM517.2 271.9L521.8 272.3L522.3 271.2L526.3 266.7L526.7 266.0L527.3 260.9L530.9 256.6L531.3 255.8L530.9 255.3L526.3 255.4L521.8 255.2L517.6 250.6L517.2 249.6L513.4 245.5L512.6 245.0L508.7 240.3L508.4 235.2L508.0 234.5L503.4 231.4L498.8 231.1L494.3 230.0L494.2 230.0L489.6 228.5L485.7 224.9L485.0 223.2L480.4 221.9L475.8 220.8L471.2 224.6L466.6 222.1L463.4 219.8L462.0 217.9L457.4 215.3L456.8 214.6L452.8 213.1L451.1 209.5L449.9 204.3L448.2 203.7L443.6 201.4L439.0 201.9L435.3 204.3L434.4 205.6L431.1 209.5L429.8 210.9L425.2 214.2L424.8 214.6L420.6 219.5L420.5 219.8L419.2 224.9L416.0 226.4L411.4 227.7L410.8 230.0L410.7 235.2L411.1 240.3L411.4 244.7L413.8 245.5L416.0 246.0L420.6 245.7L420.8 245.5L425.2 241.8L427.2 240.3L428.5 235.2L429.8 234.1L434.4 233.4L438.8 230.0L439.0 229.8L439.4 230.0L442.1 235.2L443.6 238.8L446.1 240.3L448.2 242.3L452.8 244.0L457.4 244.8L461.5 240.3L462.0 239.8L466.0 235.2L466.6 234.7L467.1 235.2L468.4 240.3L471.2 243.9L475.8 243.9L478.8 245.5L480.4 246.9L485.0 248.6L489.6 250.2L494.2 249.0L498.8 249.4L501.3 250.6L503.4 251.4L507.3 255.8L508.0 257.2L511.2 260.9L510.9 266.0L512.6 269.0L513.8 271.2L517.2 271.9ZM632.1 251.9L636.7 251.3L637.3 250.6L637.4 245.5L636.7 242.9L632.1 240.4L629.3 245.5L631.4 250.6L632.1 251.9ZM521.8 245.9L526.3 245.9L526.7 245.5L530.9 241.4L532.2 240.3L535.5 235.7L536.5 235.2L536.0 230.1L535.9 224.9L535.5 224.6L530.9 223.8L527.1 219.8L526.3 218.8L521.8 218.4L520.2 219.8L517.2 223.3L515.2 224.9L516.4 230.0L516.8 235.2L517.2 236.1L521.1 240.3L520.9 245.5L521.8 245.9ZM613.7 235.6L618.3 236.0L622.9 236.9L627.5 235.3L628.5 235.2L629.6 230.0L628.3 224.9L627.6 219.8L627.5 219.7L622.9 217.8L618.3 215.4L617.1 214.6L613.7 212.5L612.5 214.6L612.4 219.8L613.7 223.6L614.2 224.9L613.7 226.9L613.4 230.0L613.4 235.2L613.7 235.6ZM553.9 210.1L555.0 209.5L558.5 205.9L559.7 204.3L561.9 199.2L563.1 197.8L565.5 194.1L564.1 188.9L563.1 188.0L559.5 183.8L558.5 182.8L553.9 182.8L549.3 183.7L548.5 183.8L544.7 185.3L542.5 188.9L542.3 194.1L544.1 199.2L544.7 201.1L549.3 200.5L552.2 204.3L552.1 209.5L553.9 210.1ZM245.9 208.4L250.5 205.9L253.4 204.3L254.9 199.2L253.0 194.1L250.5 189.0L245.9 190.6L241.8 194.1L241.3 196.9L239.2 199.2L241.3 200.5L243.0 204.3L245.9 208.4ZM517.2 206.2L518.8 204.3L520.2 199.2L517.2 196.6L512.6 197.9L511.0 199.2L512.6 203.5L513.3 204.3L517.2 206.2ZM636.7 169.7L641.3 168.9L642.2 168.4L645.9 165.0L649.0 163.2L645.9 160.5L641.3 159.4L637.7 158.1L636.7 157.4L634.0 152.9L635.4 147.8L636.7 145.9L639.9 142.7L641.3 141.1L645.9 139.8L650.5 137.8L650.6 137.5L655.1 132.6L655.4 132.4L659.6 127.2L659.7 127.2L664.3 126.4L666.8 127.2L668.9 128.2L672.6 127.2L673.5 127.1L678.1 126.2L682.7 126.9L687.3 126.3L691.2 122.1L691.8 121.4L696.4 118.1L701.0 118.5L702.7 117.0L705.6 115.7L710.2 116.9L714.8 114.3L716.8 111.8L719.4 107.8L721.4 106.7L724.0 102.0L724.2 101.6L724.0 101.5L719.4 101.2L714.8 100.7L710.2 98.6L705.7 96.4L705.6 96.4L705.5 96.4L701.0 97.5L696.4 99.2L691.8 100.9L687.3 100.1L682.7 100.2L678.1 100.2L674.9 96.4L673.5 94.9L668.9 94.6L664.3 94.7L659.7 94.7L655.1 94.6L650.5 94.3L645.9 92.9L644.1 91.3L644.1 86.1L641.3 85.2L637.6 86.1L636.7 87.3L634.2 91.3L632.2 96.4L632.1 96.6L629.9 101.6L627.5 106.4L626.0 106.7L622.9 107.3L618.3 108.0L613.7 109.3L609.1 108.3L607.7 106.7L604.5 103.1L603.1 101.6L599.9 97.4L599.0 96.4L595.3 95.7L590.7 95.7L589.2 96.4L586.1 99.0L581.5 98.7L578.6 101.6L577.5 106.7L577.3 111.8L578.8 117.0L581.4 122.1L581.5 122.5L582.0 127.2L586.0 132.4L586.1 132.8L590.7 136.6L594.2 137.5L595.3 138.3L599.5 142.7L597.7 147.8L595.3 150.6L593.3 152.9L594.3 158.1L595.3 158.5L599.9 161.4L604.5 162.6L606.4 163.2L609.1 163.7L613.7 163.6L614.3 163.2L618.3 158.8L622.9 161.9L624.0 163.2L627.5 164.5L632.1 166.4L634.4 168.4L636.7 169.7ZM549.3 166.0L553.9 167.2L558.5 166.6L563.1 165.8L567.7 164.9L572.3 163.7L573.0 163.2L576.9 158.3L577.3 158.1L576.9 155.3L576.6 152.9L572.3 150.9L567.7 148.0L566.7 147.8L563.1 146.7L558.5 146.4L553.9 145.8L549.3 145.9L544.7 146.5L540.1 146.5L537.0 147.8L535.5 149.6L533.8 152.9L535.5 155.7L538.5 158.1L540.1 160.6L544.7 161.2L545.9 163.2L549.3 166.0ZM650.5 160.3L655.1 158.4L655.2 158.1L655.1 157.8L650.5 155.3L649.2 158.1L650.5 160.3ZM255.1 153.7L255.9 152.9L259.7 151.2L264.3 150.3L268.9 149.1L273.5 148.3L278.0 153.0L278.1 153.0L282.7 153.4L287.3 157.4L291.9 157.2L296.4 152.9L291.9 152.5L287.4 147.8L287.3 147.5L283.5 147.8L282.7 149.9L281.8 147.8L282.7 147.5L283.4 142.7L282.7 142.4L278.1 142.6L273.7 137.5L273.5 137.4L268.9 137.0L265.5 132.4L264.6 127.2L264.5 122.1L264.3 120.8L260.0 117.0L259.7 116.7L255.1 111.8L250.5 112.5L245.9 112.3L244.6 111.8L241.3 111.5L236.7 109.5L232.1 109.7L229.5 111.8L227.5 113.4L222.9 113.9L218.3 112.5L217.4 111.8L213.7 109.6L211.3 106.7L209.1 104.9L206.1 101.6L204.5 100.3L199.9 101.2L199.5 101.6L195.3 104.6L190.7 105.5L186.6 106.7L186.2 107.4L184.7 106.7L181.6 106.3L177.0 105.5L172.4 104.2L168.3 101.6L167.8 101.4L165.1 101.6L163.2 102.1L158.6 103.1L155.7 101.6L154.0 101.3L149.4 100.2L144.8 100.0L143.1 101.6L140.2 104.9L138.5 106.7L135.6 110.2L134.5 111.8L135.6 113.1L140.2 114.8L142.2 117.0L140.2 119.2L135.6 121.4L134.9 122.1L135.6 122.8L139.9 127.2L140.2 127.6L144.8 128.3L148.7 132.4L149.4 133.1L150.9 132.4L154.0 128.9L155.1 127.2L158.6 123.3L163.2 125.2L167.8 122.9L172.4 122.2L172.8 122.1L177.0 121.0L181.6 121.3L186.2 121.5L190.7 121.7L191.7 122.1L195.3 125.5L197.4 127.2L198.0 132.4L199.9 135.0L204.5 134.0L209.1 133.6L213.2 137.5L213.7 137.8L215.2 137.5L218.3 137.0L220.9 137.5L222.9 137.7L225.9 137.5L227.5 137.4L227.8 137.5L232.1 138.9L236.7 141.4L239.8 142.7L241.3 145.2L245.9 147.2L246.6 147.8L250.5 152.2L253.0 152.9L255.1 153.7ZM296.5 152.9L301.1 152.8L305.7 152.0L310.3 150.6L314.9 149.4L317.6 147.8L319.1 142.7L317.6 137.5L318.0 132.4L314.9 132.0L310.3 129.9L308.1 127.2L305.7 126.1L301.1 125.4L298.7 127.2L298.2 132.4L299.2 137.5L296.5 141.2L295.5 142.7L295.9 147.8L296.5 152.9ZM733.2 132.9L733.6 132.4L733.2 132.4L733.2 132.4L733.2 132.9ZM756.2 110.7L760.8 111.1L764.3 106.7L760.8 105.9L756.2 106.2L753.6 106.7L756.2 110.7Z" fill="#a8d154" fill-rule="evenodd"/>
<path d="M305.7 405.2L306.4 404.8L305.7 403.4L305.4 404.8L305.7 405.2ZM655.1 369.0L655.7 368.8L659.7 365.6L664.3 364.1L667.5 363.7L668.6 358.5L665.8 353.4L664.3 351.3L659.7 348.7L658.0 348.3L655.1 346.8L650.5 347.6L650.5 348.3L650.5 348.6L654.0 353.4L654.6 358.5L654.6 363.7L654.9 368.8L655.1 369.0ZM337.9 365.5L342.5 364.0L342.7 363.7L342.6 358.5L342.5 358.1L339.8 353.4L342.5 350.7L344.8 348.3L344.6 343.1L344.5 338.0L344.7 332.8L347.1 328.6L347.4 327.7L347.1 327.4L342.5 322.7L341.9 322.6L337.9 322.3L333.3 321.2L329.7 317.4L328.7 313.7L327.9 312.3L328.7 311.7L332.7 307.1L333.3 306.5L337.9 305.9L342.5 303.4L343.8 302.0L347.1 298.7L349.0 296.9L348.9 291.7L351.7 287.0L351.8 286.6L351.7 286.5L347.8 281.4L347.1 280.6L344.0 276.3L343.8 271.2L342.5 269.7L337.9 268.6L334.5 266.0L333.3 265.3L328.7 261.1L328.1 260.9L324.1 257.3L322.5 260.9L319.5 263.1L315.0 260.9L314.9 260.7L314.8 260.9L310.3 264.1L308.5 266.0L305.7 269.7L302.0 271.2L301.1 272.0L296.5 276.1L296.4 276.3L296.5 277.4L300.8 281.4L296.5 284.3L292.1 286.6L292.1 291.7L296.5 293.4L297.4 296.9L296.5 298.4L296.1 302.0L295.8 307.1L296.5 308.1L300.7 312.3L301.1 316.5L304.6 312.3L305.7 311.8L306.3 312.3L310.3 316.7L314.9 317.0L317.2 317.4L319.5 317.9L321.8 322.6L324.1 327.3L324.4 327.7L325.1 332.8L326.3 338.0L325.3 343.1L324.6 348.3L324.1 350.1L323.7 353.4L324.1 354.7L325.8 358.5L328.7 360.2L333.3 362.6L334.4 363.7L337.9 365.5ZM687.3 364.2L691.8 364.1L692.9 363.7L696.4 362.0L701.0 361.6L705.6 360.2L710.2 359.9L711.9 358.5L714.8 354.6L717.7 353.4L718.1 348.3L715.5 343.1L714.8 340.8L712.9 338.0L710.9 332.8L710.2 332.1L706.1 327.7L705.6 324.6L704.0 322.6L701.4 317.4L701.0 316.9L700.7 317.4L700.6 322.6L696.4 326.9L691.8 326.5L688.3 322.6L688.0 317.4L687.3 315.9L683.6 312.3L682.7 311.7L682.1 312.3L679.7 317.4L678.1 319.8L673.5 322.2L668.9 322.5L668.8 322.6L668.9 325.9L669.2 327.7L671.7 332.8L673.5 335.5L674.8 338.0L677.3 343.1L678.1 344.5L679.7 348.3L679.2 353.4L678.1 357.7L676.7 358.5L678.1 358.7L682.7 359.5L686.5 363.7L687.3 364.2ZM471.2 351.8L473.7 348.3L473.7 343.1L471.2 340.5L467.4 343.1L470.0 348.3L471.2 351.8ZM466.6 328.3L468.0 327.7L471.2 324.1L475.8 323.6L480.4 325.7L484.6 322.6L485.0 322.0L487.3 317.4L485.0 312.6L484.0 312.3L480.4 311.4L479.9 312.3L476.5 317.4L475.8 320.2L471.2 322.3L466.6 321.6L464.1 322.6L466.3 327.7L466.6 328.3ZM508.0 322.7L508.1 322.6L512.6 318.1L512.8 317.4L512.7 312.3L512.6 312.1L508.0 310.9L503.4 310.9L498.8 310.9L496.6 312.3L496.5 317.4L498.8 321.1L503.4 320.3L506.3 322.6L508.0 322.7ZM356.2 308.1L357.7 307.1L356.2 303.7L354.4 307.1L356.2 308.1ZM494.2 302.1L494.3 302.0L498.8 299.4L499.5 296.9L498.8 294.5L497.5 291.7L495.6 286.6L494.2 283.8L492.4 281.4L492.6 276.3L491.1 271.2L489.6 267.8L485.0 267.3L480.4 267.9L475.8 268.6L471.2 268.1L466.6 267.8L462.0 270.4L461.6 271.2L459.8 276.3L457.4 281.2L457.3 281.4L457.4 282.3L462.0 285.3L463.2 286.6L462.8 291.7L466.6 293.4L471.2 295.0L475.8 296.3L480.4 296.2L482.1 296.9L485.0 299.9L489.6 300.3L494.1 302.0L494.2 302.1ZM696.4 302.4L701.0 302.3L701.4 302.0L705.6 297.2L705.9 296.9L705.6 296.6L701.6 291.7L701.0 291.2L696.4 290.7L694.3 291.7L695.7 296.9L696.1 302.0L696.4 302.4ZM641.3 281.7L645.9 286.5L650.5 285.8L651.8 281.4L653.3 276.3L650.5 271.6L645.9 275.8L645.2 276.3L641.3 281.2L641.1 281.4L641.3 281.7ZM517.2 264.3L521.8 264.9L525.9 260.9L522.7 255.8L521.8 255.7L517.2 250.8L514.3 255.8L514.5 260.9L517.2 264.3ZM636.7 250.8L636.8 250.6L637.0 245.5L636.7 244.5L632.1 243.2L630.8 245.5L632.1 250.4L632.5 250.6L636.7 250.8ZM485.0 245.5L489.6 248.4L494.2 247.3L498.8 247.4L503.4 248.8L508.0 246.9L511.6 245.5L508.2 240.3L508.0 236.4L506.3 235.2L503.4 234.3L498.8 232.9L494.2 232.0L489.6 231.6L485.0 230.4L484.6 230.0L480.4 226.8L478.1 224.9L475.8 223.6L474.3 224.9L471.2 227.7L466.6 226.3L462.4 224.9L462.0 224.6L457.4 222.1L452.8 220.8L448.7 224.9L448.2 226.2L444.7 230.0L444.2 235.2L448.2 236.3L450.8 240.3L452.8 241.6L457.4 242.4L459.3 240.3L462.0 237.5L464.0 235.2L466.6 232.9L469.2 235.2L470.1 240.3L471.2 241.8L475.8 242.3L480.2 240.3L480.4 240.0L480.6 240.3L485.0 245.5L485.0 245.5ZM526.3 243.5L530.9 240.9L531.6 240.3L534.7 235.2L534.4 230.0L530.9 225.7L529.8 224.9L526.3 221.5L521.8 221.4L518.7 224.9L517.2 229.1L517.1 230.0L517.2 231.9L521.8 234.1L522.3 235.2L523.8 240.3L526.3 243.5ZM411.4 237.8L416.0 238.4L420.6 237.1L425.2 236.5L425.7 235.2L429.8 231.7L434.4 231.7L436.5 230.0L439.0 227.0L443.1 224.9L443.6 223.3L445.3 219.8L446.6 214.6L448.2 210.1L448.3 209.5L448.2 209.2L446.3 204.3L443.6 203.0L439.0 204.2L438.8 204.3L435.3 209.5L434.4 210.4L430.5 214.6L429.8 216.3L427.6 219.8L425.6 224.9L425.2 226.9L420.6 227.9L416.0 228.3L411.4 229.5L411.3 230.0L411.2 235.2L411.4 237.8ZM618.3 232.8L621.0 230.0L622.8 224.9L621.6 219.8L618.3 217.7L613.7 216.6L613.6 219.8L613.7 219.9L615.6 224.9L615.9 230.0L618.3 232.8ZM245.9 202.7L250.5 202.2L252.7 199.2L251.6 194.1L250.5 191.9L245.9 193.2L244.8 194.1L243.7 199.2L245.9 202.7ZM517.2 200.2L517.3 199.2L517.2 199.1L516.5 199.2L517.2 200.2ZM553.9 201.4L558.5 201.7L559.9 199.2L563.1 195.6L564.1 194.1L563.1 191.3L558.5 189.4L553.9 189.1L552.7 188.9L549.3 188.0L547.9 188.9L546.6 194.1L549.3 196.2L552.2 199.2L553.9 201.4ZM549.3 164.3L553.9 165.9L558.5 165.7L563.1 165.0L567.7 163.4L568.3 163.2L572.3 159.4L573.2 158.1L572.3 154.9L570.2 152.9L567.7 152.3L563.1 151.7L558.5 149.2L557.1 147.8L553.9 146.7L549.3 146.6L544.7 147.5L540.1 147.6L539.5 147.8L535.5 152.4L535.3 153.0L535.5 153.4L540.1 156.6L544.7 157.5L545.3 158.1L548.0 163.2L549.3 164.3ZM627.5 163.3L632.1 163.3L636.7 166.6L641.3 165.8L643.9 163.2L641.3 161.5L636.7 160.7L632.1 161.7L631.3 158.1L631.2 152.9L632.1 151.8L633.5 147.8L636.7 142.9L636.9 142.7L641.3 137.6L641.5 137.5L644.3 132.4L645.7 127.2L645.9 126.9L650.5 125.7L652.1 127.2L655.1 130.1L657.5 127.2L659.7 125.3L664.3 124.9L668.9 126.3L673.5 125.4L678.1 124.1L682.7 124.3L687.3 123.3L688.3 122.1L691.8 118.3L693.4 117.0L695.0 111.8L696.4 110.7L701.0 111.2L702.9 111.8L705.6 112.9L710.2 114.8L714.8 112.7L715.5 111.8L718.0 106.7L716.0 101.6L714.8 101.4L710.2 100.0L705.6 98.3L701.0 98.9L696.4 100.4L691.8 101.4L687.3 100.7L682.7 100.7L678.1 100.6L674.5 96.4L673.5 95.3L668.9 95.1L664.3 95.1L659.7 95.1L655.1 95.0L650.5 94.8L645.9 93.8L643.1 91.3L642.5 86.1L641.3 85.7L639.7 86.1L636.7 90.0L635.9 91.3L633.8 96.4L632.1 100.2L631.5 101.6L630.0 106.7L627.5 110.7L622.9 110.1L618.3 110.4L615.4 111.8L613.7 113.3L609.1 112.3L608.7 111.8L604.5 106.9L604.3 106.7L599.9 101.9L599.5 101.6L595.3 96.9L593.5 96.4L590.7 96.3L590.5 96.4L586.1 100.1L581.5 100.4L580.3 101.6L579.0 106.7L578.8 111.8L580.4 117.0L581.5 119.0L583.4 122.1L584.4 127.2L586.1 129.4L588.9 132.4L590.7 134.0L595.3 135.7L597.9 137.5L599.9 139.7L602.7 142.7L602.8 147.8L599.9 149.6L597.0 152.9L597.5 158.1L599.9 159.6L604.5 160.0L607.5 158.1L609.1 153.5L610.1 152.9L609.1 150.9L608.2 147.8L609.1 147.4L613.7 143.3L618.3 146.6L618.6 147.8L618.6 152.9L622.9 158.1L623.0 158.1L627.4 163.2L627.5 163.3ZM250.5 150.0L255.1 151.6L259.7 150.1L264.3 148.9L267.0 147.8L267.2 142.7L265.5 137.5L264.8 132.4L264.3 129.3L261.8 127.2L259.7 123.3L259.1 122.1L257.4 117.0L255.1 114.5L250.5 114.8L245.9 114.5L241.3 112.9L239.7 111.8L236.7 110.7L232.1 111.0L231.1 111.8L227.5 114.7L222.9 114.9L218.3 113.7L215.7 111.8L213.7 110.6L210.5 106.7L209.1 105.6L205.5 101.6L204.5 100.8L200.9 101.6L199.9 102.2L195.3 105.3L190.7 106.0L188.3 106.7L186.2 109.7L181.6 107.9L179.7 106.7L177.0 106.3L172.4 105.4L167.8 104.1L163.2 105.2L158.6 105.5L154.0 103.7L152.9 101.6L149.4 100.7L144.8 100.4L143.6 101.6L140.2 105.4L138.9 106.7L135.6 110.8L134.9 111.8L135.6 112.6L140.2 113.8L143.0 117.0L140.2 120.2L135.6 121.9L135.4 122.1L135.6 122.3L140.2 126.3L141.4 127.2L144.8 127.8L149.2 132.4L149.4 132.6L149.9 132.4L154.0 127.8L154.3 127.2L158.6 122.4L163.2 123.7L167.8 122.5L169.8 122.1L172.4 119.6L177.0 119.1L181.6 118.8L186.2 119.0L190.7 119.9L195.3 122.1L195.4 122.1L199.9 125.8L204.5 126.7L206.5 127.2L209.1 128.8L213.7 130.5L216.6 132.4L218.3 133.9L222.9 136.5L227.5 136.4L230.8 137.5L232.1 137.9L236.7 140.5L241.3 142.2L242.0 142.7L245.9 145.6L248.6 147.8L250.5 150.0ZM301.1 148.6L305.7 148.7L310.3 149.1L314.9 148.1L315.3 147.8L316.9 142.7L315.6 137.5L314.9 134.7L313.8 132.4L310.3 131.1L307.1 127.2L305.7 126.6L301.1 126.1L299.5 127.2L298.9 132.4L299.7 137.5L296.5 142.0L296.0 142.7L296.5 147.5L297.5 147.8L301.1 148.6ZM760.8 106.8L760.9 106.7L760.8 106.7L759.7 106.7L760.8 106.8Z" fill="#c9dc62" fill-rule="evenodd"/>
<path d="M337.9 364.0L339.6 363.7L339.7 358.5L337.9 353.4L342.5 348.8L343.0 348.3L342.6 343.1L342.5 342.2L341.6 338.0L341.2 332.8L342.5 327.7L337.9 325.6L333.3 323.3L331.9 322.6L328.7 319.5L324.7 317.4L324.8 312.3L328.7 309.3L330.6 307.1L333.3 304.2L337.9 303.8L340.4 302.0L342.5 298.1L343.7 296.9L343.4 291.7L347.1 289.5L348.7 286.6L347.4 281.4L347.1 281.1L343.7 276.3L343.4 271.2L342.5 270.1L337.9 269.1L333.7 266.0L333.3 265.7L328.7 262.8L324.1 261.3L319.5 264.6L314.9 263.4L310.4 266.0L310.3 266.2L307.0 271.2L306.4 276.3L305.7 277.0L302.7 281.4L301.5 286.6L301.1 288.7L299.4 291.7L300.1 296.9L297.4 302.0L296.5 303.5L296.3 307.1L296.5 307.5L301.1 310.6L305.7 309.0L310.1 312.3L310.3 312.5L314.9 314.4L319.5 314.1L323.8 317.4L323.5 322.6L324.1 323.8L327.1 327.7L327.6 332.8L328.7 335.0L330.3 338.0L329.1 343.1L328.7 347.6L328.6 348.3L326.7 353.4L328.5 358.5L328.7 358.7L333.3 359.7L337.2 363.7L337.9 364.0ZM659.7 364.3L662.9 363.7L664.3 362.7L666.3 358.5L664.3 354.1L659.7 354.5L656.1 358.5L655.9 363.7L659.7 364.3ZM687.3 362.5L691.8 360.7L696.4 359.8L701.0 358.8L705.4 358.5L705.6 358.5L710.2 357.7L713.6 353.4L713.2 348.3L714.8 345.4L715.1 343.1L714.8 342.2L711.9 338.0L710.5 332.8L710.2 332.6L705.6 327.7L705.6 327.6L701.3 322.6L701.0 321.0L701.0 322.6L696.4 327.3L691.8 327.1L687.8 322.6L687.6 317.4L687.3 316.7L682.9 312.3L682.7 312.2L682.5 312.3L681.3 317.4L678.1 322.0L675.5 322.6L675.5 327.7L675.2 332.8L676.5 338.0L678.1 341.1L679.5 343.1L681.0 348.3L680.6 353.4L682.7 358.1L683.2 358.5L687.3 362.5ZM471.2 349.3L471.9 348.3L471.8 343.1L471.2 342.4L470.2 343.1L470.8 348.3L471.2 349.3ZM480.4 321.1L481.9 317.4L480.4 316.5L479.8 317.4L480.4 321.1ZM696.4 300.6L700.9 296.9L701.0 295.0L701.1 291.7L701.0 291.7L696.4 291.3L695.5 291.7L696.2 296.9L696.4 300.6ZM471.2 292.9L475.8 293.1L480.4 294.1L485.0 296.0L489.6 295.8L493.0 291.7L493.4 286.6L489.6 281.9L489.1 281.4L487.9 276.3L485.0 271.6L484.6 271.2L480.4 270.0L475.8 270.4L471.2 270.5L466.6 269.9L464.4 271.2L462.0 273.4L461.0 276.3L462.0 281.0L462.3 281.4L466.6 286.3L467.1 286.6L468.3 291.7L471.2 292.9ZM645.9 283.9L650.5 283.4L651.1 281.4L651.8 276.3L650.5 274.2L645.9 276.3L645.8 276.3L643.2 281.4L645.9 283.9ZM489.6 246.6L494.2 245.6L497.1 245.5L498.8 245.2L503.4 241.5L503.5 240.3L503.4 240.2L499.7 235.2L498.8 234.8L494.2 234.0L489.6 233.8L485.1 235.2L485.0 235.7L484.6 240.3L485.0 240.8L487.8 245.5L489.6 246.6ZM475.8 240.8L476.8 240.3L480.4 235.2L475.8 230.3L471.8 235.2L473.6 240.3L475.8 240.8ZM530.9 240.4L531.0 240.3L532.8 235.2L532.4 230.0L530.9 228.2L526.3 225.0L522.3 230.0L524.5 235.2L526.3 238.1L530.2 240.3L530.9 240.4ZM452.8 235.8L457.4 235.9L459.1 235.2L462.0 235.0L466.6 231.1L470.0 230.0L466.6 228.7L462.0 227.2L457.4 225.3L455.3 224.9L452.8 224.6L452.5 224.9L450.0 230.0L452.4 235.2L452.8 235.8ZM429.8 227.6L434.4 229.4L437.3 224.9L434.9 219.8L434.4 219.7L434.4 219.8L429.8 223.3L428.9 224.9L429.8 227.6ZM618.3 228.2L620.5 224.9L618.3 220.4L617.0 224.9L618.3 228.2ZM553.9 197.8L558.5 198.2L562.2 194.1L558.5 191.4L553.9 191.2L550.5 194.1L553.9 197.8ZM553.9 164.7L558.5 164.9L563.1 164.1L565.7 163.2L566.0 158.1L563.1 154.8L560.6 152.9L558.5 151.5L554.5 147.8L553.9 147.6L549.3 147.3L546.9 147.8L544.7 151.7L540.3 152.9L544.7 153.8L549.3 158.1L549.3 158.2L550.5 163.2L553.9 164.7ZM255.1 149.7L259.7 148.9L263.3 147.8L263.3 142.7L262.1 137.5L260.0 132.4L259.7 132.2L256.7 127.2L255.1 124.3L252.4 122.1L250.5 118.8L248.6 117.0L245.9 116.7L241.3 115.1L236.7 112.6L232.1 114.4L227.5 116.0L222.9 115.8L218.3 114.8L214.1 111.8L213.7 111.6L209.7 106.7L209.1 106.3L204.9 101.6L204.5 101.3L203.1 101.6L199.9 103.6L195.3 105.9L190.7 106.4L189.9 106.7L186.5 111.8L187.2 117.0L190.7 118.1L195.3 119.3L199.9 122.0L200.1 122.1L204.5 124.3L209.1 125.3L211.8 127.2L213.7 128.4L218.3 131.2L219.1 132.4L222.9 135.3L227.5 135.4L232.1 136.6L233.1 137.5L236.7 139.5L241.3 140.8L244.2 142.7L245.9 144.0L250.5 147.7L250.7 147.8L255.1 149.7ZM622.9 152.2L627.5 152.4L631.0 147.8L632.1 146.2L633.9 142.7L636.7 139.6L638.5 137.5L640.5 132.4L641.3 131.6L643.7 127.2L645.9 123.5L650.5 123.2L654.8 127.2L655.1 127.5L655.3 127.2L659.7 123.4L664.3 123.4L668.9 124.5L673.5 123.7L678.0 122.1L678.1 122.0L682.7 117.8L686.3 117.0L687.3 116.4L687.8 111.8L691.6 106.7L689.5 101.6L687.3 101.2L682.7 101.1L678.1 101.1L674.1 96.4L673.5 95.7L668.9 95.5L664.3 95.5L659.7 95.5L655.1 95.4L650.5 95.3L645.9 94.7L642.1 91.3L641.3 87.3L638.6 91.3L636.7 93.4L635.5 96.4L633.6 101.6L632.9 106.7L632.1 108.9L630.5 111.8L627.5 115.2L622.9 116.7L618.6 117.0L618.3 117.0L613.7 117.2L612.9 117.0L609.1 116.1L604.7 111.8L604.5 111.6L600.7 106.7L599.9 105.8L595.3 101.9L594.7 101.6L590.7 100.0L586.1 101.1L583.5 101.6L581.5 103.2L580.5 106.7L580.3 111.8L581.5 115.4L583.0 117.0L585.3 122.1L586.1 125.1L587.2 127.2L590.7 130.9L592.5 132.4L595.3 133.7L599.9 136.7L600.7 137.5L604.5 141.6L609.1 142.2L613.7 141.0L618.3 141.9L620.0 142.7L620.8 147.8L622.9 152.2ZM301.1 143.2L305.7 143.9L310.3 142.9L311.0 142.7L310.9 137.5L310.4 132.4L310.3 132.3L306.1 127.2L305.7 127.1L301.1 126.7L300.3 127.2L299.6 132.4L300.3 137.5L298.3 142.7L301.1 143.2ZM144.8 127.4L146.9 127.2L148.4 122.1L149.4 120.3L151.0 117.0L154.0 114.2L158.6 116.0L160.6 117.0L163.0 122.1L163.2 122.1L163.5 122.1L167.8 120.0L171.7 117.0L172.4 116.6L173.6 117.0L177.0 117.2L178.4 117.0L181.6 113.2L183.8 111.8L181.6 111.4L177.0 108.5L173.0 106.7L172.4 106.6L171.2 106.7L167.8 108.7L163.2 109.0L158.6 108.2L154.0 107.6L153.7 106.7L151.0 101.6L149.4 101.1L144.8 100.9L144.0 101.6L140.2 105.9L139.4 106.7L135.6 111.4L135.3 111.8L135.6 112.1L140.2 112.9L143.9 117.0L140.2 121.2L137.4 122.1L140.2 124.1L144.2 127.3L144.8 127.4ZM710.2 112.7L712.4 111.8L714.5 106.7L710.4 101.6L710.2 101.5L705.6 100.3L701.0 100.3L696.7 101.6L696.6 106.7L701.0 108.7L705.6 109.3L708.4 111.8L710.2 112.7Z" fill="#e8eb85" fill-rule="evenodd"/>
<path d="M687.3 358.8L688.0 358.5L691.8 354.0L692.9 353.4L696.4 350.7L701.0 352.7L701.2 353.4L705.6 354.7L710.2 355.3L711.7 353.4L711.2 348.3L713.7 343.1L710.9 338.0L710.2 334.7L705.6 334.3L704.2 332.8L701.0 330.6L696.4 328.9L691.8 327.8L687.3 327.9L682.7 330.1L681.5 332.8L679.0 338.0L682.0 343.1L682.4 348.3L682.0 353.4L682.7 354.9L687.0 358.5L687.3 358.8ZM333.3 351.3L335.7 348.3L337.9 345.1L338.7 343.1L338.8 338.0L337.9 334.3L336.3 332.8L335.5 327.7L333.3 326.5L331.0 327.7L331.7 332.8L333.0 338.0L332.8 343.1L332.0 348.3L333.3 351.3ZM310.3 308.6L314.9 310.5L319.5 309.3L324.1 308.8L327.6 307.1L328.7 305.9L332.6 302.0L333.3 301.5L337.9 300.6L339.4 296.9L339.8 291.7L342.5 289.5L345.7 286.6L346.6 281.4L343.3 276.3L343.1 271.2L342.5 270.4L337.9 269.7L333.3 266.7L331.8 266.0L328.7 264.6L324.1 263.2L319.6 266.0L319.5 266.2L314.9 266.7L310.3 271.2L310.3 271.2L309.1 276.3L305.7 279.7L304.5 281.4L302.6 286.6L302.0 291.7L302.1 296.9L301.5 302.0L305.7 304.7L307.8 307.1L310.3 308.6ZM480.4 292.1L485.0 293.9L489.6 293.2L490.8 291.7L491.4 286.6L489.6 284.3L486.3 281.4L485.0 278.9L483.4 276.3L480.4 272.9L475.8 273.0L471.2 274.5L466.6 273.7L463.3 276.3L465.6 281.4L466.6 282.6L471.2 284.1L474.3 286.6L475.8 287.8L479.4 291.7L480.4 292.1ZM489.6 242.9L493.9 240.3L489.6 237.7L488.2 240.3L489.6 242.9ZM462.0 230.7L463.1 230.0L462.0 229.7L460.1 230.0L462.0 230.7ZM553.9 195.1L558.5 195.2L559.5 194.1L558.5 193.3L553.9 193.3L553.0 194.1L553.9 195.1ZM553.9 163.4L558.5 164.0L563.1 163.3L563.4 163.2L563.8 158.1L563.1 157.4L558.5 154.3L555.2 152.9L553.9 152.1L549.3 150.5L548.2 153.0L549.3 154.0L552.2 158.1L553.5 163.2L553.9 163.4ZM250.5 145.0L255.1 147.6L259.7 147.1L260.4 142.7L259.7 139.2L259.2 137.5L256.7 132.4L255.1 130.2L252.3 127.2L250.5 125.5L245.9 122.1L243.4 122.1L241.3 122.0L236.7 119.4L232.1 118.5L227.5 117.5L225.3 117.0L222.9 116.8L218.3 116.0L213.7 114.5L210.8 111.8L209.1 108.9L208.0 106.7L204.5 102.8L199.9 105.1L195.3 106.6L194.4 106.7L190.7 109.6L189.6 111.8L190.7 114.3L195.3 115.5L197.1 117.0L199.9 117.9L204.5 121.5L206.0 122.1L209.1 122.5L213.7 125.4L215.7 127.2L218.3 128.8L220.6 132.4L222.9 134.2L227.5 134.4L232.1 135.0L234.9 137.5L236.7 138.5L241.3 139.5L245.9 142.0L246.8 142.7L250.5 145.0ZM627.5 143.5L627.7 142.7L632.1 141.1L635.3 137.5L636.7 134.3L637.4 132.4L641.3 128.2L641.8 127.2L643.0 122.1L645.9 118.0L650.5 119.1L655.1 122.1L659.7 119.9L664.3 121.3L665.7 122.1L668.9 122.7L672.8 122.1L673.5 121.6L676.7 117.0L678.0 111.8L678.1 109.5L679.3 106.7L680.7 101.6L678.1 101.5L673.7 96.4L673.5 96.1L668.9 95.9L664.3 95.9L659.7 95.9L655.1 95.9L650.5 95.8L645.9 95.7L641.3 93.3L638.7 96.4L636.7 98.9L636.0 101.6L635.6 106.7L635.2 111.8L632.1 115.9L631.1 117.0L627.5 119.6L623.4 122.1L622.9 122.3L618.3 122.7L614.5 122.1L613.7 121.8L609.1 119.7L604.7 117.0L604.5 116.8L599.9 112.2L599.5 111.8L595.3 108.9L590.7 110.6L586.9 111.8L588.0 117.0L589.3 122.1L590.7 126.6L591.1 127.2L595.3 130.2L597.1 132.4L599.9 134.0L603.3 137.5L604.5 138.9L609.1 139.7L613.7 139.2L618.3 140.6L622.9 142.5L626.7 142.7L627.5 143.5ZM301.1 139.2L305.7 139.1L306.9 137.5L306.8 132.4L305.7 130.7L301.1 127.7L300.4 132.4L300.8 137.5L301.1 139.2ZM144.8 117.2L144.9 117.0L149.4 114.5L152.3 111.8L151.5 106.7L149.4 102.0L148.7 101.6L144.8 101.3L144.5 101.6L140.2 106.4L139.9 106.7L139.1 111.8L140.2 111.9L144.8 117.0L144.8 117.2ZM158.6 112.9L160.7 111.8L158.6 110.9L156.5 111.8L158.6 112.9Z" fill="#f6ef64" fill-rule="evenodd"/>
<path d="M687.3 346.9L691.8 346.2L693.3 343.1L691.8 340.2L687.3 341.5L686.5 343.1L687.3 346.9ZM705.6 345.4L710.2 343.7L710.5 343.1L710.2 342.3L705.6 341.2L703.9 343.1L705.6 345.4ZM319.5 302.7L320.1 302.0L324.1 298.5L326.9 296.9L328.7 295.8L333.3 293.4L335.3 291.7L337.9 290.4L342.5 286.9L342.9 286.6L344.6 281.4L343.0 276.3L342.8 271.2L342.5 270.8L337.9 270.2L333.3 268.5L328.7 267.3L327.3 266.0L324.1 265.1L322.6 266.0L319.5 271.0L319.3 271.2L314.9 276.3L314.9 276.3L310.8 281.4L310.3 283.9L305.7 282.3L303.7 286.6L303.8 291.7L303.8 296.9L305.7 300.1L310.3 301.5L314.9 301.9L315.5 302.0L319.5 302.7ZM485.0 291.7L488.1 286.6L485.0 285.3L482.5 286.6L485.0 291.7ZM558.5 162.0L559.4 158.1L558.5 157.5L557.1 158.1L558.5 162.0ZM236.7 137.6L241.3 138.1L245.9 138.7L250.5 140.1L252.6 137.5L252.3 132.4L250.5 130.6L245.9 128.3L243.8 127.2L241.3 126.7L236.7 125.1L234.1 122.1L232.1 120.9L227.5 119.9L222.9 120.3L218.4 122.1L219.5 127.2L222.2 132.4L222.9 133.0L227.5 133.4L232.1 133.4L236.6 137.5L236.7 137.6ZM618.3 139.2L622.9 139.8L627.4 137.5L627.5 137.2L632.1 135.1L632.9 132.4L632.9 127.2L632.1 125.8L627.5 125.6L622.9 124.7L618.3 124.5L613.7 125.3L609.1 125.6L606.9 127.2L604.5 131.6L604.2 132.4L604.5 132.6L609.1 135.5L613.7 137.4L613.8 137.5L618.3 139.2ZM645.9 112.8L650.5 114.3L655.1 113.1L658.1 111.8L659.7 110.2L664.3 109.6L668.3 106.7L668.9 106.0L670.5 101.6L669.9 96.4L668.9 96.4L664.3 96.3L659.7 96.3L655.1 96.3L650.5 96.3L647.8 96.4L646.8 101.6L645.9 104.1L644.9 106.7L644.3 111.8L645.9 112.8ZM144.8 109.0L148.6 106.7L144.8 105.3L143.6 106.7L144.8 109.0ZM199.9 110.5L204.5 110.2L204.9 106.7L204.5 106.2L199.9 106.5L199.4 106.7L199.9 110.5Z" fill="#f9e644" fill-rule="evenodd"/>
<path d="M305.7 297.3L310.3 298.0L312.4 296.9L312.7 291.7L310.3 290.5L307.9 286.6L305.7 284.8L304.9 286.6L305.6 291.7L305.4 296.9L305.7 297.3ZM314.9 287.0L319.5 287.2L324.1 286.6L324.1 286.6L328.7 285.8L333.3 282.5L337.0 286.6L337.9 286.8L338.1 286.6L342.5 281.9L342.6 281.4L342.6 276.3L342.5 272.4L341.8 271.2L337.9 270.7L333.3 270.3L330.7 271.2L328.7 273.1L324.8 276.3L324.1 278.7L319.5 277.2L314.9 279.2L313.1 281.4L314.7 286.6L314.9 287.0ZM618.3 137.9L621.5 137.5L622.9 136.9L625.4 132.4L623.2 127.2L622.9 127.1L618.3 126.3L615.8 127.2L614.3 132.4L617.3 137.5L618.3 137.9ZM227.5 132.4L228.0 132.4L232.1 128.2L232.7 127.2L232.1 126.6L227.5 123.0L223.5 127.2L227.2 132.4L227.5 132.4Z" fill="#fcc442" fill-rule="evenodd"/>
<path d="M618.3 133.4L621.0 132.4L618.3 131.0L617.7 132.4L618.3 133.4Z" fill="#faa63e" fill-rule="evenodd"/>
<path d="M130.1 112.9L132.8 111.3L137.4 110.5L138.3 108.0L133.7 105.4L139.3 102.8L146.6 99.5L151.2 98.2L159.5 99.5L166.8 100.5L174.2 101.6L179.7 102.3L187.1 104.1L192.6 102.6L199.9 101.0L203.6 100.3L209.1 101.6L212.8 103.1L220.2 103.3L227.5 104.6L229.4 106.2L236.7 106.9L240.4 108.0L241.3 109.8L245.9 106.7L251.4 107.2L257.9 107.2L260.6 105.4L262.5 108.5L263.4 105.4L261.5 102.1L262.5 98.5L265.2 96.4L268.9 100.3L270.7 102.8L273.5 105.1L277.2 104.6L279.9 108.0L281.8 102.6L287.3 102.3L289.5 105.4L288.2 109.3L285.5 111.1L280.9 111.3L280.9 115.7L277.2 117.0L272.6 118.3L268.9 121.3L266.1 124.7L264.9 128.5L268.0 130.6L268.9 134.4L273.5 135.0L278.1 137.5L282.7 139.3L287.7 139.8L287.8 145.2L289.7 147.8L291.3 149.9L293.7 149.1L294.3 145.2L293.4 141.4L297.8 137.5L297.4 132.9L294.6 130.3L296.5 126.7L295.6 121.3L300.2 121.6L304.8 122.6L308.4 124.7L310.8 126.5L311.2 130.1L314.0 131.4L317.6 130.3L319.5 126.7L321.3 129.0L324.1 132.4L325.9 136.0L328.7 139.1L332.3 140.6L333.6 142.7L336.0 145.2L336.4 147.8L334.2 149.4L330.5 152.2L325.9 152.7L321.3 152.2L316.7 152.4L313.0 155.5L309.4 159.9L312.1 158.1L316.7 155.3L320.4 155.5L320.4 158.1L317.6 158.1L319.5 160.7L320.2 162.7L323.1 163.7L325.9 164.0L328.7 161.9L328.1 164.3L325.9 165.8L321.3 167.6L318.2 169.7L317.3 167.6L320.0 165.0L316.7 165.8L315.4 166.8L312.1 168.4L309.7 169.7L308.8 172.2L310.3 174.0L307.5 175.1L303.8 176.3L302.9 177.4L302.0 180.4L300.5 183.3L299.2 186.4L299.6 189.7L297.8 192.3L295.6 194.3L292.8 196.6L290.0 200.0L289.3 203.6L290.8 208.7L291.7 212.8L291.2 216.7L289.7 216.4L288.4 213.3L286.7 210.0L286.7 206.9L284.5 204.3L281.8 204.9L279.0 203.3L276.3 203.6L274.4 204.1L274.8 206.7L272.6 206.4L269.8 205.4L266.1 205.4L263.4 207.4L260.6 210.0L259.9 214.6L259.3 219.8L259.2 224.1L260.3 228.3L261.9 232.1L264.3 233.6L265.6 234.7L268.9 233.6L271.7 232.9L272.6 228.8L273.5 227.0L277.2 225.9L279.4 226.7L278.1 231.3L277.2 234.4L276.6 239.0L275.7 240.8L278.1 240.6L280.9 240.6L283.6 240.8L285.8 242.9L285.5 248.0L285.1 251.9L285.5 254.5L287.3 257.5L289.1 258.6L291.9 257.5L293.7 257.0L296.1 258.8L297.4 260.9L299.2 258.3L300.2 254.2L302.0 252.9L304.8 251.9L307.2 249.6L307.9 251.4L307.0 253.7L308.1 253.4L309.9 251.9L310.3 250.4L313.0 252.4L314.0 254.2L317.6 254.2L320.4 255.2L323.1 254.0L325.0 254.2L326.8 256.5L327.2 259.3L329.6 260.4L331.4 263.5L333.8 266.0L336.9 266.3L339.7 266.5L342.5 268.6L344.3 270.4L345.8 275.5L347.1 278.9L346.5 281.4L348.9 282.2L350.2 284.0L353.5 284.0L356.6 286.1L357.5 288.4L360.8 288.6L364.5 288.6L367.3 290.4L370.0 293.0L372.8 294.6L374.3 295.6L374.8 299.4L374.6 304.1L372.8 307.9L370.4 311.5L368.2 314.9L367.3 318.7L367.3 323.9L366.4 328.2L365.4 332.8L363.8 337.0L362.0 340.3L359.0 340.6L356.2 342.1L353.5 343.6L350.7 346.2L349.6 349.6L349.4 354.2L347.4 357.3L345.6 361.1L343.4 364.2L341.5 367.8L339.7 370.4L336.9 371.1L334.2 370.1L331.6 369.3L333.8 372.7L334.6 375.5L332.9 379.4L329.6 381.2L325.9 381.7L324.6 383.7L324.1 386.6L320.4 386.6L319.5 389.4L321.7 390.9L319.5 392.7L318.6 396.6L315.8 398.4L314.9 401.0L317.6 403.0L317.6 405.3L314.9 408.7L312.5 410.7L311.7 413.0L313.0 415.9L310.3 416.6L308.4 419.2L305.7 418.7L303.3 416.4L301.5 413.0L300.5 408.7L300.2 404.8L302.0 401.7L300.2 399.7L302.9 395.8L304.8 393.2L304.8 389.4L303.3 386.8L303.5 383.0L303.8 377.8L304.8 375.8L305.7 372.2L307.2 367.5L307.5 362.4L307.7 357.3L308.4 352.1L309.4 346.5L309.4 341.3L309.9 335.4L309.7 329.0L307.9 326.4L304.8 323.9L301.1 321.3L298.7 317.4L297.4 313.1L295.6 307.9L293.7 302.8L291.9 298.7L289.7 296.9L289.5 293.0L291.3 290.2L290.2 287.4L290.6 284.0L291.7 280.7L293.2 278.4L294.3 276.3L295.9 274.5L296.9 271.2L296.7 267.3L296.5 264.0L295.0 261.7L293.2 258.8L291.3 260.4L291.0 262.4L289.1 261.7L286.9 260.4L285.5 259.1L283.6 256.8L281.4 255.8L281.2 253.2L279.0 249.3L277.5 247.5L274.4 246.8L271.7 245.5L268.9 243.7L266.1 240.3L263.4 240.6L261.0 240.8L257.9 239.3L255.1 237.8L251.8 235.4L248.7 233.9L245.9 231.3L244.8 228.8L245.4 226.2L244.1 222.3L241.3 218.5L238.6 215.1L237.1 212.1L234.9 209.5L232.1 205.6L230.7 201.8L228.1 200.0L228.1 203.1L230.3 207.4L232.5 211.5L234.5 215.9L236.2 219.0L237.6 221.8L236.4 222.3L234.0 218.7L232.5 215.4L230.3 212.6L227.9 210.3L228.4 207.4L226.1 204.3L224.8 200.5L223.5 197.4L221.5 194.6L219.3 193.3L217.2 192.5L215.6 188.9L214.3 186.4L213.2 183.8L211.3 179.9L210.4 177.6L210.6 173.5L210.2 169.7L211.0 165.8L211.0 161.9L209.9 157.3L213.2 157.3L213.2 155.0L211.0 152.9L207.3 150.9L204.5 149.1L203.6 146.5L200.9 143.4L199.4 140.9L198.1 138.0L195.3 135.5L193.0 132.4L189.8 130.8L186.2 130.3L182.5 127.8L177.9 127.2L173.3 126.7L169.6 125.2L166.3 126.5L164.1 127.8L160.4 129.0L161.3 126.0L163.2 124.2L159.5 125.2L157.3 128.5L155.4 131.1L152.1 133.7L148.5 136.0L144.8 138.0L141.1 139.6L136.5 141.1L139.3 138.6L142.9 137.0L146.6 134.2L149.4 131.6L149.4 129.8L145.7 130.3L142.0 130.3L141.1 127.8L137.4 126.7L135.0 124.2L134.1 121.3L136.5 119.3L140.2 118.3L142.9 117.2L142.9 115.4L139.3 115.7L134.7 115.7L131.9 113.9ZM304.8 80.5L310.3 77.9L316.2 78.6L317.6 75.3L321.8 74.1L325.0 72.0L328.8 71.5L331.3 70.8L337.9 69.9L341.2 67.2L346.7 69.9L350.7 69.4L354.1 69.3L356.9 68.5L361.8 67.6L365.6 67.6L369.4 67.4L371.7 65.8L375.6 67.2L378.3 66.6L381.8 66.6L387.8 67.6L389.1 67.0L393.0 68.1L396.6 69.6L402.2 70.7L407.8 70.6L411.4 71.5L407.7 75.1L405.0 78.4L402.2 82.3L404.1 86.1L402.2 90.0L397.6 93.8L398.5 97.2L393.0 99.5L396.7 101.6L393.0 103.6L387.5 105.9L382.0 106.4L377.4 109.3L371.9 112.3L366.4 113.6L363.6 117.7L362.3 119.4L360.8 122.1L357.3 123.5L359.9 126.5L357.2 127.5L354.4 125.7L349.8 124.2L347.1 120.8L344.7 117.0L342.8 113.1L340.3 109.3L341.0 105.4L344.3 102.8L339.7 100.8L338.2 97.7L336.4 93.8L333.8 92.9L333.3 89.5L328.7 86.1L325.3 85.3L321.3 85.6L317.1 86.7L314.0 86.1L308.4 83.6ZM394.5 113.1L397.6 110.8L401.3 112.6L405.9 111.1L409.6 110.8L412.2 112.9L414.0 114.4L411.4 116.2L406.8 118.0L403.1 118.5L399.5 117.5L397.4 117.2L398.5 115.4L395.2 114.7ZM422.6 186.4L422.8 183.3L421.5 181.7L422.6 178.1L423.0 174.8L422.1 170.9L424.3 169.1L428.0 169.4L432.0 169.9L435.7 169.9L436.8 166.6L437.0 163.2L435.0 160.4L431.1 158.6L430.4 157.1L433.5 156.0L436.1 156.5L435.9 153.7L439.2 154.5L441.8 152.4L442.1 150.6L444.9 149.6L446.7 147.8L447.8 145.2L451.5 144.0L454.3 143.4L455.2 141.9L454.3 138.8L453.9 136.0L456.5 134.4L458.5 133.2L457.9 136.2L457.4 138.8L456.7 140.4L458.9 141.9L461.1 142.2L463.8 141.6L465.3 142.9L468.8 141.9L472.1 140.6L473.6 141.6L475.4 141.4L477.6 139.3L477.6 135.5L479.1 133.4L481.3 135.0L483.5 134.4L483.9 131.6L482.2 130.3L482.2 129.0L485.9 128.3L490.5 128.5L493.2 127.5L491.4 126.0L486.8 126.2L484.1 127.2L480.9 127.5L478.4 125.5L478.4 122.6L478.0 120.1L480.2 118.0L484.1 114.9L485.5 113.6L483.5 112.3L479.8 112.3L478.4 114.9L477.2 117.5L473.6 119.3L471.4 122.1L470.6 125.2L473.2 127.0L471.7 130.1L469.5 132.4L469.3 135.5L468.1 137.3L465.3 138.8L462.9 139.1L462.4 136.8L460.9 133.7L459.6 130.3L458.3 129.0L456.1 130.1L453.7 132.1L451.1 132.1L449.1 130.1L448.4 127.2L448.2 124.2L448.7 121.9L451.5 120.1L454.6 118.3L457.4 116.5L460.1 114.4L462.0 111.8L463.8 109.3L466.2 106.7L468.8 104.9L472.1 102.6L475.8 101.3L480.4 100.3L484.1 99.0L486.8 98.7L490.5 98.7L494.2 100.0L496.0 101.0L493.2 102.1L496.9 102.6L500.6 103.1L505.2 103.9L509.8 105.9L513.5 107.7L514.8 110.0L512.6 111.6L508.9 111.6L504.3 110.5L499.7 109.8L498.8 111.1L502.4 112.6L503.0 115.7L506.1 117.0L508.5 115.9L512.2 115.4L513.1 113.1L516.2 110.8L519.9 111.6L520.5 109.3L519.5 105.9L522.7 105.7L524.5 107.5L522.7 109.3L525.4 109.5L528.2 107.5L531.9 106.2L536.5 104.6L538.9 105.9L542.0 105.4L545.7 104.4L548.4 105.4L550.8 103.9L550.3 102.1L554.9 102.6L558.2 103.6L561.8 104.4L564.6 105.9L565.9 104.1L562.8 102.1L561.8 99.5L563.7 96.9L565.9 94.4L570.5 94.1L572.9 96.4L572.3 100.3L572.7 104.1L574.2 107.2L571.4 111.1L574.2 110.0L576.0 106.7L576.9 103.6L574.7 100.8L576.0 96.9L577.8 95.4L581.5 95.9L585.2 95.9L588.9 96.9L590.7 93.8L587.0 92.6L593.5 91.8L598.1 91.5L599.0 89.0L604.5 87.4L610.9 86.4L617.4 86.1L622.9 84.8L626.6 82.8L630.8 81.8L634.8 82.8L639.4 84.3L645.9 85.4L648.3 87.4L646.4 89.2L641.3 91.3L645.9 92.0L650.5 92.0L656.9 92.6L661.5 93.8L666.1 92.3L671.6 92.6L675.3 95.1L677.1 98.5L680.8 99.2L683.6 97.2L688.2 97.4L692.8 97.7L696.1 95.6L698.3 94.4L703.8 94.9L709.3 95.9L713.9 95.9L715.8 97.7L719.4 99.2L724.9 99.0L730.5 99.2L733.2 101.6L734.7 102.8L739.7 102.3L744.3 102.8L748.5 101.8L752.2 101.6L753.1 104.1L757.1 102.1L762.6 102.1L767.2 103.1L770.0 104.1L770.0 114.4L767.8 115.4L765.4 115.2L767.2 118.3L768.7 120.8L765.0 120.8L759.9 122.6L756.2 124.9L752.2 127.5L747.9 126.0L744.3 127.8L741.5 127.5L739.3 129.8L738.4 132.9L739.1 136.8L737.3 140.6L733.6 144.7L730.6 147.8L727.3 150.4L725.9 146.5L725.1 141.4L725.3 136.2L727.5 132.9L731.0 129.8L734.1 126.5L738.4 123.4L740.2 121.1L735.1 122.9L732.3 122.9L727.7 123.4L724.0 127.5L720.4 129.6L715.8 128.5L712.1 129.0L706.6 129.0L702.0 129.0L697.4 132.4L694.1 136.2L691.3 140.1L687.8 140.9L691.8 143.2L696.1 144.5L698.7 147.0L697.4 151.7L697.0 156.8L694.2 160.7L691.8 164.5L688.7 167.9L685.4 170.9L682.3 170.4L679.9 172.0L678.1 173.5L677.5 176.3L674.4 178.9L673.5 180.4L675.3 183.0L677.0 186.9L676.8 190.2L674.4 191.8L671.6 193.0L671.6 189.4L672.2 186.4L671.3 184.3L668.9 183.8L669.6 179.9L667.6 178.9L664.3 177.4L662.1 181.2L663.0 176.9L659.7 178.6L656.9 181.0L655.4 182.2L657.6 185.3L660.8 184.3L664.3 186.1L661.5 188.2L658.6 191.5L660.2 194.6L661.5 197.9L663.2 200.5L662.4 203.6L663.2 206.4L661.5 210.0L659.7 213.3L658.2 216.7L656.0 218.7L653.8 221.8L650.5 223.4L648.3 224.4L645.0 225.7L642.2 227.0L641.3 229.0L640.4 226.2L637.6 225.9L635.4 228.5L633.6 232.6L634.8 235.7L637.2 239.8L639.3 242.9L640.0 248.0L639.4 251.9L636.7 254.5L634.8 256.5L632.5 259.1L631.7 256.3L631.7 255.0L629.3 254.0L628.0 251.1L626.2 248.8L624.5 247.0L622.9 247.5L622.7 251.1L621.4 254.5L622.0 257.8L623.4 260.9L624.4 264.0L626.6 265.5L628.4 268.6L629.1 272.5L629.9 275.8L630.6 277.9L629.1 278.1L627.1 275.8L625.3 274.0L624.0 270.7L623.4 266.5L622.2 264.0L620.7 260.9L619.8 258.3L620.3 254.0L620.5 250.6L619.6 246.2L618.7 242.4L618.5 239.0L616.5 238.8L614.2 240.8L612.4 240.3L612.8 236.5L611.9 232.6L610.0 229.5L608.2 225.9L607.3 223.4L605.1 224.9L602.7 225.2L599.9 225.9L598.6 228.8L596.2 230.8L593.5 234.2L590.7 237.8L588.5 239.8L586.5 242.1L586.5 246.8L585.7 251.9L585.2 255.0L584.3 257.5L582.8 258.8L581.5 260.6L579.7 258.3L578.8 254.5L577.5 251.1L576.5 248.0L575.6 243.4L574.3 240.3L573.6 236.5L572.9 232.1L572.7 228.0L572.3 226.2L571.6 227.5L569.2 228.0L566.3 224.4L568.1 223.1L565.5 221.6L563.1 220.0L562.2 217.7L561.1 216.2L557.6 216.7L553.9 216.7L551.2 216.9L547.5 216.2L544.6 215.4L543.4 212.1L541.1 212.8L538.3 213.1L535.7 210.8L533.2 208.2L531.9 204.9L530.0 204.1L527.6 204.3L527.1 206.4L528.7 209.5L530.2 212.1L531.3 213.6L531.1 216.7L532.4 217.7L533.2 214.6L533.9 216.7L533.5 219.0L535.5 219.5L538.3 219.5L540.7 216.7L542.5 214.1L542.7 217.7L544.4 220.0L546.8 220.8L549.0 223.6L548.0 226.7L546.6 229.0L545.3 232.6L543.4 234.7L540.7 236.7L538.3 238.0L535.2 239.8L531.9 242.9L528.6 245.5L525.1 247.0L521.8 248.6L519.0 248.8L518.4 246.8L517.7 242.9L517.2 239.0L515.3 235.2L513.5 230.8L511.1 226.7L510.3 222.3L508.5 218.5L507.0 215.1L505.2 212.1L503.7 209.0L503.2 205.6L502.3 209.2L501.0 209.0L499.7 206.9L498.9 204.3L498.8 206.1L500.1 209.0L501.3 212.1L502.6 215.1L504.1 219.3L504.8 222.3L506.9 224.9L507.4 228.0L507.6 232.1L509.4 234.7L511.1 240.3L512.6 242.9L514.9 244.7L517.2 247.5L518.6 249.6L518.4 251.9L520.5 254.5L523.6 253.7L526.3 252.7L529.1 252.4L532.4 250.9L533.2 253.2L532.4 257.0L530.9 260.9L529.1 265.5L526.9 269.9L524.1 274.3L521.4 277.1L518.6 280.2L516.2 284.0L514.0 287.6L512.6 290.4L511.3 293.5L510.3 297.6L511.6 300.0L511.3 303.8L512.2 307.1L513.5 309.2L513.5 313.6L513.8 318.7L513.1 322.6L510.7 324.9L508.0 326.9L506.1 329.8L503.4 332.6L503.0 335.4L504.3 338.8L504.1 343.1L502.1 345.2L499.7 347.0L499.3 350.3L498.8 354.7L496.9 357.3L495.1 361.1L492.3 364.7L489.6 367.3L486.8 368.3L484.1 369.1L480.4 369.1L476.7 370.4L474.9 370.6L472.8 369.3L472.7 365.7L471.7 362.4L470.3 358.0L469.2 354.7L467.1 350.8L466.2 345.7L465.7 340.6L465.3 336.7L463.3 332.8L461.6 329.0L460.7 325.1L460.9 321.3L461.8 317.4L464.0 313.1L464.4 309.2L463.3 305.1L462.5 300.7L461.6 296.9L461.1 294.3L459.2 291.2L457.0 287.9L455.6 284.5L456.1 281.4L456.7 278.4L457.0 275.0L456.8 272.2L455.4 269.9L452.8 270.1L451.0 270.4L449.1 268.6L447.8 266.0L445.4 265.3L442.7 265.3L440.5 266.5L438.1 267.8L435.3 269.1L432.6 268.3L429.8 268.3L427.0 269.4L425.0 270.1L422.4 268.6L419.7 265.5L417.9 263.7L415.5 261.4L414.5 258.3L412.7 255.8L411.4 253.4L409.2 250.6L408.1 248.0L408.3 245.5L406.8 243.7L408.5 240.3L409.0 236.5L409.4 232.6L408.1 228.0L407.7 225.7L409.2 221.6L411.4 217.2L412.3 214.1L414.7 210.5L416.9 209.2L419.1 207.4L421.0 204.9L421.0 201.0L422.4 197.7L425.2 194.8L427.0 192.8L428.2 189.4L429.8 190.0L432.6 191.0L435.3 191.2L438.1 189.4L440.8 187.6L444.5 186.6L448.2 186.9L451.9 186.4L455.6 186.1L457.8 185.6L459.2 186.4L458.5 188.9L458.9 191.5L457.8 193.6L459.2 195.4L461.6 197.2L463.8 196.9L466.6 198.2L467.5 200.5L470.3 201.8L473.0 203.3L475.4 202.3L475.8 199.2L477.6 197.2L480.4 197.2L482.2 198.7L485.0 200.0L487.7 200.5L490.5 201.8L493.2 201.8L495.1 200.5L496.9 200.5L498.8 201.5L500.6 201.5L502.1 200.8L503.0 197.9L503.7 195.4L504.8 192.0L505.2 188.9L505.6 186.9L503.4 187.1L501.5 188.2L499.3 188.7L496.9 187.4L495.1 187.9L492.9 187.9L490.5 186.9L489.2 185.8L488.7 183.3L487.7 181.7L488.3 179.9L487.2 179.2L487.7 177.9L490.1 177.6L492.3 177.4L492.7 176.1L495.1 175.6L497.5 174.8L499.7 173.5L503.4 173.5L505.8 175.3L508.9 176.1L512.2 176.1L515.1 174.8L515.5 172.2L513.5 170.2L510.7 168.4L508.5 166.3L507.0 165.0L508.9 163.2L511.1 160.4L508.9 160.1L506.1 161.4L503.4 162.7L503.9 164.5L506.1 165.0L504.3 165.8L501.5 167.3L500.4 166.6L498.8 164.8L500.6 163.2L497.8 162.5L495.6 161.9L493.8 164.3L493.4 165.8L492.0 167.6L491.4 169.9L490.3 171.7L489.9 173.5L490.9 174.8L492.3 175.4L492.0 176.1L489.6 176.3L488.3 177.4L487.2 177.6L486.8 176.6L484.1 176.3L482.8 178.4L480.9 177.6L480.9 179.9L481.8 181.7L483.1 183.5L481.7 184.0L481.5 185.6L481.1 187.6L480.0 187.4L478.9 186.9L478.2 184.8L478.5 183.0L477.2 181.7L476.1 179.7L474.9 177.9L474.7 175.3L474.5 173.5L472.7 172.2L470.3 170.4L468.1 168.9L466.6 166.8L465.3 165.3L464.2 164.3L462.5 164.5L461.6 165.3L461.8 167.6L463.8 169.4L464.7 171.7L466.6 173.5L468.4 173.8L468.4 175.1L470.6 176.3L472.8 178.1L472.7 179.2L470.6 177.6L469.5 179.4L470.4 181.2L469.3 182.8L468.2 184.0L467.9 183.3L468.6 181.0L467.7 178.6L466.2 177.1L464.4 175.6L462.0 174.5L460.3 172.7L458.3 170.9L457.8 168.6L455.6 167.3L453.7 168.6L452.2 169.1L450.4 170.7L448.2 169.9L446.4 169.7L444.7 170.7L444.9 173.8L443.0 175.3L440.7 176.6L439.0 179.2L438.4 180.4L439.2 182.0L437.9 183.8L436.2 185.6L434.8 186.9L431.1 187.1L429.3 188.7L427.6 187.4L426.3 185.8L424.5 186.4ZM108.0 104.1L111.7 105.4L116.3 107.7L121.8 109.3L126.4 111.6L124.5 113.1L122.2 115.7L120.0 116.2L116.3 114.9L115.4 113.1L110.8 112.9L108.0 114.4ZM459.2 76.6L464.7 76.1L470.3 75.6L475.8 74.8L479.5 74.9L483.1 74.8L488.7 75.6L483.1 77.6L477.6 78.9L478.5 81.0L473.0 82.5L470.3 84.6L466.6 83.0L463.8 81.0L460.1 78.9ZM523.6 74.6L528.8 73.5L530.9 73.5L535.8 72.3L540.1 72.8L544.5 73.6L549.3 73.0L553.7 72.8L556.7 73.5L552.8 74.9L549.3 75.1L545.0 77.3L540.1 75.6L536.3 75.3L530.9 75.8L525.5 75.2ZM533.7 97.7L536.5 94.9L540.1 91.3L543.8 88.2L549.3 85.9L551.9 84.8L556.7 84.8L558.6 85.0L565.0 83.8L564.0 85.6L561.2 85.5L556.7 87.2L550.6 89.0L549.3 90.0L545.7 93.1L542.0 96.9L544.7 99.8L540.1 100.0L536.5 99.0ZM613.7 78.4L617.4 74.6L622.9 72.8L626.9 74.1L630.2 74.6L632.1 78.4L626.6 81.0L624.6 81.3L619.2 79.7ZM690.9 86.6L698.3 85.9L707.5 87.2L715.8 88.2L709.3 89.2L700.1 89.2L692.8 89.2ZM767.2 99.0L770.0 97.7L770.0 99.2ZM108.0 97.7L111.7 98.0L112.6 99.0L108.0 99.2ZM638.9 231.8L640.9 229.8L642.9 230.3L642.2 233.1L640.4 234.7L638.9 233.6ZM585.7 256.8L587.0 257.5L588.5 259.6L589.4 262.7L588.5 265.3L587.0 266.3L585.9 265.0L585.6 260.9ZM529.7 312.3L531.5 317.4L531.7 322.1L530.2 325.7L529.5 330.3L528.2 335.4L526.9 340.6L525.4 345.4L522.3 347.0L519.9 345.2L518.6 340.0L519.5 334.9L520.6 331.6L519.9 326.4L521.6 323.1L524.5 321.5L526.9 318.7L528.2 315.4ZM614.2 267.1L618.3 268.1L620.1 271.2L622.9 275.0L625.6 277.1L628.4 280.2L630.2 284.0L633.6 289.2L633.6 296.4L631.2 296.4L627.5 292.2L624.7 288.4L622.9 284.0L620.7 277.6L617.7 273.2L614.6 269.1ZM639.8 280.7L639.4 277.6L641.3 276.8L643.7 275.0L646.8 273.0L649.6 269.1L652.3 264.7L654.2 263.5L655.6 266.0L657.8 268.1L656.0 270.4L655.6 273.7L656.0 277.6L655.1 280.2L655.1 284.0L653.2 286.6L652.7 291.2L649.7 291.7L646.8 289.9L644.6 290.2L641.8 288.6L641.3 285.3ZM679.9 283.5L682.7 282.5L685.4 283.8L685.8 287.9L688.2 289.9L691.8 285.6L695.5 287.1L698.3 288.1L702.0 290.2L705.3 291.7L707.5 295.6L710.2 296.9L710.8 300.0L713.0 304.6L715.8 307.9L713.0 307.9L709.3 305.9L707.5 302.5L704.7 301.2L702.5 303.3L701.0 305.1L698.3 304.8L695.5 302.5L692.8 302.8L693.7 299.4L692.8 295.6L689.1 293.3L685.4 291.5L683.2 291.7L682.1 288.6L684.5 287.4L681.7 286.6L679.9 285.0ZM657.8 305.6L661.1 307.1L659.7 307.9L657.8 306.6ZM648.6 338.0L647.7 344.4L648.6 349.6L650.1 354.7L651.4 361.1L650.8 368.1L652.3 371.1L656.0 371.4L659.7 368.8L663.3 368.6L667.0 366.3L670.7 364.5L675.3 363.2L679.9 362.4L683.6 364.2L686.3 366.3L688.2 370.9L690.0 368.8L692.4 366.3L691.8 371.4L693.7 372.7L695.5 375.3L697.4 379.1L701.0 380.4L704.7 379.6L707.5 381.7L711.2 378.9L714.8 377.3L715.8 372.7L717.6 367.5L720.0 362.4L721.3 356.0L720.7 350.8L720.4 346.5L717.6 342.6L715.8 339.3L713.0 334.1L709.3 331.1L707.5 328.5L706.6 323.9L705.6 320.0L703.4 318.2L702.5 313.6L701.0 309.2L700.1 312.3L699.6 317.4L699.2 321.3L697.9 326.2L695.5 326.4L692.8 323.9L690.0 322.1L688.2 319.5L689.1 315.6L690.6 312.8L687.3 312.8L683.6 311.0L681.7 310.5L679.9 313.1L678.1 315.6L677.1 319.5L674.9 320.0L672.5 317.4L669.8 318.7L667.9 322.6L665.7 325.9L663.7 327.7L662.4 331.1L658.7 332.8L655.1 334.6L652.3 335.4L649.6 337.5ZM135.6 140.9L138.7 140.1L138.3 141.4ZM131.0 143.4L133.2 142.7L132.8 144.2ZM128.2 144.7L130.1 144.0L129.7 145.2ZM117.2 147.3L119.0 147.0L118.5 147.8ZM113.5 148.1L114.4 147.8L114.3 148.6ZM123.3 118.3L128.2 118.8L128.2 119.5L123.6 119.0ZM131.9 126.7L134.3 126.7L133.7 127.8ZM152.1 229.5L154.0 230.6L153.1 232.6L152.1 231.3ZM150.8 227.5L152.1 228.0L151.4 228.5ZM148.1 225.9L149.0 226.5L148.5 226.7ZM369.1 420.2L372.8 421.0L371.9 422.3ZM565.5 407.4L568.6 407.9L566.8 409.2ZM270.6 282.2L271.8 282.5L271.3 284.0ZM121.6 316.1L123.4 316.9L122.3 317.4ZM163.7 326.4L164.6 326.7L164.1 327.5ZM540.7 335.2L541.6 335.4L541.1 336.4ZM544.4 332.8L545.3 333.4L544.7 334.1ZM526.3 170.9L525.1 167.6L526.3 164.5L529.1 162.2L532.8 160.9L536.1 161.4L536.8 165.0L533.7 165.8L531.9 167.3L533.2 170.4L535.5 172.2L536.1 175.3L538.3 176.9L536.5 178.6L537.9 181.7L538.1 186.4L534.6 187.1L531.5 185.6L529.1 184.8L528.7 181.7L530.0 177.9L528.2 174.0ZM269.8 161.2L274.4 158.1L277.2 156.0L280.9 157.6L283.2 161.2L279.9 161.9L277.2 160.7L272.6 161.4ZM277.2 173.5L277.5 168.4L279.9 163.7L282.7 163.7L280.3 168.4L279.9 173.5ZM283.6 163.2L288.2 163.2L291.9 165.8L289.1 167.1L288.2 170.9L286.4 168.9L285.5 165.8ZM285.8 174.3L290.0 172.2L293.7 171.5L292.8 172.5L289.1 174.8ZM292.3 170.2L297.4 168.9L298.7 168.4L298.3 169.7L293.7 170.4ZM107.0 497.3L110.8 496.6L112.9 497.9L116.3 497.5L120.2 498.7L122.8 499.2L125.8 499.2L130.0 499.0L132.5 498.1L137.0 499.1L139.6 499.2L143.6 499.8L146.7 501.0L150.0 500.3L152.8 500.0L156.1 501.6L160.2 501.8L162.8 500.6L166.5 500.4L169.7 501.6L172.5 501.0L169.3 499.9L166.8 500.6L164.0 498.0L161.2 497.0L155.7 496.2L154.8 490.4L153.9 488.7L157.0 488.3L159.4 488.6L163.0 487.5L165.3 487.5L169.4 486.7L172.5 488.0L169.1 488.0L164.1 484.7L161.0 485.0L157.7 484.3L153.0 483.4L150.0 483.0L144.6 482.4L147.7 481.7L151.4 481.7L155.1 482.1L157.7 481.3L161.2 480.4L163.1 480.0L166.9 478.7L170.6 479.3L174.4 477.4L178.0 476.0L181.9 476.8L185.6 474.4L189.2 473.9L193.3 473.6L197.0 474.0L200.6 474.8L204.0 475.7L206.6 475.6L208.8 472.1L211.5 470.2L215.6 471.5L220.0 471.5L222.7 471.0L226.6 472.3L230.0 472.0L233.6 470.7L236.9 470.8L241.0 469.5L245.6 469.4L248.7 469.1L252.4 468.3L255.6 467.4L259.7 467.4L263.5 466.5L266.8 465.5L270.7 468.2L273.3 467.2L276.8 467.6L280.0 467.0L282.6 468.7L286.5 468.7L290.2 467.4L293.5 468.8L297.0 468.3L299.5 465.8L303.0 464.0L305.2 460.0L308.0 459.0L312.2 457.5L315.0 455.0L317.7 454.3L319.8 451.4L323.0 449.7L327.4 449.0L330.0 446.5L332.7 441.4L337.8 442.3L335.3 445.6L334.0 447.0L330.4 451.6L327.7 453.3L325.8 454.5L323.0 457.2L325.1 460.8L327.0 463.0L328.5 468.3L326.3 470.6L323.2 472.6L321.0 474.0L317.1 477.5L313.7 478.7L318.9 479.0L320.1 480.2L325.0 481.5L328.4 482.9L332.0 481.6L334.2 483.9L337.8 483.2L340.9 484.6L345.1 484.8L349.0 484.5L353.0 485.4L356.8 483.9L360.0 485.0L363.5 484.6L366.8 485.2L370.0 483.7L372.8 482.3L375.4 481.8L378.7 481.3L382.2 479.1L385.5 478.7L388.0 477.0L391.0 474.1L394.3 474.3L397.3 472.0L399.2 471.9L404.0 470.0L406.0 468.5L409.6 469.6L413.3 465.6L415.9 465.3L418.9 464.9L421.9 462.7L425.4 464.0L428.0 464.3L431.1 464.1L434.5 463.8L436.6 464.5L440.0 463.9L444.0 463.4L447.1 463.8L449.3 464.7L452.4 464.1L456.0 463.0L458.8 463.1L461.5 461.6L465.9 462.3L468.4 461.4L471.5 461.5L474.8 459.8L477.1 460.6L480.3 459.7L483.9 459.8L487.0 459.5L490.5 460.5L494.8 459.7L497.9 457.7L501.6 457.7L503.9 458.0L506.7 458.4L511.0 459.6L514.7 459.9L518.2 456.4L521.0 456.0L524.9 454.0L528.6 453.2L531.8 452.0L535.4 453.7L538.6 452.9L541.2 450.2L544.7 451.1L548.0 452.5L551.9 455.2L554.4 454.7L557.1 455.0L559.7 455.1L564.0 455.4L566.5 455.8L567.7 457.7L569.5 462.2L572.4 461.6L575.0 459.5L578.2 458.8L580.8 457.7L583.2 458.4L586.9 455.8L590.0 455.0L593.6 452.5L596.4 453.7L599.7 453.2L603.2 454.0L606.6 450.8L609.5 452.3L613.0 451.7L616.3 450.3L618.6 451.8L622.9 451.1L626.0 450.9L628.2 452.5L630.8 450.6L636.6 450.8L638.8 449.8L642.6 449.7L645.0 450.9L648.3 451.5L650.7 452.7L653.6 451.8L657.5 452.5L660.9 454.2L663.8 453.9L666.7 453.3L669.6 453.4L673.4 453.5L676.2 453.5L679.0 453.5L681.5 454.4L684.4 453.7L688.8 452.8L691.0 452.4L694.0 453.9L697.4 453.3L701.1 454.8L705.0 456.0L708.9 458.0L712.9 457.7L716.6 457.7L720.4 458.1L723.7 457.3L728.0 459.5L731.8 461.6L735.7 460.4L739.2 461.5L743.1 462.0L744.9 462.2L747.7 464.0L752.4 464.9L754.3 466.0L751.2 467.1L749.1 467.7L746.7 470.9L744.3 473.4L741.9 475.2L739.2 476.6L742.3 476.3L747.4 480.1L750.5 480.3L745.9 481.4L743.0 482.2L740.2 484.3L737.6 485.0L734.7 487.1L737.1 490.4L739.2 493.5L743.6 492.6L748.0 495.0L749.7 494.7L753.8 496.0L758.0 496.2L761.6 496.7L764.3 496.8L768.4 496.4L771.0 497.3" fill="none" stroke="#fff" stroke-width="2.2" stroke-linejoin="round"/>
<path d="M428.5 152.7L432.6 152.2L435.3 151.4L439.0 150.9L441.6 149.9L440.5 148.8L442.1 146.3L439.6 145.2L439.4 143.7L438.1 141.6L436.2 139.6L435.0 137.5L433.5 136.8L435.3 135.0L435.5 133.4L432.6 133.2L431.6 132.4L433.3 130.8L429.8 130.8L428.3 133.4L428.3 136.2L429.4 138.0L430.2 140.1L432.6 140.4L433.5 142.7L433.5 144.2L430.7 144.5L431.3 146.5L429.4 148.1L431.6 149.1L433.5 149.6L431.1 150.1L429.3 152.2ZM428.0 147.6L427.8 144.5L428.9 141.4L427.0 139.6L424.3 139.6L423.2 141.6L420.6 142.2L421.5 144.7L421.0 147.0L420.2 148.3L422.4 149.1L425.2 147.8ZM700.1 141.9L702.0 144.0L702.5 147.8L702.9 152.9L704.7 155.5L702.0 159.4L702.9 161.9L701.0 163.2L700.1 159.4L700.1 154.2L699.8 149.1L699.6 144.5ZM696.4 174.8L698.7 174.8L702.3 173.5L706.2 170.2L704.4 168.4L700.1 164.5L699.4 167.1L698.7 170.4L696.4 172.0ZM679.7 194.1L681.7 194.6L684.5 193.3L687.3 192.8L687.8 195.4L690.6 193.3L692.8 192.5L694.6 192.3L696.4 191.0L697.9 189.7L697.9 186.4L699.2 183.0L699.8 179.9L699.2 177.4L698.7 175.3L696.8 175.8L696.4 179.2L695.5 183.0L693.7 185.6L690.9 185.6L690.0 187.6L689.1 189.7L686.3 190.0L683.6 190.2L680.8 192.5ZM677.5 196.1L679.0 194.3L681.2 195.1L681.7 197.2L680.8 199.7L679.5 201.5L678.4 201.0L678.4 198.4L677.3 197.4ZM682.3 195.4L684.5 193.8L686.5 193.8L686.3 194.8L684.5 195.9L683.2 197.2ZM661.5 216.7L663.2 217.2L662.4 220.3L661.3 224.4L660.2 222.9L660.0 220.3ZM462.0 183.8L463.8 183.3L467.5 183.3L467.0 185.8L466.6 187.1L463.8 185.8L462.0 184.8ZM454.3 176.6L456.1 175.6L457.0 178.1L456.5 180.7L455.2 181.5L454.4 179.9ZM454.8 172.5L456.3 170.9L456.5 173.5L455.9 175.1L455.0 174.3ZM482.4 190.2L485.0 190.5L487.4 191.0L486.8 191.5L484.1 191.8L482.4 191.0ZM498.4 191.5L500.6 190.7L502.6 190.0L501.5 191.8L499.7 192.5ZM632.6 298.2L635.4 296.9L638.5 298.2L642.8 298.2L646.4 299.2L649.6 301.5L649.2 303.6L645.0 302.8L640.4 301.5L636.7 301.2L633.0 299.2ZM659.3 279.4L661.5 278.4L665.2 279.1L668.9 277.3L667.9 280.2L664.3 280.4L660.6 280.7L660.6 284.0L664.3 283.5L665.7 284.0L663.3 286.1L664.8 290.4L665.2 293.8L663.0 293.0L661.5 289.2L660.6 290.4L660.2 295.6L658.7 295.3L658.4 290.4L657.6 287.9L658.7 283.5ZM660.6 233.9L663.3 233.9L663.9 237.8L662.4 241.6L663.3 245.5L666.1 246.0L667.0 248.6L665.2 247.5L662.4 246.2L660.8 244.7L659.7 241.6L660.2 239.0ZM663.3 263.5L666.1 259.6L669.8 256.5L671.6 260.9L671.1 265.3L669.8 266.5L667.9 265.3L667.0 262.7L665.2 262.2ZM667.6 249.3L669.8 250.1L669.8 254.5L668.5 255.2L667.6 251.9ZM663.3 251.1L665.6 251.9L665.7 257.0L664.3 257.0L663.3 254.5ZM654.5 259.9L656.9 257.0L658.7 252.7L658.2 255.8L656.0 258.8ZM660.4 247.0L662.2 247.3L662.1 249.8L661.1 249.6ZM666.1 307.9L668.9 305.1L672.5 303.0L671.6 305.1L667.9 307.7ZM650.5 302.5L653.2 302.8L656.0 302.5L657.8 303.0L661.5 303.0L664.8 302.5L664.8 304.1L659.7 304.3L656.0 304.3L652.3 304.3L650.5 303.8ZM673.5 276.3L675.3 277.6L675.7 280.7L674.4 283.2L673.8 280.2L673.5 278.9ZM674.4 289.2L679.0 289.2L679.5 291.0L675.3 290.4ZM670.7 289.7L672.9 289.9L672.2 291.2L670.7 290.7ZM712.1 295.6L715.8 295.6L718.5 292.5L719.1 294.3L716.7 297.4L713.0 297.4ZM716.3 288.4L719.4 291.2L720.4 293.3L718.9 291.7L716.3 289.2ZM724.0 296.9L725.9 298.9L728.6 300.7L732.3 302.8L735.1 306.4L733.2 305.9L729.5 303.3L725.9 300.0ZM745.4 320.0L746.6 320.5L747.9 325.1L747.0 323.9ZM740.6 333.4L743.3 335.4L746.1 338.8L744.8 338.8L741.5 335.9ZM765.0 326.4L767.2 326.7L767.2 328.2L765.0 328.0ZM705.1 386.3L708.4 387.1L711.5 386.6L711.7 389.9L710.2 392.5L707.5 393.5L706.0 390.7ZM756.6 369.9L759.5 373.5L761.7 376.0L762.6 378.1L766.3 378.1L766.9 380.4L764.9 382.5L764.1 385.0L761.4 388.4L760.4 387.3L760.8 384.2L758.6 382.5L760.3 379.6L760.1 376.5L758.0 372.7ZM756.6 385.8L759.3 387.3L759.0 389.4L756.8 393.2L754.0 395.3L753.1 399.2L750.7 401.2L747.9 401.0L745.2 399.7L745.7 397.1L748.9 394.5L752.5 391.7L754.4 388.9L755.7 386.3ZM282.9 225.2L286.4 222.3L290.0 222.1L293.7 223.9L297.4 226.2L300.2 228.3L302.6 229.5L301.1 230.3L296.5 230.3L295.6 228.3L292.8 225.9L289.1 224.4L286.4 224.4ZM302.2 234.2L304.8 230.3L307.5 230.3L310.3 230.8L313.2 233.6L311.2 234.4L308.4 235.2L306.6 234.7L303.8 234.4ZM295.0 234.2L297.4 234.2L298.9 235.2L297.0 235.7ZM315.4 233.9L318.2 234.2L318.0 235.2L315.4 235.2ZM330.0 158.9L332.3 154.2L334.6 149.6L336.9 149.1L336.0 152.9L339.7 154.2L341.5 156.8L341.5 160.7L339.7 161.2L336.9 160.7L335.1 159.4L332.3 159.1ZM325.9 110.5L325.4 113.3L326.3 113.1L322.2 114.4L320.8 118.1L324.3 115.9L321.7 116.6L319.5 119.5L318.8 121.7L316.7 122.1L313.0 120.8L309.1 121.3L308.4 119.5L309.7 120.3L304.2 117.4L303.8 115.7L301.8 115.0L296.4 118.5L296.5 116.2L296.0 113.2L295.6 113.6L299.5 112.9L299.8 112.4L302.9 112.3L302.7 109.7L301.9 109.2L303.8 108.0L301.8 105.9L300.2 105.4L297.9 100.1L294.6 102.1L295.4 99.7L290.0 101.6L283.5 102.0L283.9 100.8L282.7 101.6L275.9 99.5L280.6 102.5L276.3 100.3L273.7 100.1L275.1 96.8L274.4 96.4L278.9 95.4L276.6 93.6L275.3 92.6L281.3 91.3L283.0 93.7L282.7 92.0L284.8 93.4L290.6 91.5L290.0 92.6L291.6 93.8L295.3 94.7L296.5 94.4L296.7 94.6L305.8 96.6L302.9 97.2L304.6 99.7L308.4 99.0L308.0 99.5L313.0 101.6L316.1 102.8L315.8 104.1L319.2 105.5L321.3 107.2L325.0 109.3ZM223.8 101.8L226.6 104.5L227.8 102.7L231.2 103.3L232.1 104.5L234.5 104.8L238.6 104.9L242.4 105.5L242.5 103.7L245.0 104.9L249.1 102.4L250.5 104.6L247.7 102.1L253.3 102.1L250.2 101.0L250.7 98.8L246.8 99.5L248.6 97.8L249.5 97.0L245.9 95.1L242.9 93.1L240.4 93.3L236.5 90.9L234.9 94.6L234.8 91.3L230.5 94.6L228.4 93.8L226.6 93.4L223.0 94.5L222.0 95.6L221.5 94.8L221.1 98.5L221.1 98.7ZM208.2 96.7L209.2 98.9L212.8 98.5L213.7 99.8L217.4 97.7L220.0 94.6L222.0 94.4L225.7 92.6L223.7 90.8L221.1 90.8L221.6 90.0L215.6 90.0L213.2 91.4L210.1 92.0L206.2 92.5L205.3 94.2ZM273.5 84.8L275.8 83.4L278.0 86.3L281.1 86.0L282.7 85.4L284.6 85.3L287.0 85.6L287.9 85.6L291.9 85.4L289.9 84.0L296.5 82.3L296.4 79.4L301.1 79.7L306.4 81.2L306.6 77.1L309.2 76.5L309.1 74.7L312.6 77.1L315.8 73.8L317.7 73.1L320.9 73.8L323.1 71.2L321.6 68.9L317.6 68.7L313.2 69.5L313.3 69.3L315.0 68.1L307.3 69.4L307.2 64.9L304.9 67.9L304.2 68.0L301.1 67.9L303.6 68.8L298.3 67.9L295.9 69.9L296.1 68.6L290.4 69.8L288.2 68.7L284.5 68.3L285.8 68.4L284.0 68.9L279.4 69.1L277.2 70.7L275.9 71.5L273.7 70.1L269.8 72.5L272.6 73.5L275.9 70.9L276.3 74.2L279.0 74.6L278.1 74.1L274.1 76.6L277.2 78.4L280.9 80.5L280.5 82.5L275.3 82.3L277.4 82.8ZM262.5 87.4L263.8 87.8L264.3 89.6L269.8 89.5L276.0 90.9L278.5 89.9L277.2 90.0L281.5 89.9L277.2 90.7L284.5 91.4L286.4 89.7L286.4 89.0L291.9 89.2L291.0 87.2L287.6 89.5L285.4 85.8L283.8 85.6L282.7 86.9L283.5 86.7L275.8 88.4L275.7 85.1L273.5 86.1L271.3 84.5L268.0 84.3L264.3 85.4ZM262.5 76.1L263.8 77.0L264.4 79.1L268.4 78.8L271.7 77.6L271.9 76.8L275.7 73.7L278.1 77.9L277.7 77.4L273.5 75.1L272.6 73.8L267.2 72.0L266.1 72.8L262.7 78.8ZM223.8 88.2L227.8 89.5L231.5 90.0L228.4 87.3L233.0 90.0L233.2 89.4L240.6 89.2L239.8 88.9L242.2 88.7L244.9 88.6L244.1 86.1L242.9 84.9L243.9 85.7L236.7 84.8L232.6 83.9L231.3 84.7L230.1 83.6L227.5 85.4L224.4 86.9ZM251.4 96.4L248.7 98.1L259.4 98.2L258.8 97.7L258.3 97.9L260.6 94.6L260.9 92.9L258.8 91.8L253.6 91.0L253.3 92.0L253.2 92.4L250.7 92.5ZM263.4 95.9L266.5 96.3L268.0 96.4L269.2 95.5L272.6 93.8L272.9 92.9L269.8 91.3L269.2 90.7L264.3 91.8L266.7 92.0L263.6 97.2ZM247.8 88.2L250.6 87.2L252.5 87.6L253.4 89.0L254.7 86.7L258.8 88.7L259.1 88.1L256.1 86.3L258.8 84.8L259.3 84.2L252.4 82.8L251.4 84.8L252.5 85.1ZM279.0 114.4L283.4 112.4L284.5 113.6L288.4 114.2L290.0 117.0L291.0 118.3L287.1 116.9L286.4 119.8L284.5 116.4L281.8 118.8L279.0 117.5L274.9 114.9ZM212.8 86.1L217.1 86.6L218.3 85.1L220.9 86.9L222.0 86.1L222.6 83.4L223.8 83.6L223.7 83.0L218.3 82.8L215.7 84.2ZM203.1 150.9L207.3 151.7L211.9 156.3L211.7 157.3L208.2 156.0L204.5 152.9ZM194.4 142.7L196.8 142.7L197.7 146.5L195.9 145.2ZM154.9 134.2L158.6 132.4L159.1 134.2L155.8 135.5ZM326.8 413.8L330.5 413.3L332.7 414.1L330.5 415.9L327.7 415.6ZM312.9 416.9L314.9 419.7L318.9 422.0L316.7 423.1L313.0 423.8L309.4 422.8L306.6 421.0L308.4 420.0L309.7 418.4ZM707.5 168.1L709.1 166.8L709.3 167.9ZM711.2 165.0L712.8 163.7L713.0 164.8ZM714.8 163.0L716.5 161.7L716.7 162.7ZM718.5 160.4L720.2 159.1L720.4 160.1ZM721.3 156.5L722.9 155.3L723.1 156.3ZM724.4 152.9L726.1 151.7L726.2 152.7ZM263.4 104.1L262.6 103.0L260.6 102.6L258.7 103.0L257.9 104.1L258.7 105.2L260.6 105.7L262.6 105.2ZM300.5 107.2L299.9 106.3L298.3 105.9L296.8 106.3L296.1 107.2L296.8 108.1L298.3 108.5L299.9 108.1ZM298.3 93.3L297.2 92.4L294.6 92.0L292.0 92.4L291.0 93.3L292.0 94.2L294.6 94.6L297.2 94.2ZM266.7 88.7L266.0 88.0L264.3 87.7L262.6 88.0L261.9 88.7L262.6 89.4L264.3 89.7L266.0 89.4ZM256.0 79.7L254.7 78.6L251.4 78.2L248.2 78.6L246.8 79.7L248.2 80.8L251.4 81.2L254.7 80.8ZM263.4 80.2L262.6 79.3L260.6 78.9L258.7 79.3L257.9 80.2L258.7 81.1L260.6 81.5L262.6 81.1ZM238.6 79.7L237.5 79.0L234.9 78.7L232.3 79.0L231.2 79.7L232.3 80.4L234.9 80.7L237.5 80.4ZM235.8 81.8L235.0 81.2L233.0 81.0L231.1 81.2L230.3 81.8L231.1 82.3L233.0 82.5L235.0 82.3ZM289.7 120.3L289.0 119.6L287.3 119.3L285.6 119.6L284.9 120.3L285.6 121.0L287.3 121.3L289.0 121.0ZM293.5 122.1L293.2 121.2L292.3 120.8L291.3 121.2L291.0 122.1L291.3 123.0L292.3 123.4L293.2 123.0ZM291.0 145.2L290.5 144.7L289.5 144.5L288.5 144.7L288.0 145.2L288.5 145.8L289.5 146.0L290.5 145.8ZM293.9 136.8L293.6 136.0L292.8 135.7L292.0 136.0L291.7 136.8L292.0 137.5L292.8 137.8L293.6 137.5ZM320.9 123.4L320.5 122.8L319.5 122.6L318.4 122.8L318.0 123.4L318.4 123.9L319.5 124.2L320.5 123.9ZM247.4 92.8L246.7 92.1L245.0 91.8L243.3 92.1L242.6 92.8L243.3 93.5L245.0 93.8L246.7 93.5ZM222.9 86.6L222.4 86.1L221.1 85.9L219.8 86.1L219.3 86.6L219.8 87.2L221.1 87.4L222.4 87.2ZM267.4 82.0L266.8 81.5L265.2 81.2L263.7 81.5L263.0 82.0L263.7 82.6L265.2 82.8L266.8 82.6ZM258.8 75.8L258.2 75.3L256.9 75.1L255.6 75.3L255.1 75.8L255.6 76.4L256.9 76.6L258.2 76.4ZM257.9 86.1L257.1 85.2L255.1 84.8L253.2 85.2L252.4 86.1L253.2 87.0L255.1 87.4L257.1 87.0ZM249.6 82.8L248.5 81.9L245.9 81.5L243.3 81.9L242.2 82.8L243.3 83.7L245.9 84.1L248.5 83.7ZM283.6 94.4L282.8 93.6L280.9 93.3L278.9 93.6L278.1 94.4L278.9 95.1L280.9 95.4L282.8 95.1ZM304.8 103.3L303.7 102.3L301.1 101.8L298.5 102.3L297.4 103.3L298.5 104.4L301.1 104.9L303.7 104.4ZM314.0 109.3L312.9 108.2L310.3 107.7L307.7 108.2L306.6 109.3L307.7 110.4L310.3 110.8L312.9 110.4ZM309.4 117.0L308.5 116.1L306.6 115.7L304.6 116.1L303.8 117.0L304.6 117.9L306.6 118.3L308.5 117.9ZM290.0 97.7L289.0 96.8L286.4 96.4L283.8 96.8L282.7 97.7L283.8 98.6L286.4 99.0L289.0 98.6ZM234.9 98.5L233.8 97.6L231.2 97.2L228.6 97.6L227.5 98.5L228.6 99.4L231.2 99.8L233.8 99.4ZM244.1 101.6L243.0 100.8L240.4 100.5L237.8 100.8L236.7 101.6L237.8 102.3L240.4 102.6L243.0 102.3ZM219.3 93.8L218.4 92.9L216.5 92.6L214.5 92.9L213.7 93.8L214.5 94.7L216.5 95.1L218.4 94.7Z" fill="none" stroke="#fff" stroke-width="2.8" stroke-linejoin="round"/>
<path d="M464.4 247.5L465.3 245.5L466.6 246.0L466.4 248.3L465.1 248.8ZM212.8 111.8L218.3 109.8L222.0 111.1L220.2 113.9L214.7 114.4ZM223.8 124.2L229.4 121.6L235.8 120.1L237.6 121.3L232.1 124.2L227.5 125.2ZM234.0 130.6L238.6 129.0L243.2 129.0L238.6 130.1ZM256.9 144.0L258.8 143.2L261.5 150.4L261.5 151.9L258.8 149.1L257.9 146.5ZM546.6 161.9L551.2 161.9L552.1 165.8L549.3 169.7L546.6 167.1ZM574.2 164.5L576.9 161.2L584.3 161.9L583.9 162.7L577.8 163.2L575.4 165.8ZM630.2 149.1L633.9 147.8L637.6 144.0L640.9 138.8L639.4 138.3L636.7 142.7L633.0 145.8L629.9 148.3ZM497.8 282.0L500.6 280.7L501.9 282.7L501.2 286.6L498.8 287.9L497.5 285.3ZM492.9 290.4L493.8 294.3L495.6 302.0L494.7 302.0L492.7 294.3ZM501.5 305.9L503.0 311.0L503.7 317.4L502.6 317.4L501.9 311.0ZM495.1 127.2L497.8 126.7L499.3 124.7L496.0 123.1L494.2 124.7ZM503.4 124.7L505.2 123.4L504.3 120.8L502.4 122.1Z" fill="#fff" stroke="#fff" stroke-width="1.2" stroke-linejoin="round"/>
</g>
<rect x="108.0" y="56.0" width="662.0" height="451.8" fill="none" stroke="#0c0c0c" stroke-width="2"/>
<path d="M91.0 487.0H108.0M770.0 487.0H787.0M91.0 435.6H108.0M770.0 435.6H787.0M91.0 384.2H108.0M770.0 384.2H787.0M91.0 332.8H108.0M770.0 332.8H787.0M91.0 281.4H108.0M770.0 281.4H787.0M91.0 230.0H108.0M770.0 230.0H787.0M91.0 178.6H108.0M770.0 178.6H787.0M91.0 127.2H108.0M770.0 127.2H787.0M91.0 75.8H108.0M770.0 75.8H787.0M163.2 507.8V524.5M255.1 507.8V524.5M347.1 507.8V524.5M439.0 507.8V524.5M530.9 507.8V524.5M622.9 507.8V524.5M714.8 507.8V524.5" stroke="#0c0c0c" stroke-width="2" fill="none"/>
<rect x="803.0" y="487.26" width="35.0" height="20.54" fill="#3b1637" stroke="#0c0c0c" stroke-width="1.9"/>
<rect x="803.0" y="466.73" width="35.0" height="20.54" fill="#4f2263" stroke="#0c0c0c" stroke-width="1.9"/>
<rect x="803.0" y="446.19" width="35.0" height="20.54" fill="#59308c" stroke="#0c0c0c" stroke-width="1.9"/>
<rect x="803.0" y="425.65" width="35.0" height="20.54" fill="#2b3f8e" stroke="#0c0c0c" stroke-width="1.9"/>
<rect x="803.0" y="405.12" width="35.0" height="20.54" fill="#2a63a5" stroke="#0c0c0c" stroke-width="1.9"/>
<rect x="803.0" y="384.58" width="35.0" height="20.54" fill="#5e9bc8" stroke="#0c0c0c" stroke-width="1.9"/>
<rect x="803.0" y="364.05" width="35.0" height="20.54" fill="#4fa898" stroke="#0c0c0c" stroke-width="1.9"/>
<rect x="803.0" y="343.51" width="35.0" height="20.54" fill="#259f52" stroke="#0c0c0c" stroke-width="1.9"/>
<rect x="803.0" y="322.97" width="35.0" height="20.54" fill="#45ab48" stroke="#0c0c0c" stroke-width="1.9"/>
<rect x="803.0" y="302.44" width="35.0" height="20.54" fill="#7bc043" stroke="#0c0c0c" stroke-width="1.9"/>
<rect x="803.0" y="281.90" width="35.0" height="20.54" fill="#a8d154" stroke="#0c0c0c" stroke-width="1.9"/>
<rect x="803.0" y="261.36" width="35.0" height="20.54" fill="#c9dc62" stroke="#0c0c0c" stroke-width="1.9"/>
<rect x="803.0" y="240.83" width="35.0" height="20.54" fill="#e8eb85" stroke="#0c0c0c" stroke-width="1.9"/>
<rect x="803.0" y="220.29" width="35.0" height="20.54" fill="#f6ef64" stroke="#0c0c0c" stroke-width="1.9"/>
<rect x="803.0" y="199.75" width="35.0" height="20.54" fill="#f9e644" stroke="#0c0c0c" stroke-width="1.9"/>
<rect x="803.0" y="179.22" width="35.0" height="20.54" fill="#fcc442" stroke="#0c0c0c" stroke-width="1.9"/>
<rect x="803.0" y="158.68" width="35.0" height="20.54" fill="#faa63e" stroke="#0c0c0c" stroke-width="1.9"/>
<rect x="803.0" y="138.15" width="35.0" height="20.54" fill="#f5812b" stroke="#0c0c0c" stroke-width="1.9"/>
<rect x="803.0" y="117.61" width="35.0" height="20.54" fill="#ef5526" stroke="#0c0c0c" stroke-width="1.9"/>
<rect x="803.0" y="97.07" width="35.0" height="20.54" fill="#e3242b" stroke="#0c0c0c" stroke-width="1.9"/>
<rect x="803.0" y="76.54" width="35.0" height="20.54" fill="#b52126" stroke="#0c0c0c" stroke-width="1.9"/>
<rect x="803.0" y="56.00" width="35.0" height="20.54" fill="#7a1a1b" stroke="#0c0c0c" stroke-width="1.9"/>
</svg>
<div class="title" style="left:247.5px;top:-2.6px;width:386px;">OH recycling day (%)</div><div class="lab" style="left:16.0px;top:59.5px;transform:scaleX(0.964)">80°N</div><div class="lab" style="left:14.7px;top:162.0px;transform:scaleX(0.999)">40°N</div><div class="lab" style="left:32.7px;top:264.9px;transform:scaleX(0.989)">0°</div><div class="lab" style="left:14.8px;top:367.9px;transform:scaleX(0.916)">40°S</div><div class="lab" style="left:16.2px;top:471.0px;transform:scaleX(0.896)">80°S</div><div class="lab" style="left:210.9px;top:524.5px;transform:scaleX(0.937)">100°W</div><div class="lab" style="left:422.0px;top:524.5px;transform:scaleX(0.986)">0°</div><div class="lab" style="left:572.8px;top:524.5px;transform:scaleX(0.913)">100°E</div><div class="lab" style="left:884.5px;top:490.3px;transform:scaleX(0.969)">0</div><div class="lab" style="left:868.1px;top:449.0px;transform:scaleX(0.939)">10</div><div class="lab" style="left:868.1px;top:407.8px;transform:scaleX(0.939)">20</div><div class="lab" style="left:869.1px;top:366.5px;transform:scaleX(0.912)">30</div><div class="lab" style="left:869.1px;top:325.3px;transform:scaleX(0.912)">40</div><div class="lab" style="left:868.1px;top:284.0px;transform:scaleX(0.939)">50</div><div class="lab" style="left:868.1px;top:242.7px;transform:scaleX(0.939)">60</div><div class="lab" style="left:868.1px;top:201.5px;transform:scaleX(0.939)">70</div><div class="lab" style="left:869.1px;top:160.2px;transform:scaleX(0.912)">80</div><div class="lab" style="left:868.1px;top:119.0px;transform:scaleX(0.939)">90</div><div class="lab" style="left:850.1px;top:77.7px;transform:scaleX(0.961)">100</div><div class="lab" style="left:850.7px;top:36.4px;transform:scaleX(1.006)">110</div>
</body></html>
